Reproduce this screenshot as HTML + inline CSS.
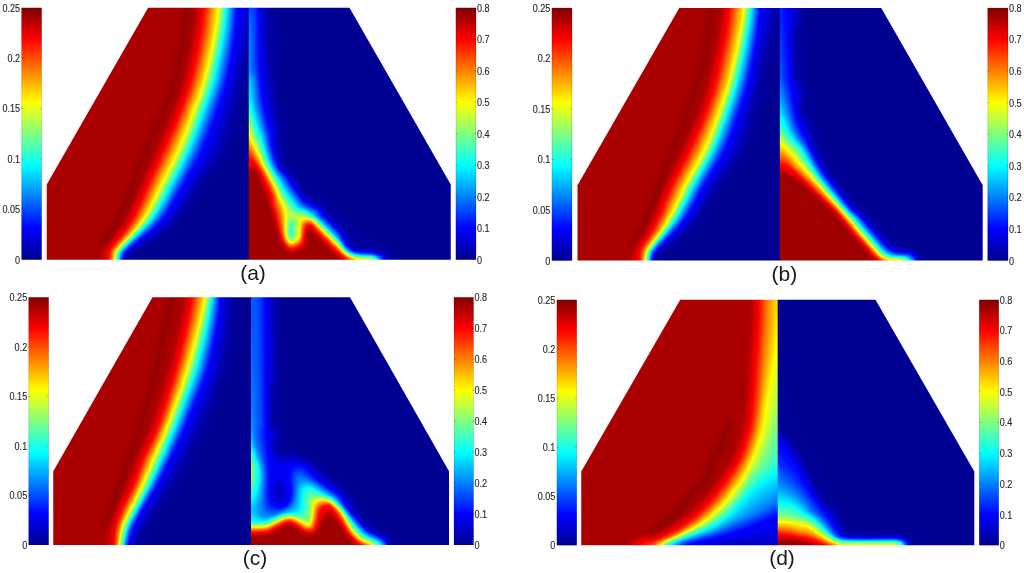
<!DOCTYPE html>
<html lang="en"><head><meta charset="utf-8"><title>Figure</title>
<style>html,body{margin:0;padding:0;background:#fff}svg{display:block}text{font-family:"Liberation Sans",sans-serif;font-size:10px;fill:#262626;stroke:#262626;stroke-width:0.12px}text.cap{font-size:21px;fill:#1a1a1a;stroke:none}</style></head><body>
<svg width="1024" height="573" viewBox="0 0 1024 573">
<defs>
<filter id="jet" filterUnits="userSpaceOnUse" x="0" y="0" width="1024" height="573" color-interpolation-filters="sRGB"><feGaussianBlur stdDeviation="1.2"/><feComponentTransfer><feFuncR type="table" tableValues="0 0 0 0 0.5 1 1 1 0.5"/><feFuncG type="table" tableValues="0 0 0.5 1 1 1 0.5 0 0"/><feFuncB type="table" tableValues="0.5 1 1 1 0.5 0 0 0 0"/><feFuncA type="linear" slope="0" intercept="1"/></feComponentTransfer></filter>
<linearGradient id="cbg" x1="0" y1="1" x2="0" y2="0"><stop offset="0" stop-color="#00008f"/><stop offset="0.125" stop-color="#0000ff"/><stop offset="0.25" stop-color="#0080ff"/><stop offset="0.375" stop-color="#00ffff"/><stop offset="0.5" stop-color="#80ff80"/><stop offset="0.625" stop-color="#ffff00"/><stop offset="0.75" stop-color="#ff8000"/><stop offset="0.875" stop-color="#ff0000"/><stop offset="1" stop-color="#800000"/></linearGradient>
</defs>
<rect width="1024" height="573" fill="#fff"/>
<clipPath id="cla"><polygon points="46.75,259.75 46.75,184.6 148.1,7.8 249.45,7.8 249.45,259.75"/></clipPath>
<clipPath id="cra"><polygon points="248.75,259.75 248.75,7.8 349.5,7.8 450.75,184.6 450.75,259.75"/></clipPath>
<g clip-path="url(#cla)"><g filter="url(#jet)">
<rect x="38.75" y="-0.2" width="218" height="268" fill="#040404"/>
<path fill="#050505" d="M254.8,265.8L128.8,265.8L108.8,266.3L40.8,266.3L40.3,265.8L40.3,1.8L40.8,1.3L195.8,1.3L254.8,1.8Z"/>
<path fill="#080808" d="M131.8,265.8L108.8,266.3L40.8,266.3L40.3,265.8L40.3,1.8L40.8,1.3L195.8,1.3L254.8,1.7L254.8,73.6L248.8,73.6L247.8,76.8L246.8,80.8L241.7,106.8L236.4,129.8L233.1,141.8L231.4,146.8L229.7,150.8L227.6,154.8L224.5,159.8L220.9,164.8L207.3,182.8L203.4,188.8L191.6,207.8L187.4,213.8L182.6,219.8L178.8,223.8L174.6,227.8L169.8,231.8L164.5,235.8L158.8,239.6L150.8,244.4L146.7,246.8L140.8,249.8L137.6,251.8L136.5,252.8L134.9,254.8L133.1,257.8L132.7,259.8L132.7,265.8Z"/>
<path fill="#0b0b0b" d="M126.8,265.8L108.8,266.2L40.8,266.3L40.3,265.8L40.3,1.8L40.8,1.3L195.8,1.3L254.8,1.8L254.8,48.8L248.8,48.8L247.8,51.7L241.8,76.4L236,103.8L230.2,128.8L228.3,135.8L226.4,141.8L224.3,147.8L223,150.8L220.4,155.8L217.2,160.8L201.8,181.8L197.8,187.9L186.1,206.8L182,212.8L177.4,218.8L173.8,222.8L170.7,225.8L166.8,229.4L160.8,234.3L151.8,240.4L140.8,247.2L133.9,250.8L131.8,252.5L129.7,254.8L128.6,256.8L127.8,258.8L127.7,265.8Z"/>
<path fill="#0e0e0e" d="M126.8,265.8L108.8,266.2L40.8,266.3L40.3,265.8L40.3,1.8L40.8,1.3L195.8,1.3L254.8,1.8L254.8,39.8L248.8,39.8L247.8,42.8L241.8,67.7L233.7,103.8L227.9,126.8L225.8,134.8L223.9,140.8L221.3,147.8L219.6,151.8L217.4,155.8L214.3,160.8L198.8,182.7L194.9,188.8L184,206.8L179.9,212.8L176.1,217.8L172.6,221.8L168.6,225.8L164.1,229.8L157.9,234.8L149.8,240.3L139.5,246.8L132.8,250.6L130.8,252.2L128.7,254.8L127.2,257.8L126.8,259.8Z"/>
<path fill="#121212" d="M125.8,265.8L108.8,266.2L40.8,266.3L40.3,265.8L40.3,1.8L40.8,1.3L195.8,1.3L254.8,1.8L254.8,29.5L248.8,29.5L247.8,32.8L246.8,37L234.5,90.8L230,108.8L225.2,126.8L222.6,135.8L219.5,144.8L216.6,151.8L213.9,156.8L210.8,161.8L195.1,184.8L181.8,206.8L177.8,212.8L174,217.8L170.6,221.8L167.7,224.8L163.3,228.8L157.2,233.8L150.2,238.8L138,246.8L132.8,249.9L130.2,251.8L127.9,254.8L126.5,257.8L126.1,259.8L126.1,265.8Z"/>
<path fill="#151515" d="M124.8,265.8L108.8,266.2L40.8,266.3L40.3,265.8L40.3,1.8L40.8,1.3L186.8,1.3L254.8,1.8L254.8,16.3L248.8,16.3L247.8,20.2L243.7,39.8L235.3,78.8L231.8,93.5L224.2,120.8L220.8,132.8L217,143.8L213.6,151.8L211.6,155.8L208.6,160.8L193.4,183.8L180.3,205.8L176.4,211.8L172.7,216.8L169.5,220.8L165.6,224.8L161.2,228.8L155.2,233.8L148.4,238.8L136.5,246.8L131.8,249.8L129.2,251.8L127.1,254.8L125.8,257.8L125.5,259.8L125.5,265.8Z"/>
<path fill="#181818" d="M124.8,265.8L108.8,266.2L40.8,266.2L40.3,265.8L40.3,1.8L40.8,1.4L186.8,1.4L246.7,1.8L246.6,8.8L243.6,27.8L239.4,49.8L232.4,82.8L228.4,97.8L219.2,128.8L215.2,140.8L211.1,150.8L208.1,156.8L204.6,162.8L191.1,183.8L177.6,206.8L171.4,215.8L167.4,220.8L164.6,223.8L160.3,227.8L155.7,231.8L149.3,236.8L130.8,249.7L128.2,251.8L126.3,254.8L125.1,257.8L124.8,259.8Z"/>
<path fill="#1d1d1d" d="M123.8,265.8L108.8,266.2L40.8,266.2L40.3,265.8L40.3,1.8L40.8,1.4L186.8,1.4L217.8,1.5L243.3,1.8L243.3,7.8L243.2,9.8L242,19.8L240.5,30.8L236.8,51.8L230.9,80.8L227.1,94.8L216.8,127.8L212.7,139.8L208.6,149.8L205.7,155.8L201.7,162.8L188.2,184.8L176.7,204.8L173.6,209.8L170.1,214.8L164.5,221.8L161.6,224.8L157.2,228.8L148.7,235.8L129.8,249.6L127.3,251.8L125.8,254.3L124.5,257.8L124.2,259.8L124.2,265.8Z"/>
<path fill="#232323" d="M122.8,265.8L108.8,266.2L40.8,266.2L40.3,265.8L40.3,1.8L40.8,1.4L186.8,1.4L217.8,1.5L237.4,1.8L237.3,9.8L237.1,16.8L236.6,23.8L235.5,33.8L232.5,53.8L229.4,70.8L227.4,80.8L225.4,87.8L223.5,93.8L213.3,123.8L209.3,134.8L204.1,147.8L200.3,155.8L194.4,166.8L182.8,187L173.5,203.8L170.5,208.8L167.2,213.8L161.9,220.8L156.8,226.1L147.8,234L132.7,245.8L127.9,249.8L125.9,251.8L124.8,253.8L123.6,256.8L123.2,259.8L123.2,265.8Z"/>
<path fill="#292929" d="M121.8,265.8L107.8,266.2L40.8,266.2L40.3,265.8L40.3,1.8L40.8,1.4L186.8,1.4L217.8,1.5L235.7,1.8L235.7,9.8L235.4,16.8L234.1,31.8L233,39.8L231.2,51.8L226,78.8L223.9,86.8L221,95.8L208,132.8L202,147.8L198.3,155.8L193,165.8L181.8,185.6L172.3,202.8L166.2,212.8L160.2,220.8L155.4,225.8L145.8,234.3L132.8,244.7L125.8,250.9L124.4,252.8L123.6,254.8L122.8,257.5L122.5,259.8L122.5,265.8Z"/>
<path fill="#303030" d="M121.8,265.8L107.8,266.2L40.8,266.2L40.4,265.8L40.4,1.8L40.8,1.4L186.8,1.4L217.8,1.5L234.7,1.8L234.7,8.8L234.3,17.8L233.6,25.8L232.5,34.8L229.5,53.8L224.6,78.8L222.4,86.8L219.5,95.8L207.1,130.8L204.1,138.8L200.8,146.8L197.1,154.8L192,164.8L180.2,185.8L171,202.8L165.5,211.8L159.8,219.8L155.2,224.8L144,234.8L131.8,244.8L126.1,249.8L124.8,251.3L123.8,252.8L123.3,253.8L122.1,257.8L121.9,259.8L121.9,265.8Z"/>
<path fill="#363636" d="M120.8,265.8L107.8,266.2L40.8,266.2L40.4,265.8L40.4,1.8L40.8,1.4L186.8,1.4L217.8,1.5L233.7,1.8L233.7,8.8L233.3,16.8L232.5,25.8L231.4,34.8L228.2,53.8L223.2,78.8L221.3,85.8L218.3,94.8L205.2,131.8L199.2,146.8L195.1,155.8L189.9,165.8L178.8,185.9L170.3,201.8L164.3,211.8L158.6,219.8L154,224.8L142.9,234.8L131.8,244.2L124.5,250.8L123.2,252.8L121.8,256.8L121.5,259.8L121.5,265.8Z"/>
<path fill="#3d3d3d" d="M120.8,265.8L107.8,266.2L40.8,266.2L40.4,265.8L40.4,1.8L40.8,1.4L186.8,1.4L217.8,1.5L232.7,1.8L232.7,8.8L232.3,15.8L231.5,24.8L230.3,33.8L227.2,52.8L222,77.8L220.1,84.8L217.2,93.8L203.6,131.8L198.1,145.8L193.5,155.8L188.4,165.8L177.8,185.2L168.4,202.8L163,211.8L157.4,219.8L152.8,224.8L141.9,234.8L130.8,244.4L123.9,250.8L122.7,252.8L121.4,256.8L121,259.8L121,265.8Z"/>
<path fill="#434343" d="M119.8,265.8L107.8,266.1L40.8,266.2L40.4,265.8L40.4,1.8L40.8,1.4L186.8,1.4L216.8,1.6L231.7,1.8L231.7,7.8L231.2,15.8L230.4,24.8L229.2,33.8L227.4,44.8L225.5,54.8L220.4,78.8L218.4,85.8L215.4,94.8L202.4,130.8L196.1,146.8L192,155.8L186.4,166.8L175.8,186.5L167.2,202.8L161.2,212.8L156.2,219.8L151.7,224.8L140.9,234.8L130.8,243.7L123.4,250.8L122.2,252.8L120.9,256.8L120.6,259.8L120.6,265.8Z"/>
<path fill="#494949" d="M119.8,265.8L107.8,266.1L40.8,266.1L40.4,265.8L40.4,1.8L40.8,1.5L186.8,1.4L230.7,1.8L230.7,7.8L230.2,15.8L229.3,24.8L228,33.8L226.4,43.8L224.5,53.8L219.3,77.8L217.1,85.8L214.1,94.8L201.1,130.8L195.2,145.8L191.2,154.8L185.2,166.8L167.1,200.8L161.4,210.8L155.9,218.8L151.7,223.8L140.1,234.8L129.8,244L122.9,250.8L121.7,252.8L120.5,256.8L120.1,259.8L120.1,265.8Z"/>
<path fill="#505050" d="M118.8,265.8L107.8,266.1L40.8,266.1L40.4,265.8L40.4,1.8L40.8,1.5L186.8,1.5L229.7,1.8L229.7,7.8L229.2,14.8L228.3,23.8L226.9,33.8L223.3,53.8L218.1,77.8L215.9,85.8L212.8,94.8L200.2,129.8L194.3,144.8L189.9,154.8L184,166.8L166,200.8L160.3,210.8L154.9,218.8L150.7,223.8L139.2,234.8L128.8,244.4L122.4,250.8L121.2,252.8L120,256.8L119.7,259.8L119.7,265.8Z"/>
<path fill="#565656" d="M118.8,265.8L107.8,266.1L40.8,266.1L40.4,265.8L40.4,1.8L40.8,1.5L186.8,1.5L228.7,1.8L228.7,7.8L228.2,14.8L227.2,23.8L225.8,33.8L222.4,52.8L216.9,77.8L214.6,85.8L211.3,95.8L199.4,128.8L193.5,143.8L188.7,154.8L182.8,166.8L165,200.8L159.3,210.8L153.9,218.8L149.7,223.8L138.5,234.8L128.8,243.8L121.9,250.8L120.7,252.8L119.6,256.8L119.3,259.8L119.3,265.8Z"/>
<path fill="#5c5c5c" d="M118.8,265.8L107.8,266.1L40.8,266.1L40.4,265.8L40.4,1.8L40.8,1.5L186.8,1.5L227.7,1.8L227.7,7.8L227.1,14.8L226.1,23.8L224.5,34.8L220.6,55.8L215.4,78.8L213.1,86.8L209.3,97.8L198.5,127.8L192.3,143.8L186.5,156.8L180.1,169.8L163.4,201.8L159.4,208.8L156.3,213.8L151.4,220.8L147.9,224.8L137.7,234.8L127.8,244.1L122.2,249.8L120.7,251.8L119.6,254.8L119,257.8Z"/>
<path fill="#636363" d="M117.8,265.8L106.8,266.1L40.8,266.1L40.5,265.8L40.5,1.8L40.8,1.5L186.8,1.5L226.7,1.8L226.7,7.8L226.2,13.8L225.2,22.8L223.5,34.8L220.3,51.8L214.5,77.8L212.2,85.8L208.2,97.8L197.4,127.8L191.1,143.8L186.3,154.8L180.5,166.8L163.4,199.8L157.2,210.8L152,218.8L147.9,223.8L137,234.8L127.5,243.8L120.9,250.8L119.8,252.8L118.8,256.8L118.5,259.8L118.5,265.8Z"/>
<path fill="#696969" d="M117.8,265.8L106.8,266.1L40.8,266.1L40.5,265.8L40.5,1.8L40.8,1.5L186.8,1.5L225.8,1.8L225.8,7.8L225.2,14.8L224.1,23.8L222.5,34.8L218.4,55.8L213.4,77.8L211.2,85.8L207.5,96.8L196.3,127.8L190.1,143.8L185.3,154.8L178.4,168.8L160.8,202.8L157.5,208.8L153.8,214.8L149.6,220.8L146.2,224.8L136.4,234.8L126.8,244L121.2,249.8L119.8,251.8L118.8,254.8L118.2,257.8L118.1,265.8Z"/>
<path fill="#707070" d="M116.8,265.8L100.8,266.1L40.8,266.1L40.5,265.8L40.5,1.8L40.8,1.5L186.8,1.5L224.9,1.8L224.9,7.8L224.5,12.8L223.4,22.8L221.9,32.8L218.1,52.8L212.4,77.8L210.2,85.8L206.8,95.8L195,128.8L189.2,143.8L185.3,152.8L180,163.8L160.4,201.8L155.4,210.8L150.3,218.8L146.3,223.8L135.7,234.8L125.8,244.4L120,250.8L119,252.8L117.9,256.8L117.7,259.8L117.7,265.8Z"/>
<path fill="#767676" d="M116.8,265.8L100.8,266.1L40.8,266.1L40.5,265.8L40.5,1.8L40.8,1.5L186.8,1.5L224,1.8L224,7.8L223.6,12.8L222.5,22.8L221,32.8L217.2,52.8L211.5,77.8L209.2,85.8L206.2,94.8L194,128.8L188.7,142.8L184.4,152.8L178.8,164.4L167.5,185.8L158.4,203.8L155.1,209.8L152.1,214.8L148,220.8L144.7,224.8L135.1,234.8L124.9,244.8L120.3,249.8L118.9,251.8L118.2,253.8L117.5,256.8L117.3,259.8L117.3,265.8Z"/>
<path fill="#7c7c7c" d="M116.8,265.8L100.8,266L40.8,266L40.5,265.8L40.5,1.8L40.8,1.6L186.8,1.5L223.2,1.8L223.2,7.8L222.6,13.8L221.4,23.8L220.1,32.8L216.3,52.8L210.5,77.8L208.2,85.8L205.2,94.8L192.7,129.8L187.8,142.8L183.8,152.2L178.8,162.5L166.8,185.3L157,204.8L153.7,210.8L150.6,215.8L147.2,220.8L143.1,225.8L134.5,234.8L124.8,244.4L119.8,249.8L118.8,251.3L117.8,253.8L117.1,256.8L116.9,259.8L116.9,265.8Z"/>
<path fill="#838383" d="M115.8,265.8L100.8,266L40.8,266L40.5,265.8L40.5,1.8L40.8,1.6L186.8,1.6L222.3,1.8L222.3,7.8L222,11.8L221,20.8L219.2,32.8L215.4,52.8L209.6,77.8L207.3,85.8L204.3,94.8L191.8,129.8L186.8,142.9L182.8,152.3L177.8,162.5L165.8,185.4L156.1,204.8L152.8,210.8L149.8,215.8L146.4,220.8L142.3,225.8L133.9,234.8L124.8,243.8L120.2,248.8L118.6,250.8L117.6,252.8L116.7,256.8L116.5,259.8L116.5,265.8Z"/>
<path fill="#898989" d="M115.8,265.8L100.8,266L40.8,266L40.5,265.8L40.5,1.8L40.8,1.6L186.8,1.6L221.5,1.8L221.5,7.8L221.1,12.8L219.9,22.8L218.4,32.8L214.5,52.8L209,76.8L207,83.8L204.1,92.8L191.2,128.8L186.6,140.8L182.8,150L177.6,160.8L164.8,185.5L155.2,204.8L151.9,210.8L149,215.8L145.6,220.8L141.6,225.8L133.3,234.8L123.8,244.3L118.1,250.8L117.2,252.8L116.4,256.8L116.1,259.8L116.1,265.8Z"/>
<path fill="#8f8f8f" d="M114.8,265.8L100.8,266L40.8,266L40.5,265.8L40.5,1.8L40.8,1.6L186.8,1.6L220.8,1.8L220.8,7.8L220.3,12.8L219.1,22.8L217.6,32.8L213.9,51.8L208.1,76.8L205.8,84.8L202.8,93.8L190.8,127.2L185.6,140.8L181.4,150.8L176.1,161.8L163.7,185.8L154.3,204.8L151.1,210.8L148.1,215.8L144.8,220.8L140.8,225.8L132.6,234.8L123.7,243.8L119.2,248.8L117.7,250.8L116.8,252.8L116,256.8L115.7,259.8L115.7,265.8Z"/>
<path fill="#969696" d="M114.8,265.8L100.8,266L40.8,266L40.6,265.8L40.6,1.8L40.8,1.6L186.8,1.6L220,1.8L220,7.8L219.6,11.8L218.3,22.8L216.8,32.8L212.8,52.8L207.2,76.8L204.9,84.8L201.9,93.8L190.8,124.6L185.3,138.8L180.3,150.8L175.1,161.8L162.3,186.8L153.8,204.3L147.9,214.8L144,220.8L140.1,225.8L132,234.8L122.8,244.3L117.2,250.8L116.3,252.8L115.7,255.8L115.4,258.8L115.3,265.8Z"/>
<path fill="#9c9c9c" d="M114.8,265.8L100.8,266L40.8,266L40.6,265.8L40.6,1.8L40.8,1.6L186.8,1.6L219.2,1.8L219.2,7.8L218.8,12.6L217.5,22.8L215.8,33.8L211.8,53.9L206.8,75.1L204.8,82.5L201.8,91.8L190.8,122L185.8,135.1L179.8,149.6L174.8,160.4L161.4,186.8L153.8,202.6L147.7,213.8L143.2,220.8L139.3,225.8L131.3,234.8L122.6,243.8L118.2,248.8L116.7,250.8L115.9,252.8L115.3,255.8L115,258.8L114.9,265.8Z"/>
<path fill="#a3a3a3" d="M113.8,265.8L40.8,266L40.6,265.8L40.6,1.8L40.8,1.6L186.8,1.6L218.2,1.8L218.2,7.8L217.8,13.3L216.7,21.8L214.8,34.1L210.8,54.1L205.8,75.2L203.8,82.6L200.8,91.8L189.8,121.8L184.8,134.8L178.8,149.2L173.8,160.1L160.4,186.8L152.8,202.7L146.8,213.8L142.3,220.8L138.5,225.8L130.7,234.8L121.8,244.1L116.2,250.8L115.4,252.8L114.7,256.8L114.5,259.8L114.5,265.8Z"/>
<path fill="#a9a9a9" d="M113.8,265.8L40.8,266L40.6,265.8L40.6,1.8L40.8,1.6L186.8,1.6L217,1.8L217,7.8L216.5,12.8L215.4,21.8L213.8,32.7L209.8,53.1L204.8,74.4L202.8,81.9L199.8,91.2L185.8,128.9L178.8,146.1L172.8,159.3L159.2,186.8L151.6,202.8L145.8,213.8L141.4,220.8L137.7,225.8L130,234.8L121.4,243.8L117.1,248.8L115.7,250.8L114.9,252.8L114.3,255.8L114.1,258.8L114,265.8Z"/>
<path fill="#afafaf" d="M112.8,265.8L40.8,265.9L40.6,265.8L40.6,1.8L40.8,1.7L186.8,1.6L215.5,1.8L215.5,7.8L215.1,11.8L214.1,20.8L212.7,30.8L209.1,49.8L204,71.8L201.7,80.8L198.8,90.2L185.2,126.8L178.7,142.8L172.5,156.8L158.3,185.8L149.4,204.8L144.7,213.8L140.5,220.8L136.8,225.8L129.2,234.8L119.9,244.8L115.1,250.8L114.3,252.8L113.7,256.8L113.5,265.8Z"/>
<path fill="#b6b6b6" d="M112.8,265.8L40.8,265.9L40.6,265.8L40.6,1.8L40.8,1.7L186.8,1.7L214,1.8L214,7.8L213.7,11.8L212.8,19.8L211.6,28.8L208.5,45.8L204.1,65.8L201,78.8L198.6,86.8L195.1,96.8L186.1,120.8L179.3,137.8L172.4,153.8L156.8,186.2L148.2,204.8L143.6,213.8L139.5,220.8L135.1,226.8L128.5,234.8L119.2,244.8L116,248.8L114.6,250.8L113.8,252.8L113.3,255.8L113.1,258.8L113,265.8Z"/>
<path fill="#bcbcbc" d="M111.8,265.8L40.6,265.8L40.6,1.8L186.8,1.7L212.5,1.8L212.5,7.8L212.3,10.8L211.5,18.8L210.3,27.8L207.3,44.8L203.2,63.8L199.9,77.8L197.6,85.8L194.1,95.8L185.4,118.8L178.2,136.8L171.3,152.8L155.8,185.4L146.5,205.8L142,214.8L137.8,221.8L133.5,227.8L127.8,234.8L118.8,244.5L115.3,248.8L114,250.8L113.2,252.8L112.6,256.8L112.5,265.8Z"/>
<path fill="#c2c2c2" d="M111.8,265.8L40.6,265.8L40.6,1.8L211,1.8L211,8.8L209.7,21.8L207.9,33.8L205.3,47.8L202.1,62.8L198.3,78.8L195.6,87.8L191.3,99.8L181.3,125.8L172.1,147.8L166.2,160.8L154.8,184.6L146.3,203.8L141.9,212.8L137.5,220.8L132.6,227.8L127,234.8L117.8,244.8L114.7,248.8L113.4,250.8L112.7,252.8L112.2,255.8L112,258.8L112,265.8Z"/>
<path fill="#c9c9c9" d="M110.8,265.8L40.7,265.8L40.7,1.8L209.6,1.8L209.5,8.8L208.3,21.8L206.5,33.8L204,47.8L200.7,62.8L196.9,78.8L194.2,87.8L190,99.8L181.2,122.8L171.8,145.2L165.7,158.8L152.8,186.2L145.1,203.8L140.8,212.8L136.4,220.8L131.6,227.8L126.1,234.8L117.1,244.8L114,248.8L112.8,250.8L112.1,252.8L111.5,256.8L111.4,265.8Z"/>
<path fill="#cfcfcf" d="M110.8,265.8L40.7,265.8L40.7,1.8L208.2,1.8L208.1,8.8L207,20.8L205.3,32.8L202.8,46.8L199.6,61.8L195.6,78.8L192.9,87.8L189.1,98.8L181.5,118.8L173.8,137.3L166.1,154.8L152.2,184.8L143.4,204.8L139.2,213.8L135.3,220.8L130.7,227.8L125.3,234.8L116.3,244.8L113.4,248.8L112.2,250.8L111.5,252.8L110.9,256.8Z"/>
<path fill="#d6d6d6" d="M109.8,265.8L40.7,265.8L40.7,1.8L206.8,1.8L206.7,8.8L205.6,20.8L203.7,33.8L201.2,47.8L197.8,63.8L194,79.8L190.9,89.8L187.1,100.8L180.8,117.5L175.2,130.8L163.7,156.8L150.5,185.8L141.8,205.8L138,213.8L133.6,221.8L128.9,228.8L124.4,234.8L115.5,244.8L112.7,248.8L111.5,250.8L110.9,252.8L110.4,255.8L110.2,258.8L110.2,265.8Z"/>
<path fill="#dcdcdc" d="M108.8,265.8L40.7,265.8L40.7,1.8L205.4,1.8L205.3,8.8L204,21.8L202.1,34.8L199.8,47.8L196.8,62.1L192.8,79.2L189.8,89.4L185.8,100.9L180.8,114.3L175.8,126.4L149.2,185.8L140.8,205.5L136.8,214L132.8,221.4L127.9,228.8L122.8,235.6L115.5,243.8L111.9,248.8L110.8,250.8L110.2,252.8L109.6,256.8L109.4,265.8Z"/>
<path fill="#e2e2e2" d="M107.8,265.8L40.7,265.8L40.7,1.8L203.8,1.8L203.7,8.8L202.6,19.8L200.8,33.3L197.8,49.8L194.8,63.9L190.8,80.8L187.8,90.8L183.8,102.2L179.8,113L175.8,122.8L148.1,184.8L140.8,202.2L135.8,213.1L131.8,220.7L126.8,228.5L121.8,235.3L114.3,243.8L110.3,249.8L109.2,252.8L108.6,256.8L108.4,265.8Z"/>
<path fill="#e7e7e7" d="M105.8,265.8L40.7,265.8L40.7,1.8L201.2,1.8L201.1,8.8L199.9,20.8L198.1,33.8L195.6,47.8L192.2,63.8L188.5,79.8L185.5,89.8L181.7,100.8L176.9,113.8L173.2,122.8L145.2,185.8L136.7,205.8L133,213.8L128.7,221.8L124.2,228.8L119.9,234.8L111.4,244.8L108.7,248.8L107.6,250.8L107,252.8L106.5,255.8L106.2,258.8L106.2,265.8Z"/>
<path fill="#eaeaea" d="M104.8,265.8L40.7,265.8L40.7,1.8L199.8,1.8L199.7,8.8L198.5,20.8L196.7,33.8L194.2,47.8L191,62.8L187.1,79.8L184.1,89.8L180.3,100.8L175.5,113.8L171.8,122.8L161,146.8L143.8,186L135.3,205.8L131.6,213.8L127.4,221.8L122.9,228.8L118.5,234.8L110.2,244.8L106.3,250.8L105.5,252.8L104.9,256.8Z"/>
<path fill="#ededed" d="M102.8,265.8L40.7,265.8L40.7,1.8L198.4,1.8L198.4,8.8L197.2,20.8L195.3,33.8L193,46.8L189.4,63.8L185.7,79.8L183.1,88.8L179,100.8L174.1,113.8L170.4,122.8L159.6,146.8L142,186.8L134.4,204.8L130.3,213.8L126.1,221.8L121.6,228.8L117.3,234.8L108.9,244.8L104.9,250.8L104.1,252.8L103.5,256.8L103.4,265.8Z"/>
<path fill="#f1f1f1" d="M101.8,265.8L40.7,265.8L40.7,1.8L197.1,1.8L197,8.8L195.8,20.8L194,33.8L191.7,46.8L188.5,61.8L184.6,78.8L182.1,87.8L178,99.8L172.8,113.8L169.1,122.8L158.3,146.8L140.7,186.8L133.2,204.8L129.1,213.8L125.4,220.8L121,227.8L116,234.8L107,245.8L104.1,249.8L103,251.8L102.5,253.8L102.1,256.8L102,265.8Z"/>
<path fill="#f4f4f4" d="M99.8,265.8L40.7,265.8L40.7,1.8L195.7,1.8L195.6,8.8L194.5,20.8L192.8,33.1L189.8,49.7L186.8,63.8L182.8,80.8L179.8,90.8L175.8,102.2L171.8,112.9L167.8,122.6L156.4,147.8L139.4,186.8L131.8,205.2L126.8,215.8L122.8,223.2L116.8,232.1L113.8,236.2L103.4,248.8L101.4,251.8L100.9,253.8L100.4,257.8L100.3,265.8Z"/>
<path fill="#f7f7f7" d="M102.8,247.1L101.8,247.6L100.8,247.8L99.8,247.5L98.8,246.5L98.5,245.8L98.2,243.8L98.5,241.8L99,239.8L101,235.8L103.3,231.8L108.8,224L110.8,220.8L113.8,214.8L115.8,210.4L139.4,149.8L143.4,140.8L152.8,120.9L155.8,113.9L161.8,98.3L165.8,86.7L167.8,79.8L171.8,62.7L174.8,48.4L176.8,37.4L178.8,23.8L179.7,14.8L180.2,7.8L180.2,1.8L192.8,1.8L192.7,8.8L191.7,20.8L190.1,32.8L188,44.8L185.2,58.8L180.6,78.8L178.3,86.8L174.5,97.8L169.2,111.8L166.3,118.8L155.8,141.3L151.8,150.5L131.8,201.1L128.8,208.3L125.8,214.9L123.8,218.8L120.8,223.9L112.8,235.6L108.8,240.7L104.8,245.1Z"/>
<path fill="#fafafa" d="M105.8,240.4L104.8,240.8L103.8,239.8L104.2,238.8L105.8,235.7L107.8,232.3L112.3,225.8L115.5,220.8L120.3,210.8L123.1,203.8L128.8,188.8L142.8,153L146.8,143.6L155.2,125.8L159.2,116.8L164.3,103.8L168.4,92.8L171.3,83.8L173.2,76.8L177.3,58.8L180.3,43.8L182.3,31.8L184.1,17.8L184.8,7.8L184.8,1.8L188.1,1.8L188,10.8L186.8,23.7L185.8,31L183.8,43L180.8,58L176.8,75.8L174.8,83.3L171.8,92.6L167.8,103.5L162.8,116.2L158.8,125.2L151.3,140.8L146.1,152.8L132.4,187.8L126.8,203L122.8,212.6L118.8,220.7L116.8,223.9L111.2,231.8L106.8,239.7Z"/>
</g></g>
<g clip-path="url(#cra)"><g filter="url(#jet)">
<rect x="240.75" y="-0.2" width="218" height="268" fill="#040404"/>
<path fill="#050505" d="M456.8,265.8L391.8,265.8L372.8,266.2L340.8,266.3L242.8,266.3L242.3,265.8L242.3,160.8L242.6,1.8L242.8,1.6L279.8,1.8L456.8,1.8Z"/>
<path fill="#080808" d="M393.8,265.8L372.8,266.1L341.8,266.3L242.8,266.3L242.3,265.8L242.3,174.8L242.6,1.8L242.8,1.7L273.8,1.8L274,13.8L274.4,17.8L274.8,20.1L275.8,22.5L278.8,25.5L279.6,26.8L280.1,28.8L280.4,30.8L281,39.8L280.9,45.8L280.3,52.8L278,71.8L277.8,76.8L278,81.8L278.8,89.8L279.8,96.7L281.2,104.8L281.8,107.1L282.8,110L285.5,115.8L286.3,117.8L287,120.8L287.6,123.8L287.9,128.8L287.1,141.8L287.2,152.8L287.9,159.8L288.7,162.8L289.6,164.8L291.7,167.8L297.4,174.8L303.8,183.8L306.8,187.2L308.8,189.1L313.8,192.6L327.8,201L331.6,203.8L333.5,205.8L337.6,210.8L349.8,222.8L354.8,227.1L363.3,233.8L368.9,237.8L376.8,242.8L380.5,244.8L388.8,248.4L390.6,249.8L391.8,251.3L392.4,252.8L393.6,256.8L394,259.8L394,265.8Z"/>
<path fill="#0b0b0b" d="M390.8,265.8L372.8,266.1L341.8,266.3L242.8,266.3L242.3,265.8L242.3,174.8L242.6,1.8L242.8,1.7L268.5,1.8L268.6,12.8L269.2,26.8L270.8,52.9L272.7,76.8L273.8,85L275.8,97.8L281.4,128.8L281.4,132.8L280.3,137.8L280.1,139.8L280,142.8L280.4,146.8L282.8,158.8L283.8,162.3L284.8,164.5L286.4,166.8L291.3,171.8L294.5,175.8L297.2,179.8L302.8,188.7L304.8,191.5L306.8,193.7L309.1,195.8L311.9,197.8L321.8,203.4L323.8,204.9L324.8,205.8L326.3,207.8L328.8,212.2L330,213.8L337.8,220.8L345.4,228.8L348.4,232.8L349.4,234.8L351.9,240.8L352.8,242.3L354,243.8L355.2,244.8L357,245.8L360,246.8L363.8,247.3L372.8,248L375.8,248.4L379.8,249.3L382.8,250.4L384.8,251.4L387.8,253.8L389.4,255.8L390.4,257.8L391,259.8L391,265.8Z"/>
<path fill="#0e0e0e" d="M388.8,265.8L372.8,266.1L341.8,266.3L242.8,266.3L242.3,265.8L242.3,174.8L242.6,1.8L242.8,1.7L266.4,1.8L266.8,21.7L267.8,43.3L268.8,58.4L270.3,75.8L271.6,86.8L273.8,100.2L279.2,129.8L279.1,132.8L278.2,136.8L278,138.8L278,142.8L278.4,147.8L280.8,158.8L281.8,162L283,164.8L285.1,167.8L290,172.8L292.5,175.8L295.2,179.8L301.8,190.3L305.4,194.8L307.4,196.8L310.1,198.8L319.8,204.3L322.8,206.4L324.8,208.8L327.1,212.8L328.6,214.8L336.8,222.3L343,228.8L346.1,232.8L347.3,234.8L350.2,241.8L351.5,243.8L352.5,244.8L353.7,245.8L355.4,246.8L358,247.8L363.8,248.8L371.8,249.2L375.8,249.7L378.8,250.4L380.8,251.1L383.8,252.6L385.8,254.1L387.4,255.8L388.1,256.8L389.1,258.8L389.4,259.8L389.4,265.8Z"/>
<path fill="#121212" d="M387.8,265.8L372.8,266.1L341.8,266.3L242.8,266.3L242.3,265.8L242.3,174.8L242.8,1.7L264.9,1.8L265.1,17.8L266.1,42.8L267.2,60.8L268.6,77.8L269.8,87.2L271.9,100.8L277.5,129.8L277.5,132.8L276.7,136.8L276.6,138.8L277,147.8L279.8,159.6L280.8,162.9L281.8,165.2L283.8,168.2L288.5,172.8L291,175.8L294.5,180.8L300.8,191L302.8,193.7L304.8,196L306.8,197.9L309.3,199.8L319.8,205.7L322.6,207.8L324.2,209.8L326.2,213.8L327.8,215.8L334.8,222L342.3,229.8L344,231.8L345.9,234.8L348.8,241.7L349.3,242.8L350.8,244.7L351.8,245.7L354.8,247.6L358.1,248.8L362.8,249.5L371.8,250.1L374.8,250.5L378.8,251.5L382.8,253.2L384.8,254.7L386,255.8L387.5,257.8L388,258.8L388.3,259.8L388.3,265.8Z"/>
<path fill="#151515" d="M386.8,265.8L372.8,266.1L341.8,266.2L242.8,266.3L242.3,265.8L242.3,174.8L242.8,1.7L263.5,1.8L263.8,17.8L264.7,44.8L265.8,63.8L267,79.8L268.2,88.8L270.4,102.8L276.1,130.8L276.1,132.8L275.5,137.8L275.9,142.8L275.7,145.8L275.9,147.8L278.8,159.8L279.8,162.9L281,165.8L283,168.8L287.8,173.3L289.9,175.8L293.4,180.8L299.5,190.8L303.8,196.2L306.4,198.8L308.8,200.5L319.8,206.7L321.8,208.1L323.2,209.8L325,213.8L326.5,215.8L333.2,221.8L341.2,229.8L343.6,232.8L344.8,234.8L348.2,242.8L349.5,244.8L350.8,246.1L351.8,246.9L353.8,248.2L355.8,249L357.8,249.6L361.8,250.2L370.8,250.8L373.8,251.2L378.8,252.4L381.8,253.6L384.9,255.8L385.8,256.8L387.2,258.8L387.5,259.8L387.5,265.8Z"/>
<path fill="#181818" d="M386.8,265.8L372.8,266.1L341.8,266.2L242.8,266.2L242.3,265.8L242.3,174.8L242.8,1.7L262.3,1.8L262.5,18.8L263.4,47.8L264.4,68.8L265.4,81.8L266.6,90.8L268.8,103.8L274.6,130.8L274.7,132.8L274.5,136.8L275.2,142.8L274.7,145.8L274.8,147.8L278.2,160.8L279.2,163.8L280.6,166.8L282.8,169.7L286.8,173.4L288.9,175.8L291.1,178.8L298.5,190.8L300.8,193.8L303.8,197.4L306.3,199.8L308.8,201.6L319.8,207.6L321.8,209L323,210.8L324.1,213.8L324.6,214.8L325.4,215.8L333.2,222.8L341,230.8L342.6,232.8L344.4,235.8L346.4,240.8L347.8,243.8L348.8,245.2L350.3,246.8L351.8,248L353.8,249.1L357.8,250.5L362.8,251.2L374.8,252.1L378.8,253L381.8,254.3L383.8,255.7L384.8,256.6L386.4,258.8L386.8,259.8Z"/>
<path fill="#1d1d1d" d="M385.8,265.8L372.8,266.1L341.8,266.2L242.8,266.2L242.3,265.8L242.3,174.8L242.8,1.7L261,1.8L261.3,20.8L262.2,53.8L263,72.8L263.8,82.8L264.8,90.8L267,103.8L273.2,131.8L273.5,136.8L274.4,142.8L273.7,145.8L273.7,147.8L276.8,159.1L278.7,164.8L279.8,166.9L281.8,169.8L286.2,173.8L288,175.8L290.2,178.8L296.9,189.8L299.9,193.8L303.8,198.4L305.8,200.4L307.8,201.9L320.8,209L321.6,209.8L322.3,210.8L323.7,214.8L324.5,215.8L331.1,221.8L340.1,230.8L342.4,233.8L343.5,235.8L345.8,241.7L346.8,243.8L349.2,246.8L351.6,248.8L355.8,250.8L357.8,251.1L360.4,251.8L370.8,252.1L373.8,252.4L377.8,253.2L380.8,254.3L382.8,255.6L384.2,256.8L385.8,258.8L386.2,259.8L386.2,265.8Z"/>
<path fill="#232323" d="M384.8,265.8L372.8,266.1L340.8,266.2L242.8,266.2L242.3,265.8L242.3,174.8L242.8,1.7L258.8,1.8L259,23.8L259.9,69.8L260.8,81.9L261.4,87.8L262.8,97.3L264.8,108L271.6,135.8L271.5,139.8L271.9,142.8L271.8,145.8L271.9,146.8L274.8,157.3L275.8,160.3L277.5,164.8L278.8,167.4L280.8,170.3L285.5,174.8L287.2,176.8L289.2,179.8L292.8,186L294.8,189.1L303.8,200.2L305.8,202.1L308.3,203.8L317.8,208.6L319.8,209.8L320.8,210.8L321.4,211.8L322.2,214.8L322.9,215.8L327.5,219.8L338.7,230.8L340.3,232.8L341.5,234.8L344.6,241.8L345.6,243.8L347.1,245.8L349,247.8L351.8,249.8L354,250.8L357.3,251.8L361.8,252.4L373.8,253.1L376.8,253.6L379.8,254.7L381.7,255.8L382.9,256.8L384.6,258.8L385.1,259.8L385.1,265.8Z"/>
<path fill="#292929" d="M383.8,265.8L371.8,266.1L340.8,266.2L242.8,266.2L242.3,265.8L242.3,174.8L242.8,1.8L257.1,1.8L258,69.8L260.6,93.8L261.8,101.7L262.8,106.9L266.8,123.3L270.1,135.8L270.2,136.8L269.5,139.8L270.7,146.8L274.8,160.4L276.5,164.8L277.8,167.4L280,170.8L285,175.8L286.6,177.8L293.8,189.7L302.8,200.9L304.8,202.8L306.8,204.1L316.8,209.2L319.2,210.8L320,211.8L320.9,214.8L321.5,215.8L326.8,220.2L336.8,230.1L339.1,232.8L341,235.8L344.8,243.7L346.2,245.8L348.1,247.8L350.8,249.8L352.8,250.9L355.8,251.9L361,252.8L373.8,253.5L376.8,254.1L379.8,255.4L381.8,256.8L382.8,257.7L383.6,258.8L384.1,259.8L384.1,265.8Z"/>
<path fill="#303030" d="M382.8,265.8L371.8,266.1L340.8,266.2L242.8,266.2L242.3,265.8L242.3,174.8L242.8,1.8L255.5,1.8L256.4,68.8L256.6,70.8L257.8,76.8L259.8,96.9L260.8,103.8L262.7,112.8L265.7,124.8L268.9,135.8L269,136.8L268.6,139.8L269.6,145.8L273.3,158.8L274.8,162.8L276.8,167.2L278.3,169.8L279.8,171.7L283.8,175.8L285.4,177.8L287.4,180.8L290.8,186.8L292.7,189.8L298.4,196.8L302.1,201.8L304.4,203.8L306.8,205.3L314.8,209.1L317.8,210.9L318.8,212.1L319.7,214.8L320.3,215.8L325.8,220.3L336.3,230.8L338.1,232.8L340.1,235.8L342.8,241.2L344.8,244.8L347.8,248.2L349.7,249.8L351.5,250.8L353.9,251.8L356.8,252.6L361.8,253.2L373.8,253.9L375.8,254.3L378.8,255.5L380.8,256.8L381.8,257.7L382.7,258.8L383.2,259.8L383.2,265.8Z"/>
<path fill="#363636" d="M381.8,265.8L371.8,266L340.8,266.2L242.8,266.2L242.4,265.8L242.4,174.8L242.8,7.8L248.8,7.8L250.3,10.8L252.8,17.3L253.4,19.8L253.7,21.8L253.9,24.8L254.4,68.8L254.8,70.8L255.9,73.8L256.8,77.1L258.2,93.8L259.2,101.8L260.7,109.8L263.1,119.8L265.2,127.8L267.7,135.8L267.9,136.8L267.8,139.8L268.4,142.8L268.8,145.8L272.5,158.8L274.4,163.8L276.3,167.8L278.8,171.6L283.5,176.8L284.8,178.4L291.5,189.8L293,191.8L297.8,197.4L300.8,201.8L301.6,202.8L303.8,204.6L305.7,205.8L308.8,207.4L314.4,209.8L316.1,210.8L317.3,211.8L317.9,212.8L318.6,214.8L319.2,215.8L320.2,216.8L322.9,218.8L325.2,220.8L337.1,232.8L339.3,235.8L343.8,244L345.8,246.8L347.7,248.8L350.8,250.9L352.8,251.8L355.9,252.8L361.8,253.6L372.8,254.1L374.8,254.5L377.8,255.6L379.8,256.7L380.8,257.5L381.9,258.8L382.5,259.8L382.5,265.8Z"/>
<path fill="#3d3d3d" d="M380.8,265.8L371.8,266L340.8,266.2L242.8,266.2L242.4,265.8L242.4,174.8L242.8,20L248.8,20L249.8,21.6L250.9,24.8L251.3,28.8L251.8,58.3L252.2,69.8L252.8,71.8L254.8,74.7L255.8,77.9L256.2,81.8L257.6,99.8L258.8,106.8L260.8,115.9L263.1,124.8L266.8,136.8L267,139.8L267.6,142.8L268,145.8L270.8,155.8L273.2,162.8L276.1,168.8L278,171.8L283.9,178.8L290.8,190.3L292.6,192.8L296.9,197.8L300.2,202.8L301.8,204.3L303.9,205.8L307.6,207.8L313.8,210.4L315.9,211.8L316.7,212.8L318.1,215.8L318.8,216.5L324.2,220.8L336.8,233.5L338.8,236.3L343.8,244.8L345.3,246.8L347.2,248.8L348.8,250.1L350.8,251.3L352.8,252.2L355.8,253.1L361.8,253.9L372.8,254.5L374.8,254.9L377.1,255.8L378.9,256.8L380.2,257.8L381.1,258.8L381.7,259.8L381.7,265.8Z"/>
<path fill="#434343" d="M380.8,265.8L371.8,266L340.8,266.2L242.8,266.2L242.4,265.8L242.4,174.8L242.8,33.6L248.8,33.6L249.6,43.8L250.6,70.8L250.8,71.9L251.5,73.8L253.8,77.1L254.8,80L256.2,98.8L257.7,107.8L259.8,116.9L261.8,124.6L265.7,136.8L266.1,139.8L267.2,145.8L270.4,156.8L272.9,163.8L275.9,169.8L277.8,172.6L282.8,178.8L290,190.8L291.8,193.2L295.8,197.9L298.8,202.6L299.7,203.8L301.8,205.5L303.9,206.8L307.8,208.7L312.8,210.8L314.8,212.1L315.8,213.3L317,215.8L317.9,216.8L323.2,220.8L335.8,233.4L338.8,237.4L343.8,245.4L344.8,246.8L346.8,248.9L348.8,250.6L350.8,251.7L353.3,252.8L355.8,253.5L361.8,254.3L372.8,254.8L374.8,255.3L376.8,256.1L379.4,257.8L380.4,258.8L381,259.8L381,265.8Z"/>
<path fill="#494949" d="M379.8,265.8L340.8,266.2L242.8,266.2L242.4,265.8L242.4,174.8L242.8,54.7L248.8,54.7L249.8,72.3L250.4,74.8L252.6,78.8L253.3,80.8L254.2,89.8L255,99.8L256.1,105.8L257.6,112.8L260.8,124.9L264.6,136.8L265.3,140.8L266.2,144.8L269.9,157.8L272.6,164.8L275.8,170.9L282.4,179.8L289.5,191.8L295.1,198.8L297.6,202.8L298.8,204.2L300.6,205.8L302.2,206.8L311.8,211.3L314,212.8L316,215.8L316.9,216.8L322.2,220.8L335.1,233.8L338.8,238.4L343.8,246L346.8,249.4L348.5,250.8L350.1,251.8L352.8,252.9L355.7,253.8L361.8,254.6L371.8,255L374.8,255.7L376.8,256.6L378.8,257.9L379.6,258.8L380.3,259.8L380.3,265.8Z"/>
<path fill="#505050" d="M378.8,265.8L340.8,266.1L242.8,266.1L242.4,265.8L242.4,174.8L242.8,72.1L248.8,72.1L249.2,74.8L251,78.8L251.5,80.8L252.6,89.8L253.4,98.8L255.3,107.8L259.4,123.8L261.5,130.8L263.6,136.8L264.4,140.8L265.4,144.8L269.1,157.8L270.5,161.8L272.2,165.8L274.9,170.8L276.8,173.6L281.3,179.8L286.8,189.2L288.8,192.4L293.8,198.8L297.1,203.8L298.8,205.6L300.8,207L308.9,210.8L312.4,212.8L313.8,214L316,216.8L320,219.8L322.3,221.8L335.8,235.5L339.8,240.5L344.7,247.8L347.8,250.7L349.4,251.8L351.5,252.8L355.8,254.1L361.8,254.9L371.8,255.3L373.8,255.7L375.8,256.5L377.8,257.8L378.9,258.8L379.6,259.8L379.6,265.8Z"/>
<path fill="#565656" d="M378.8,265.8L340.8,266.1L242.8,266.1L242.4,265.8L242.4,174.8L242.8,77.5L248.8,77.5L248.9,77.8L249.6,80.8L250.3,84.8L251.2,91.8L251.9,98.8L253.3,104.8L258.4,123.8L260.5,130.8L262.8,137.3L264.6,144.8L268.3,157.8L269.7,161.8L271.5,165.8L274.1,170.8L280.9,180.8L286,189.8L288.6,193.8L293.2,199.8L295.8,203.8L297.8,205.9L298.8,206.8L300.5,207.8L306.8,210.4L310.8,212.8L312.8,214.3L315.2,216.8L321.5,221.8L336.8,237.4L340.3,241.8L344.3,247.8L347.3,250.8L348.8,251.8L350.8,252.8L353.3,253.8L355.8,254.5L361.8,255.3L371.8,255.6L373.8,256.1L375.4,256.8L377.8,258.4L378.9,259.8L378.9,265.8Z"/>
<path fill="#5c5c5c" d="M377.8,265.8L340.8,266.1L242.8,266.1L242.4,265.8L242.4,174.8L242.8,87.8L248.8,87.8L249.8,93.1L250.5,98.8L253.1,108.8L258.5,127.8L261.9,137.8L267.8,158.3L269.8,163.8L273.8,171.4L279.9,180.8L286.1,191.8L288.1,194.8L291.9,199.8L294.8,204L296.8,206.3L298.7,207.8L300.8,208.8L305.8,210.6L307.9,211.8L312.8,215.3L319.8,220.9L337.8,239.2L340.8,242.9L343.9,247.8L345.8,249.9L347.8,251.5L349.8,252.7L351.8,253.6L355.8,254.8L361.8,255.6L371.8,256L374.5,256.8L376.8,258.2L377.5,258.8L378.2,259.8L378.2,265.8Z"/>
<path fill="#636363" d="M376.8,265.8L340.8,266.1L242.8,266.1L242.4,265.8L242.5,174.8L242.8,98.8L248.8,98.8L250.8,104.9L258.1,129.8L261.2,138.8L266.8,157.8L268.8,163.1L272.8,171L279.5,181.8L285.8,193L287.8,196L290.8,199.8L294,204.8L295.8,206.8L297,207.8L298.7,208.8L304.8,210.9L306.8,211.8L312.8,216L319.8,221.5L337.8,239.7L340.8,243.4L343.8,248.1L345.8,250.3L347.6,251.8L349.8,253.1L351.8,254L355.8,255.1L361.8,255.9L370.8,256.2L373.8,256.8L375.8,257.9L376.8,258.8L377.6,259.8L377.6,265.8Z"/>
<path fill="#696969" d="M376.8,265.8L340.8,266.1L242.8,266.1L242.5,265.8L242.5,174.8L242.8,103.6L248.8,103.6L250.1,106.8L257.2,130.8L260.6,139.8L266.1,157.8L267.9,162.8L271.8,170.4L279.2,182.8L284.8,193L287.2,196.8L289.8,199.8L293.8,206.1L295.5,207.8L297.8,209.3L299.8,210.1L303.8,211.2L305.8,212L308.8,214.1L312.8,216.5L318.3,220.8L320.8,223.1L337.8,240.2L340.7,243.8L343.8,248.6L345.8,250.7L347,251.8L348.8,252.9L350.8,253.9L352.8,254.7L355.8,255.5L361.8,256.2L370.8,256.5L372.6,256.8L373.8,257.2L375.8,258.5L376.9,259.8L376.9,265.8Z"/>
<path fill="#707070" d="M375.8,265.8L340.8,266.1L242.8,266.1L242.5,265.8L242.5,174.8L242.8,107.1L248.8,107.1L249.8,109.7L256.3,131.8L257.8,135.8L259.6,139.8L265.4,157.8L267.7,163.8L271.8,171.6L278.4,182.8L284.8,194.7L286.7,197.8L288.8,199.8L289.5,200.8L291.8,205.1L292.9,206.8L294.8,208.5L296.8,209.8L299.5,210.8L303.8,211.8L305.8,212.7L308.5,214.8L312.8,217L316.5,219.8L319.9,222.8L337.8,240.7L340.4,243.8L343.8,249.1L345.8,251.2L347.8,252.7L351.8,254.6L355.8,255.8L361.8,256.5L370.8,256.8L372.8,257.2L374.8,258.2L375.5,258.8L376.3,259.8L376.3,265.8ZM291.1,234.8L291.8,233.8L291.9,230.8L291.8,228.7L290.8,226.3L290.3,228.8L290.1,231.8L290.3,233.8L290.6,234.8L290.8,235Z"/>
<path fill="#767676" d="M374.8,265.8L340.8,266.1L242.8,266.1L242.5,265.8L242.5,174.8L242.8,110.6L248.8,110.6L249.8,113.5L252.8,124.5L255.4,132.8L256.9,136.8L258.8,140.5L264.7,157.8L267.1,163.8L271.8,172.8L278.2,183.8L284.8,196.5L285.8,198.1L287.8,199.9L288.8,201.1L291,205.8L292.3,207.8L294.8,209.7L296.8,210.8L298.8,211.4L302.8,212.2L304.5,212.8L307.2,214.8L310.8,216.3L312.8,217.4L316,219.8L319.8,223.2L326.8,230.4L337.8,241.2L340,243.8L343.8,249.6L345.8,251.6L347.8,253.1L351.8,255L355.8,256.1L361.8,256.9L370.8,257.1L372.8,257.6L374.8,258.7L375.7,259.8L375.7,265.8ZM292.4,235.8L292.7,234.8L292.9,232.8L292.7,226.8L292.2,223.8L291.8,222.8L290.8,222.6L290,223.8L289.7,224.8L289.3,230.8L289.4,233.8L289.8,235.5L290.8,236.7L291.8,236.6Z"/>
<path fill="#7c7c7c" d="M374.8,265.8L340.8,266L242.8,266.1L242.5,265.8L242.5,174.8L242.8,114.1L248.8,114.1L251.8,125.2L254.8,134.3L255.8,136.9L257.3,139.8L258.8,143.3L264,157.8L266.5,163.8L270.8,172.1L277.4,183.8L284.5,197.8L285.8,199.6L287.2,200.8L288,201.8L290.3,206.8L291.7,208.8L293.8,210.3L296.8,211.7L303.8,213.3L306.8,215.3L310.8,216.7L312.8,217.8L314.2,218.8L319.8,223.7L331.8,235.9L337.8,241.7L339.8,243.9L343.5,249.8L345.5,251.8L347.8,253.4L351.8,255.3L355.8,256.5L361.8,257.2L370.8,257.5L372.3,257.8L373.8,258.5L375.1,259.8L375.1,265.8ZM292.9,236.8L293.7,234.8L293.8,232.8L293.4,223.8L293.3,222.8L292.8,221.7L291.8,221L290.8,221L289.8,221.9L289.2,223.8L288.8,228.2L288.7,233.8L289.2,235.8L289.6,236.8L290.8,237.7L291.8,237.7Z"/>
<path fill="#838383" d="M373.8,265.8L339.8,266L242.8,266L242.5,265.8L242.5,174.8L242.8,117.6L248.8,117.6L250.8,125.3L253.8,134.5L255.1,137.8L258.4,144.8L263.3,157.8L265.4,162.8L269.4,170.8L277.2,184.8L283.5,197.8L284.8,199.8L287.1,202.8L288.8,205.7L289.8,208L290.8,209.4L292.8,211L295.8,212.4L298.8,213.2L302.8,213.8L303.8,214.3L306,215.8L310.8,217.1L313.7,218.8L319.2,223.8L332.1,236.8L337.8,242.2L339.8,244.5L343.1,249.8L345.1,251.8L347.8,253.8L351.8,255.7L355.8,256.8L361.8,257.5L370.8,257.8L371.8,258L373.6,258.8L374.6,259.8L374.6,265.8ZM293.2,237.8L294,236.8L294.4,235.8L294.7,233.8L294.5,222.8L293.9,220.8L292.9,219.8L291.8,219.3L290.8,219.4L289.8,220.1L288.9,221.8L288.7,222.8L288.1,230.8L288.3,234.8L288.9,236.8L289.8,238L290.8,238.6L291.8,238.6Z"/>
<path fill="#898989" d="M373.8,265.8L339.8,266L242.8,266L242.5,265.8L242.5,175.8L242.8,121.1L248.8,121.1L250.8,128.4L253.8,136.9L255.8,141.7L257.9,145.8L263,158.8L265.2,163.8L268.8,170.8L276,183.8L282.6,197.8L287.7,205.8L289,208.8L290.3,210.8L291.8,211.9L295.8,213.6L298.8,214.3L302.8,214.8L305.8,216.4L310.8,217.5L312.8,218.6L314.4,219.8L318.6,223.8L331.8,237L337.8,242.7L339.8,245.1L342.8,249.8L345.8,252.8L347.8,254.1L349.8,255.2L351.8,256L354.8,256.9L361.8,257.8L370.8,258.2L372.8,258.8L374,259.8L374,265.8ZM293.4,238.8L294.4,237.8L295,236.8L295.6,234.8L295.7,231.8L295.6,221.8L294.9,219.8L293.8,218.6L292.1,217.8L290.8,217.7L289.8,218.3L289.4,218.8L288.8,220.1L288.3,221.8L287.6,229.8L287.7,234.8L288.3,236.8L288.7,237.8L289.8,239L290.8,239.4L291.8,239.5Z"/>
<path fill="#8f8f8f" d="M372.8,265.8L339.8,266L242.8,266L242.5,265.8L242.5,175.8L242.8,124.4L248.8,124.4L251,131.8L253.8,139L254.9,141.8L257.5,146.8L264.1,162.8L268.2,170.8L275.3,183.8L279.1,191.8L281.7,197.8L283.7,200.8L286.7,205.8L288.7,210.8L289.8,212.3L290.8,213L291.8,213.5L295.8,214.9L302.8,216L305.8,217.1L310.8,217.9L312.5,218.8L313.8,219.8L318.8,224.5L331.8,237.7L337.8,243.4L339.8,245.8L342.4,249.8L343.8,251.3L345.8,253.1L347.8,254.5L349.8,255.5L351.8,256.4L354.8,257.3L360.8,258.1L369.8,258.5L371.8,258.8L373.4,259.8L373.4,265.8ZM293.4,239.8L294.6,238.8L295.5,237.8L296,236.8L296.7,234.8L296.8,221.8L296.2,219.8L294.8,217.7L292.8,216.6L290.8,216.3L289.8,216.7L288.8,217.8L287.8,220.8L287.5,223.8L287.1,229.8L287.2,234.8L288.1,237.8L288.8,239L289.7,239.8L290.8,240.3L291.8,240.3Z"/>
<path fill="#969696" d="M371.8,265.8L339.8,266L242.8,266L242.5,265.8L242.6,175.8L242.8,127.4L248.8,127.4L250.5,132.8L254,141.8L256.8,147L263.5,162.8L267.5,170.8L274.7,183.8L278.4,191.8L280.8,197.8L283.5,201.8L286.2,206.8L287.4,210.8L288.8,213.8L289,214.8L287.8,217.6L287.2,220.8L286.5,231.8L286.7,234.8L287.1,236.8L287.8,238.5L288.8,239.9L289.8,240.7L290.8,241.1L291.8,241.1L293.1,240.8L294.7,239.8L295.7,238.8L296.5,237.8L297.5,235.8L297.8,233.8L298,221.8L297.9,220.8L296.9,217.8L297.8,216.8L302.8,217.1L305.8,217.7L308.8,218L310.8,218.4L312.8,219.5L314.3,220.8L331.8,238.3L337.5,243.8L339.8,246.5L342.8,250.7L345.8,253.5L347.7,254.8L349.8,255.9L351.8,256.7L354.8,257.6L359.8,258.4L369.8,259L371.8,259.4L372.6,259.8L372.6,265.8Z"/>
<path fill="#9c9c9c" d="M370.8,265.8L339.8,266L242.8,266L242.6,265.8L242.6,175.8L242.8,130.3L248.8,130.3L253.2,141.8L256.8,148.9L262.9,162.8L266.9,170.8L274,183.8L277.2,190.8L280.4,198.8L282.8,201.9L285.2,206.8L286.5,211.8L287,214.8L286.1,228.8L286.1,233.8L286.4,235.8L286.9,237.8L287.8,239.6L288.8,240.8L289.8,241.4L290.8,241.8L291.8,241.9L292.8,241.8L294.6,240.8L295.8,239.8L297.5,237.8L298.1,236.8L298.7,234.8L298.9,224.8L299.2,219.8L299.6,218.8L300.8,218.4L302.8,218.1L308.8,218.4L310.8,218.8L312.5,219.8L313.8,220.9L330.8,238L336.8,243.8L338.8,245.9L342.5,250.8L345.8,253.8L347.8,255.2L350.8,256.6L354.8,257.9L358.8,258.6L371,259.8L371,265.8Z"/>
<path fill="#a3a3a3" d="M365.8,265.8L339.8,266L242.8,266L242.6,265.8L242.8,133.1L248.8,133.1L252.3,141.8L255.8,148.6L262.2,162.8L266.3,170.8L272.9,182.8L277,191.8L279.8,199.2L284.2,206.8L285.4,211.8L285.9,216.8L285.5,230.8L285.7,234.8L286.8,238.6L288,240.8L289.2,241.8L290.8,242.5L291.8,242.7L292.8,242.5L294.3,241.8L295.7,240.8L297.8,238.8L298.5,237.8L298.9,236.8L299.3,234.8L299.6,226.8L299.9,223.8L300.6,220.8L301.4,219.8L302.8,219.1L304.8,218.9L308.8,218.9L310.8,219.3L311.8,219.8L313.8,221.5L324.9,232.8L337.1,244.8L338.8,246.6L342.1,250.8L345.8,254.2L347.8,255.5L350.8,257L353.8,258L358.8,259L366,259.8L366,265.8Z"/>
<path fill="#a9a9a9" d="M360.8,265.8L339.8,266L242.8,266L242.6,265.8L242.8,135.9L248.8,135.9L249.8,137.8L251.8,142.8L255.8,150.5L262.1,163.8L272.8,183.8L276.3,191.8L279.8,201.1L281.1,203.8L283.1,206.8L283.8,208.7L284.2,210.8L284.5,214.8L285,217.8L285,230.8L285.3,234.8L285.7,236.8L286.4,238.8L287.8,241.2L288.8,242.2L289.8,242.8L290.8,243.2L291.8,243.3L293.8,242.8L295.4,241.8L297.8,239.8L298.8,238.7L299.8,236.2L300.4,224.8L300.9,222.8L301.8,221L302.8,220.1L304.8,219.5L308.8,219.4L310.8,219.8L311.8,220.3L313.8,222.1L323.8,232.3L337.8,246.2L342.7,251.8L345.8,254.5L348.8,256.3L352.8,258.1L356.8,259.1L361.5,259.8L361.5,265.8Z"/>
<path fill="#afafaf" d="M357.8,265.8L339.8,265.9L242.8,265.9L242.6,265.8L242.8,138.7L248.8,138.7L254.8,150.3L261.9,164.8L270.7,180.8L274.5,188.8L276.5,193.8L279.8,203.2L280.8,205.2L281.9,206.8L282.7,208.8L283.3,211.8L283.5,214.8L284.2,218.8L284.4,229.8L284.9,234.8L286,238.8L286.8,240.5L287.8,241.9L288.8,242.9L290.6,243.8L291.8,244L292.8,243.8L294.9,242.8L298.8,239.8L299.8,238.2L300.1,236.8L300.4,234.8L300.9,225.8L301.3,223.8L302.2,221.8L303.2,220.8L304.8,220.2L308.8,219.9L310.8,220.3L312.8,221.7L315.9,224.8L322.8,231.9L337.8,246.8L342.3,251.8L344.8,254L347.8,256.1L351.8,258.1L355.8,259.4L357.9,259.8L357.9,265.8Z"/>
<path fill="#b6b6b6" d="M354.8,265.8L242.8,265.9L242.6,265.8L242.8,141.7L248.8,141.7L249.8,143.2L252.8,148.4L261.8,165.8L269.5,179.8L273.4,187.8L275.9,193.8L279.2,203.8L281.3,207.8L281.8,209.2L282.3,211.8L283.3,218.8L283.9,229.8L284.5,234.8L285.8,239.3L286.8,241.3L287.8,242.6L289.8,244.1L290.8,244.5L291.8,244.6L292.8,244.4L294.8,243.5L298.8,240.8L299.8,239.6L300.6,236.8L301.4,226.8L301.7,224.8L302.5,222.8L303.8,221.4L304.8,220.8L305.8,220.6L308.8,220.4L310.8,220.8L312.8,222.2L315.4,224.8L322.8,232.5L337.8,247.4L341.9,251.8L344.1,253.8L345.8,255.2L347.8,256.5L351.8,258.5L355.7,259.8L355.7,265.8Z"/>
<path fill="#bcbcbc" d="M353.8,265.8L242.8,265.9L242.6,265.8L242.8,144.5L248.8,144.5L250.8,146.9L268.3,178.8L272.3,186.8L275.3,193.8L278.4,203.8L280.2,207.8L280.8,209.8L282.3,217.8L283.4,229.8L284.3,235.8L285.8,240.2L286.8,242L287.8,243.2L288.8,244.1L290,244.8L291.8,245.1L292.8,245L295.3,243.8L298.5,241.8L299.7,240.8L300.3,239.8L300.9,237.8L301.8,227.8L302.1,225.8L302.8,223.7L303.8,222.3L304.8,221.6L306.8,221L308.8,220.9L309.8,221L311.8,222L314.8,224.6L322.5,232.8L341.5,251.8L343.7,253.8L346.8,256.3L350.8,258.4L354.2,259.8L354.2,265.8Z"/>
<path fill="#c2c2c2" d="M352.8,265.8L242.6,265.8L242.8,147.2L248.8,147.2L249.8,147.8L250.8,149L261.2,166.8L268.3,179.8L271.3,185.8L274.7,193.8L275.7,196.8L277.2,202.8L279.8,209.8L280.5,212.8L281.4,217.8L282.9,229.8L284,235.8L284.5,237.8L285.7,240.8L286.8,242.6L287.8,243.8L289.8,245.3L290.8,245.7L291.8,245.7L292.8,245.5L294.8,244.7L299.8,241.7L300.8,240.2L301.1,238.8L301.6,235.8L302.3,227.8L302.8,225.6L303.5,223.8L304.3,222.8L305.8,221.9L307.8,221.5L309.8,221.6L311.8,222.5L314.8,225.1L321.9,232.8L342.1,252.8L346.8,256.6L352.9,259.8Z"/>
<path fill="#c9c9c9" d="M350.8,265.8L242.7,265.8L242.8,150L248.8,150L249.8,150.2L250.8,151.2L260.8,167.1L270.2,184.8L272.9,190.8L274.4,194.8L275.3,197.8L276.3,202.8L279,210.8L280.5,217.8L282.5,230.8L284.1,237.8L285.8,241.7L287.8,244.4L289.8,245.9L290.8,246.3L292.8,246.1L294.8,245.3L298.8,243.2L300.5,241.8L301,240.8L301.6,238.8L302.7,228.8L303.1,226.8L303.7,224.8L304.8,223.4L305.8,222.7L307.8,222.1L309.8,222.1L311.8,223.1L314.8,225.7L321.3,232.8L333.8,245.2L341.6,252.8L346.8,257.2L351.6,259.8L351.6,265.8Z"/>
<path fill="#cfcfcf" d="M349.8,265.8L242.7,265.8L242.8,152.8L249.8,152.7L250.8,153.4L255.8,160.3L259.8,166.4L269.1,183.8L272.8,192L274.4,196.8L275.3,202.8L277.7,209.8L278.8,213.7L281.3,227.8L283.4,236.8L284.4,239.8L285.3,241.8L286.6,243.8L287.8,245.1L289.8,246.6L290.8,246.8L292.8,246.7L294.8,245.9L298.8,243.9L300.8,242.4L301.6,240.8L301.8,239.8L302.9,230.8L303.5,227.8L304.1,225.8L304.6,224.8L305.4,223.8L306.8,222.9L307.8,222.7L309.8,222.7L311.8,223.6L314.4,225.8L320.7,232.8L333.8,245.9L339.9,251.8L346.8,257.7L350.5,259.8L350.5,265.8Z"/>
<path fill="#d6d6d6" d="M348.8,265.8L242.7,265.8L242.8,155.5L248.8,155.5L249.8,155L250.8,155.4L251.8,156.3L255.8,161.5L259.8,167.4L268.8,184.5L272,191.8L273.7,196.8L274.3,202.8L277.5,212.8L280.9,228.8L283.3,237.8L284.4,240.8L285.5,242.8L287.8,245.7L289.8,247.2L290.8,247.5L292.8,247.3L295.8,246.1L299.8,244L300.8,243.3L301.8,241.9L302.1,240.8L303.6,229.8L304.9,225.8L305.8,224.5L306.8,223.7L307.8,223.4L309.8,223.3L310.8,223.6L312.6,224.8L313.8,225.8L320,232.8L337.8,250.4L344.1,255.8L346.8,258.5L349.2,259.8L349.2,265.8Z"/>
<path fill="#dcdcdc" d="M346.8,265.8L242.7,265.8L242.8,158.1L248.8,158.1L249.8,157.1L250.8,157.2L252.8,159.1L256.8,164L259.8,168.5L261.8,172.2L268.8,186.1L272,193.8L272.8,195.9L273.1,197.8L273.1,201.8L273.5,203.8L276.6,212.8L280.5,229.8L282.4,236.8L284.4,241.8L285.6,243.8L287.8,246.5L288.8,247.3L289.8,247.9L290.8,248.1L292.8,248L294.8,247.3L298.8,245.4L301.2,243.8L302,242.8L302.6,240.8L303.8,232.1L304.5,228.8L305.2,226.8L305.8,225.8L306.6,224.8L307.8,224.1L308.8,223.9L310.8,224.3L311.8,224.8L313.8,226.4L319.3,232.8L332.3,245.8L338.8,252L343.8,256.1L345.8,258.6L347.5,259.8L347.5,265.8Z"/>
<path fill="#e2e2e2" d="M345.8,265.8L242.7,265.8L242.8,161.7L248.8,161.7L249.5,160.8L249.8,159.8L250.8,159.7L251.8,160L252.8,160.8L254.1,162.8L257.8,166.8L258.1,167.8L259.8,169.8L259.9,170.8L260.8,171.8L261,172.8L261.8,173.8L261.9,174.8L262.8,175.8L262.8,176.8L263.6,177.8L263.8,178.8L264.6,179.8L264.8,180.8L265.7,181.8L265.9,182.8L266.8,183.8L266.9,184.8L267.7,185.8L267.8,186.8L268.8,188.6L269.1,189.8L269.8,190.8L269.9,191.8L270.8,192.8L271.1,194.8L271.8,195.8L272,202.8L272.8,204.8L272.9,205.8L273.8,207.7L273.9,208.8L274.5,209.8L274.9,211.8L275.8,213.8L276,215.8L276.8,217.7L277,219.8L277.8,221.8L278,223.8L278.8,225.8L279,227.8L279.8,229.8L280.1,231.8L280.7,232.8L281,234.8L281.5,235.8L282,237.8L282.6,238.8L283.2,240.8L284.1,242.8L285.6,244.8L286.1,245.8L287.8,247.6L288.8,248.4L290.8,249L291.8,249L293.8,248.7L294.8,248.4L295.7,247.8L296.8,247.6L297.7,246.8L298.8,246.6L299.7,245.8L300.8,245.5L301.8,244.7L302.5,243.8L303.5,240.8L303.8,235.8L304.6,232.8L304.8,230.8L305.6,228.8L305.8,227.8L306.5,226.8L307,225.8L308.7,224.8L309.8,224.8L311.8,225.8L313,226.8L315.8,229.8L317.2,231.8L319,233.8L335.8,250.4L341.8,255.6L343.8,256.8L344.8,258.8L345.8,259.8Z"/>
<path fill="#e7e7e7" d="M343.8,265.8L242.8,265.8L242.8,167.4L248.8,167.4L249.8,165.8L250.8,165L251.8,165.1L253.8,166.3L255.8,167.8L257.8,169.9L259,171.8L262.8,180.8L267.4,190.8L269.3,195.8L270.6,202.8L273.3,210.8L277.8,227.7L280.8,237.1L282.6,241.8L283.8,244L285.6,246.8L287.4,248.8L288.8,249.9L289.8,250.4L291.7,250.8L292.8,250.7L295.4,249.8L299.6,247.8L301.5,246.8L302.8,245.8L303.9,243.8L305.3,234.8L306.6,229.8L307.6,227.8L308.7,226.8L309.8,226.5L310.8,226.7L312.2,227.8L316.8,233.4L330.1,246.8L337.4,253.8L342.8,257.9L344,259.8L344,265.8Z"/>
<path fill="#eaeaea" d="M342.8,265.8L242.8,265.8L242.8,168.8L248.8,168.8L249.8,167.1L250.8,166.2L251.8,166.3L253.8,167.3L255.8,168.7L257,169.8L258.5,171.8L259.4,173.8L261.8,180L266.3,189.8L268.3,194.8L269.1,197.8L269.9,201.8L272.3,208.8L277.7,228.8L280.6,237.8L283.2,243.8L284.8,246.3L286.8,248.8L287.9,249.8L289.8,250.9L290.8,251.2L292.8,251.2L294.3,250.8L296.6,249.8L300.8,247.8L302.8,246.5L303.8,245.3L304.3,243.8L305.7,234.8L306.4,231.8L307.1,229.8L307.8,228.5L308.8,227.4L309.8,227.1L310.8,227.3L311.8,228L312.5,228.8L314.7,231.8L316.8,234.1L329.3,246.8L336.8,253.8L342.8,258.6L343.5,259.8L343.5,265.8Z"/>
<path fill="#ededed" d="M342.8,265.8L242.8,265.8L242.8,170.2L248.8,170.2L249.4,168.8L250.1,167.8L250.8,167.2L251.8,167.2L253.8,168.1L255.8,169.4L256.8,170.3L257.9,171.8L258.9,173.8L261.5,180.8L266,190.8L267.9,195.8L269.4,201.8L272.2,209.8L277.5,229.8L280.2,237.8L281.4,240.8L283.4,244.8L285.4,247.8L286.8,249.4L288.8,251L289.8,251.4L291.8,251.9L292.8,251.8L294.8,251.2L296.8,250.3L301.7,247.8L303.1,246.8L304,245.8L304.8,243.8L306.2,234.8L306.8,232.2L307.6,229.8L308.8,228L309.8,227.6L310.8,227.9L311.9,228.8L314.1,231.8L316.8,234.8L328.6,246.8L336.8,254.4L342.3,258.8L343,259.8L343,265.8Z"/>
<path fill="#f1f1f1" d="M341.8,265.8L242.8,265.8L242.8,171.7L248.8,171.7L250.1,168.8L250.8,168.1L251.8,168L253.8,168.8L255.8,170.1L256.8,171.1L257.8,172.5L258.8,174.8L261.3,181.8L264.8,189.3L267,194.8L268.6,200.8L270.8,206.6L271.8,209.8L276.2,226.8L279.4,236.8L282.3,243.8L284.1,246.8L286.8,249.9L288.8,251.5L289.8,252L290.8,252.3L292.8,252.3L294.8,251.7L297.8,250.3L301.8,248.3L303.8,246.9L304.6,245.8L305.3,243.8L306.6,234.8L307.8,230.5L308.8,228.7L309.8,228.2L310.8,228.5L311.8,229.4L314.3,232.8L316.1,234.8L327.9,246.8L336.8,255.1L341.8,258.9L342.5,259.8L342.5,265.8Z"/>
<path fill="#f4f4f4" d="M341.8,265.8L242.8,265.8L242.8,173.1L248.8,173.1L250.8,169.2L251.8,168.9L253.8,169.6L255.6,170.8L256.8,172L257.2,172.8L257.8,173.8L258.8,176.4L260.2,180.8L264.8,190.9L266.8,196.1L268.3,201.8L269.8,205.1L270.8,208.2L276.2,228.8L279.2,237.8L280.4,240.8L282.3,244.8L284.2,247.8L286.8,250.7L288.8,252.2L289.8,252.6L291.8,253L292.8,252.9L294.8,252.4L296.8,251.5L301.8,249L303.8,247.7L305.2,245.8L305.6,244.8L306.8,236.7L307.8,232.2L308.8,229.7L309.8,228.9L310.8,229.3L314.4,233.8L316.2,235.8L328.8,248.4L335.8,254.9L341.8,259.7Z"/>
<path fill="#f7f7f7" d="M339.8,265.8L242.8,265.8L242.8,174.7L248.8,174.7L249.8,173.8L250.4,172.8L251,170.8L251.8,170.2L253.9,170.8L255.8,172.2L256.8,173.7L257.8,176.2L259.1,180.8L264.8,193.4L265.8,196.2L267.3,201.8L268.8,204.7L269.8,207.5L275.1,227.8L277.2,234.8L279.1,239.8L281.4,244.8L283.2,247.8L284.8,249.8L286.8,251.7L287.8,252.6L289.8,253.6L291.8,253.9L293.8,253.7L296.8,252.5L302.8,249.5L304.8,247.9L306.2,245.8L306.5,244.8L307.8,235.7L308.8,231.8L309.8,230.2L310.8,230.6L313.2,233.8L315,235.8L329.8,250.6L335.8,256.1L340.5,259.8L340.5,265.8Z"/>
</g></g>
<rect x="21.5" y="7.8" width="20.2" height="251.95" fill="url(#cbg)"/>
<rect x="455.8" y="7.8" width="20.3" height="251.95" fill="url(#cbg)"/>
<path d="M21.5,58.19h2M41.7,58.19h-2" stroke="#000" stroke-opacity="0.35" stroke-width="0.6" fill="none"/>
<path d="M21.5,108.58h2M41.7,108.58h-2" stroke="#000" stroke-opacity="0.35" stroke-width="0.6" fill="none"/>
<path d="M21.5,158.97h2M41.7,158.97h-2" stroke="#000" stroke-opacity="0.35" stroke-width="0.6" fill="none"/>
<path d="M21.5,209.36h2M41.7,209.36h-2" stroke="#000" stroke-opacity="0.35" stroke-width="0.6" fill="none"/>
<rect x="21.8" y="8.1" width="19.6" height="251.35" fill="none" stroke="#000" stroke-opacity="0.18" stroke-width="0.6"/>
<path d="M455.8,39.29h2M476.1,39.29h-2" stroke="#000" stroke-opacity="0.35" stroke-width="0.6" fill="none"/>
<path d="M455.8,70.79h2M476.1,70.79h-2" stroke="#000" stroke-opacity="0.35" stroke-width="0.6" fill="none"/>
<path d="M455.8,102.28h2M476.1,102.28h-2" stroke="#000" stroke-opacity="0.35" stroke-width="0.6" fill="none"/>
<path d="M455.8,133.78h2M476.1,133.78h-2" stroke="#000" stroke-opacity="0.35" stroke-width="0.6" fill="none"/>
<path d="M455.8,165.27h2M476.1,165.27h-2" stroke="#000" stroke-opacity="0.35" stroke-width="0.6" fill="none"/>
<path d="M455.8,196.76h2M476.1,196.76h-2" stroke="#000" stroke-opacity="0.35" stroke-width="0.6" fill="none"/>
<path d="M455.8,228.26h2M476.1,228.26h-2" stroke="#000" stroke-opacity="0.35" stroke-width="0.6" fill="none"/>
<rect x="456.1" y="8.1" width="19.7" height="251.35" fill="none" stroke="#000" stroke-opacity="0.18" stroke-width="0.6"/>
<text transform="translate(20.1 11.7) scale(0.91 1)" text-anchor="end">0.25</text>
<text transform="translate(20.1 62.09) scale(0.91 1)" text-anchor="end">0.2</text>
<text transform="translate(20.1 112.48) scale(0.91 1)" text-anchor="end">0.15</text>
<text transform="translate(20.1 162.87) scale(0.91 1)" text-anchor="end">0.1</text>
<text transform="translate(20.1 213.26) scale(0.91 1)" text-anchor="end">0.05</text>
<text transform="translate(20.1 263.65) scale(0.91 1)" text-anchor="end">0</text>
<text transform="translate(477 11.7) scale(0.91 1)">0.8</text>
<text transform="translate(477 43.19) scale(0.91 1)">0.7</text>
<text transform="translate(477 74.69) scale(0.91 1)">0.6</text>
<text transform="translate(477 106.18) scale(0.91 1)">0.5</text>
<text transform="translate(477 137.68) scale(0.91 1)">0.4</text>
<text transform="translate(477 169.17) scale(0.91 1)">0.3</text>
<text transform="translate(477 200.66) scale(0.91 1)">0.2</text>
<text transform="translate(477 232.16) scale(0.91 1)">0.1</text>
<text transform="translate(477 263.65) scale(0.91 1)">0</text>
<text class="cap" x="253" y="279.5" text-anchor="middle">(a)</text>
<clipPath id="clb"><polygon points="577.5,260.6 577.5,185.2 679.25,7.9 780.5,7.9 780.5,260.6"/></clipPath>
<clipPath id="crb"><polygon points="779.8,260.6 779.8,7.9 881.25,7.9 982.7,185.2 982.7,260.6"/></clipPath>
<g clip-path="url(#clb)"><g filter="url(#jet)">
<rect x="569.5" y="-0.1" width="218" height="269" fill="#040404"/>
<path fill="#050505" d="M785.5,266.9L657.5,266.9L639.5,267.4L571.5,267.4L571,266.9L571,1.9L571.5,1.4L721.5,1.4L785.5,1.9Z"/>
<path fill="#080808" d="M660.5,266.9L639.5,267.4L571.5,267.4L571,266.9L571,1.9L571.5,1.4L721.5,1.4L785.5,1.9L785.5,30.2L779.5,30.2L778.5,32.8L773.3,51.9L768.1,72.9L765.9,82.9L761.3,106.9L756.6,126.9L752.9,139.9L750.8,145.9L749.1,149.9L746.4,154.9L743.1,159.9L739.3,164.9L729.8,176.9L725.5,182.9L721,189.9L711.8,205.9L708.1,211.9L704,217.9L699.4,223.9L693.1,230.9L690,233.9L686.6,236.9L681.4,240.9L674.5,245.9L666.6,250.9L664.6,252.9L662.8,255.9L662,257.9L661.5,259.9L661.5,266.9Z"/>
<path fill="#0b0b0b" d="M655.5,266.9L639.5,267.3L571.5,267.4L571,266.9L571,1.9L571.5,1.4L711.5,1.4L785.5,1.9L785.5,8.8L779.5,8.8L778.5,11.3L776.5,18L770.5,39.5L764.5,63.1L760.5,80.6L755,107.9L750.9,124.9L748.7,132.9L746.9,138.9L744.8,144.9L742.3,150.9L740,154.9L736.1,160.9L724.5,175.9L719.4,182.9L714.5,190.8L702.8,210.9L698.9,216.9L695.2,221.9L689.2,228.9L682.5,235.5L677.5,239.6L668.5,246.4L661.5,250.9L659.5,252.9L657.5,256.6L656.6,259.9L656.5,266.9Z"/>
<path fill="#0e0e0e" d="M655.5,266.9L639.5,267.3L571.5,267.4L571,266.9L571,1.9L571.5,1.4L711.5,1.4L776.6,1.9L776.6,7.9L776.4,8.9L769.5,35.4L763.7,58.9L759.8,75.9L754.7,99.9L752.4,109.9L748.6,124.9L746,133.9L743,142.9L740.2,149.9L737.5,154.9L734.3,159.9L721.5,177L717.4,182.9L713.1,189.9L701,210.9L697,216.9L692.6,222.9L686.4,229.9L680.2,235.9L675.4,239.9L667.5,245.9L660.5,250.8L659.3,251.9L658.5,252.9L656.5,256.9L656,258.9L655.8,260.9L655.8,266.9Z"/>
<path fill="#121212" d="M654.5,266.9L639.5,267.3L571.5,267.4L571,266.9L571,1.9L571.5,1.4L711.5,1.4L743.5,1.5L773.8,1.9L773.8,7.9L773.6,8.9L762.2,57.9L751.8,103.9L747.5,120.6L744.3,131.9L741.3,140.9L738.1,148.9L735.6,153.9L731.8,159.9L718.8,177.9L714.8,183.9L710.6,190.9L699.8,209.9L696,215.9L691.6,221.9L685.6,228.9L678.6,235.9L666.2,245.9L660.5,250L658.4,251.9L656.7,254.9L655.5,257.9L655.2,259.9L655.2,266.9Z"/>
<path fill="#151515" d="M654.5,266.9L639.5,267.3L571.5,267.4L571,266.9L571,1.9L571.5,1.4L711.5,1.4L743.5,1.6L771,1.9L771,7.9L769.8,13.9L764.1,40.9L752.5,93.3L748.5,108.9L743.2,127.9L739.6,138.9L736,147.9L733.6,152.9L730.1,158.9L726,164.9L716.7,177.9L712.8,183.9L709.2,189.9L698,209.9L694.2,215.9L690.7,220.9L684.8,227.9L678,234.9L673.4,238.9L664.9,245.9L659.5,250L657.6,251.9L656,254.9L654.9,257.9L654.6,259.9Z"/>
<path fill="#181818" d="M653.5,266.9L639.5,267.3L571.5,267.3L571.1,266.9L571.1,1.9L571.5,1.5L711.5,1.5L743.5,1.6L768.2,1.9L768,8.9L765.2,24.9L760.1,50.9L752.5,85.9L748.1,102.9L741.8,124.9L737.8,136.9L733.5,147.9L731.1,152.9L728.2,157.9L724.3,163.9L715.5,176.7L711.4,182.9L707.3,189.9L696.8,208.9L693.1,214.9L689.7,219.9L684,226.9L677.4,233.9L671.9,238.9L658.5,250.1L656.8,251.9L655.5,254.4L654.4,257.9L654.1,259.9L654,266.9Z"/>
<path fill="#1d1d1d" d="M652.5,266.9L639.5,267.3L571.5,267.3L571.1,266.9L571.1,1.9L571.5,1.5L711.5,1.5L743.5,1.6L765.3,1.9L765.2,8.9L762.1,29.9L757.8,52.9L751.8,81.9L747.5,98.3L740.5,121.8L736.2,134.9L731.9,145.9L729.1,151.9L725.7,157.9L709.5,182.9L705.5,189.7L695,208.9L691.3,214.9L687.9,219.9L683.1,225.9L675.7,233.9L671.4,237.9L657.8,249.9L656,251.9L654.5,255.3L653.6,258.9L653.5,266.9Z"/>
<path fill="#232323" d="M652.5,266.9L639.5,267.3L571.5,267.3L571.1,266.9L571.1,1.9L571.5,1.5L711.5,1.5L743.5,1.6L760.4,1.9L760.4,7.9L759.8,15.9L758.8,25.9L757.3,36.9L754.2,54.9L749.3,79.9L746.1,91.9L739.1,113.9L734.1,128.9L729.1,141.9L725.1,150.9L721.9,156.9L717.2,164.9L705.5,183.7L701.5,190.9L693.1,206.9L687,216.9L682.7,222.9L676.7,229.9L671,235.9L656.5,249.8L654.9,251.9L653.5,255.4L652.8,258.9L652.7,266.9Z"/>
<path fill="#292929" d="M651.5,266.9L638.5,267.3L571.5,267.3L571.1,266.9L571.1,1.9L571.5,1.5L711.5,1.5L743.5,1.6L758.9,1.9L758.9,7.9L758.3,16.9L756.1,34.9L752.9,53.9L747.9,78.9L745,89.9L741,102.9L733,126.9L728.1,139.9L723.7,149.9L720.1,156.9L716,163.9L704.5,182.6L700.5,189.8L691,207.9L684.9,217.9L681.3,222.9L676.1,228.9L669.6,235.9L656.5,248.9L654.5,251.3L653.5,253.2L652.5,256.9L652.1,259.9L652.1,266.9Z"/>
<path fill="#303030" d="M651.5,266.9L638.5,267.3L571.5,267.3L571.1,266.9L571.1,1.9L571.5,1.5L711.5,1.5L743.5,1.6L758,1.9L758,7.9L757.6,13.9L756.5,23.9L755.2,33.9L751.8,53.9L746.9,77.9L744.3,87.9L740.6,99.9L731.9,125.9L726.7,139.9L722.8,148.9L718.7,156.9L703.1,182.9L689.8,207.9L683.8,217.9L680.2,222.9L676,227.9L669.5,234.9L661.5,243L655.5,249.3L653.5,251.9L652.5,254.8L651.8,257.9L651.6,259.9L651.6,266.9Z"/>
<path fill="#363636" d="M650.5,266.9L638.5,267.3L571.5,267.3L571.1,266.9L571.1,1.9L571.5,1.5L711.5,1.5L743.5,1.6L757.1,1.9L757.1,7.9L756.8,12.9L755.7,22.9L754.4,32.9L750.9,52.9L745.7,77.9L743.1,87.9L739.3,99.9L730.6,125.9L725.3,139.9L721.4,148.9L717.9,155.9L713.9,162.9L701.5,183.6L689.3,206.9L683.4,216.9L680,221.9L675.9,226.9L668.6,234.9L659.5,244.3L653.5,251.1L652.5,253.2L651.6,256.9L651.2,259.9L651.2,266.9Z"/>
<path fill="#3d3d3d" d="M650.5,266.9L638.5,267.3L571.5,267.3L571.1,266.9L571.1,1.9L571.5,1.5L711.5,1.5L743.5,1.6L756.3,1.9L756.3,7.9L755.9,12.9L754.8,22.9L753.4,32.9L750,51.9L744.8,76.9L742.1,86.9L739,96.9L729.9,123.9L724.4,138.9L720.1,148.9L717.1,154.9L713.2,161.9L700.5,183.3L688.2,206.9L683,215.9L679.7,220.9L675.7,225.9L667.8,234.9L654.5,249.2L652.5,251.9L651.6,254.9L651,257.9L650.8,259.9L650.8,266.9Z"/>
<path fill="#434343" d="M649.5,266.9L638.5,267.2L571.5,267.3L571.1,266.9L571.1,1.9L571.5,1.5L711.5,1.5L742.5,1.7L755.4,1.9L755.4,7.9L755,12.9L753.9,22.9L752.2,33.9L748.8,52.9L743.4,77.9L741,86.9L737.2,98.9L728,125.9L723.1,138.9L719.3,147.9L715.9,154.9L712,161.9L699.5,183.1L687.2,206.9L682,215.9L678.7,220.9L674.8,225.9L667,234.9L658.5,244.1L653.5,249.8L652.5,251.2L651.5,253.6L650.6,257.9L650.4,259.9L650.4,266.9Z"/>
<path fill="#494949" d="M649.5,266.9L638.5,267.2L571.5,267.2L571.2,266.9L571.2,1.9L571.5,1.6L711.5,1.5L742.5,1.7L754.6,1.9L754.6,7.9L754.2,11.9L753.1,21.9L751.4,32.9L747.8,52.9L742.3,77.9L739.8,86.9L736.1,98.9L727.2,124.9L721.9,138.9L718.1,147.9L714.2,155.9L709.7,163.9L698.5,183.1L686.8,205.9L681.1,215.9L677.8,220.9L674,225.9L666.2,234.9L658.5,243.4L652.2,250.9L651.3,252.9L650.4,256.9L650.1,259.9L650,266.9Z"/>
<path fill="#505050" d="M649.5,266.9L638.5,267.2L571.5,267.2L571.2,266.9L571.2,1.9L571.5,1.6L711.5,1.6L742.5,1.7L753.7,1.9L753.7,7.9L753.5,10.9L752.3,20.9L750.6,31.9L746.9,51.9L741.4,76.9L738.8,86.9L735,98.9L726.8,122.9L721.7,136.9L717,147.9L713.1,155.9L709.2,162.9L697.1,183.9L685.9,205.9L680.2,215.9L677,220.9L673.2,225.9L664.7,235.9L657.5,243.9L651.8,250.9L651.3,251.9L650.6,253.9L649.9,257.9L649.7,266.9Z"/>
<path fill="#565656" d="M648.5,266.9L638.5,267.2L571.5,267.2L571.2,266.9L571.2,1.9L571.5,1.6L711.5,1.6L752.9,1.9L752.9,7.9L752.7,9.9L751.4,20.9L749.7,31.9L745.9,51.9L740.4,76.9L737.7,86.9L734,98.9L726.2,121.9L721,135.9L716,147.9L712.1,155.9L696.2,183.9L685,205.9L679.3,215.9L676.1,220.9L672.4,225.9L664.9,234.9L657.5,243.3L651.4,250.9L650.5,252.9L649.5,257.9L649.3,266.9Z"/>
<path fill="#5c5c5c" d="M648.5,266.9L638.5,267.2L571.5,267.2L571.2,266.9L571.2,1.9L571.5,1.6L711.5,1.6L752,1.9L752,7.9L751.9,9.9L750.7,18.9L748.9,30.9L745,51.9L739.1,77.9L736.1,88.9L732,101.9L725.2,121.9L720,135.9L714.9,147.9L711,155.9L695.5,183.4L684.1,205.9L679.1,214.9L676,219.9L672.4,224.9L664.2,234.9L656.5,243.9L651,250.9L650.1,252.9L649.3,256.9L649,259.9L649,266.9Z"/>
<path fill="#636363" d="M648.5,266.9L638.5,267.2L571.5,267.2L571.2,266.9L571.2,1.9L571.5,1.6L711.5,1.6L751.2,1.9L751.2,7.9L751,9.9L749.9,18.9L748,30.9L744,51.9L739.1,73.9L736,85.9L733,95.9L725.9,116.9L720.2,132.9L714.8,145.9L711.1,153.9L706.8,161.9L694.5,183.6L683.2,205.9L678.3,214.9L675.2,219.9L670.9,225.9L662.8,235.9L655.5,244.5L650.6,250.9L649.5,253.8L648.8,257.9L648.6,266.9Z"/>
<path fill="#696969" d="M647.5,266.9L632.5,267.2L571.5,267.2L571.2,266.9L571.2,1.9L571.5,1.6L711.5,1.6L750.4,1.9L750.4,7.9L750.3,9.9L748.9,19.9L747.2,30.9L743.2,51.9L738,74.9L735.1,85.9L731.1,98.9L724,119.9L718.9,133.9L714,145.9L709.7,154.9L705.9,161.9L693.4,183.9L681.9,206.9L676.9,215.9L673.8,220.9L670.2,225.9L663.1,234.9L655.5,243.9L650.2,250.9L649.4,252.9L648.4,257.9L648.3,266.9Z"/>
<path fill="#707070" d="M647.5,266.9L632.5,267.2L571.5,267.2L571.2,266.9L571.2,1.9L571.5,1.6L711.5,1.6L749.7,1.9L749.6,8.9L748.2,19.9L746.4,30.9L742.6,50.9L736.9,75.9L733.9,86.9L730.2,98.9L722.8,120.9L717.7,134.9L712.7,146.9L708.9,154.9L705.1,161.9L692.6,183.9L681.1,206.9L676.2,215.9L672.4,221.9L668.8,226.9L662.5,234.9L654.5,244.5L649.8,250.9L649,252.9L648.2,256.9L648,259.9L648,266.9Z"/>
<path fill="#767676" d="M647.5,266.9L632.5,267.2L571.5,267.2L571.2,266.9L571.2,1.9L571.5,1.6L711.5,1.6L748.9,1.9L748.9,8.9L747.4,19.9L745.6,30.9L741.8,50.9L736.1,75.9L733.4,85.9L730,96.9L721.9,120.9L716.9,134.9L712.5,145.7L708.7,153.9L704.5,161.6L691.7,183.9L679.8,207.9L674.9,216.9L671.8,221.9L668.2,226.9L662,234.9L654.5,244L649.4,250.9L648.6,252.9L647.9,256.9L647.6,259.9L647.6,266.9Z"/>
<path fill="#7c7c7c" d="M646.5,266.9L631.5,267.1L571.5,267.1L571.3,266.9L571.3,1.9L571.5,1.7L711.5,1.6L748.2,1.9L748.1,8.9L746.8,18.9L744.9,30.9L741,50.9L735.3,75.9L732.9,84.9L728.9,97.9L720.8,121.9L715.7,135.9L711.5,146.2L707.5,154.6L703.5,161.9L690.8,183.9L679,207.9L674.2,216.9L671.1,221.9L667.6,226.9L661.5,234.9L654.1,243.9L649,250.9L648.2,252.9L647.4,257.9L647.3,266.9Z"/>
<path fill="#838383" d="M646.5,266.9L631.5,267.1L571.5,267.1L571.3,266.9L571.3,1.9L571.5,1.7L711.5,1.7L747.5,1.9L747.5,7.9L747.3,9.9L745.9,19.9L744.1,30.9L740,51.9L735,73.9L732.1,84.9L729,94.9L720,121.9L715.5,134.3L711.5,144.3L707.5,153L703.5,160.5L690.5,183L686.5,190.8L678.3,207.9L673.5,216.9L670.4,221.9L666.3,227.9L661,234.9L653.5,244.1L648.6,250.9L647.9,252.9L647.3,255.9L647,259.9L647,266.9Z"/>
<path fill="#898989" d="M646.5,266.9L631.5,267.1L571.5,267.1L571.3,266.9L571.3,1.9L571.5,1.7L711.5,1.7L746.8,1.9L746.7,8.9L745.2,19.9L743.6,29.9L739.7,49.9L734,74.9L731.3,84.9L727.9,95.9L719.1,121.9L714.5,134.7L710.4,144.9L706.5,153.3L702.4,160.9L689.5,183.4L685.5,191.3L677,208.9L672.8,216.9L669.8,221.9L665.7,227.9L660.4,234.9L653.2,243.9L648.2,250.9L647.5,252.9L646.9,256.9L646.7,259.9L646.6,266.9Z"/>
<path fill="#8f8f8f" d="M645.5,266.9L631.5,267.1L571.5,267.1L571.3,266.9L571.3,1.9L571.5,1.7L711.5,1.7L746.1,1.9L746.1,8.9L744.7,18.9L742.9,29.9L738.8,50.9L733.7,72.9L730.8,83.9L727.5,94.9L719.5,118.6L714.3,132.9L709.9,143.9L705.8,152.9L701.5,160.9L688.5,183.9L676.8,207.9L672.1,216.9L669.1,221.9L665,227.9L659.9,234.9L652.7,243.9L647.8,250.9L647.1,252.9L646.4,257.9L646.3,266.9Z"/>
<path fill="#969696" d="M645.5,266.9L631.5,267.1L571.5,267.1L571.3,266.9L571.3,1.9L571.5,1.7L711.5,1.7L745.5,1.9L745.4,8.9L744.5,15.7L742.5,28.4L738.5,48.9L733.5,70.7L730.7,81.9L727.5,92.5L720.5,113.4L714.5,130.2L709.5,142.8L704.9,152.9L700.7,160.9L688.2,182.9L684.2,190.9L675.6,208.9L671.5,216.7L668.4,221.9L664.4,227.9L659.3,234.9L652.3,243.9L647.4,250.9L646.7,252.9L646.3,255.9L646,259.9L646,266.9Z"/>
<path fill="#9c9c9c" d="M645.5,266.9L631.5,267.1L571.5,267.1L571.3,266.9L571.3,1.9L571.5,1.7L711.5,1.7L744.8,1.9L744.8,7.9L744.6,9.9L743.5,17.7L741.5,29.9L738.5,45.4L733.5,67.5L730.5,79.6L726.5,93.2L720.5,111.1L714.5,127.9L709.5,140.7L704.5,151.9L700.5,159.5L686.9,183.9L675.5,207.6L670.6,216.9L667.5,222.3L663.5,228.3L658.8,234.9L651,244.9L646.9,250.9L646.3,252.9L645.8,256.9Z"/>
<path fill="#a3a3a3" d="M644.5,266.9L571.5,267.1L571.3,266.9L571.3,1.9L571.5,1.7L711.5,1.7L743.9,1.9L743.8,8.9L741.5,25L737.5,46L732.5,68.1L729.5,80.1L725.5,93.5L719.5,111.3L713.5,128L708.5,140.6L703.5,151.8L699.5,159.5L685.9,183.9L674.5,207.9L670.5,215.7L666.5,222.7L662.4,228.9L657.5,235.8L651.2,243.9L647.7,248.9L646.5,250.9L645.8,252.9L645.3,257.9L645.2,266.9Z"/>
<path fill="#a9a9a9" d="M644.5,266.9L571.5,267.1L571.3,266.9L571.3,1.9L571.5,1.7L711.5,1.7L742.7,1.9L742.7,7.9L742.5,9.8L741.3,18.9L739.5,29.6L736.3,45.9L731.5,67.4L728.5,79.5L725.5,89.9L720.5,105L713.5,124.7L707.5,139.9L702.5,151.1L698.5,158.9L684.8,183.9L673.5,207.9L669.5,215.9L665.5,222.9L661.6,228.9L657.5,234.9L649.9,244.9L646,250.9L645.4,252.9L645,255.9L644.8,259.9L644.8,266.9Z"/>
<path fill="#afafaf" d="M643.5,266.9L571.5,267L571.4,266.9L571.4,1.9L571.5,1.8L711.5,1.7L741.2,1.9L741.1,8.9L738.7,25.9L735.5,43.4L731.2,62.9L727.5,78.3L724.5,88.8L720.2,101.9L713.5,120.9L707.5,136.4L701.6,149.9L697,158.9L687.5,176.1L683.4,183.9L680,190.9L671.9,208.9L667.9,216.9L664.6,222.9L659.5,230.9L656.1,235.9L650,243.9L646.6,248.9L645.5,250.9L644.9,252.9L644.4,256.9L644.3,266.9Z"/>
<path fill="#b6b6b6" d="M643.5,266.9L571.5,267L571.4,266.9L571.4,1.9L571.5,1.8L711.5,1.8L739.7,1.9L739.6,8.9L737.5,24.9L734.4,41.9L730.5,59.9L726.5,76.9L724,85.9L719.9,98.9L713.5,117.1L707.1,133.9L700.6,148.9L696.1,157.9L686.2,175.9L682,183.9L678.5,191.3L670.7,208.9L666.9,216.9L663.1,223.9L658.7,230.9L655.4,235.9L649.4,243.9L646,248.9L644.9,250.9L644.3,252.9L644,255.9L643.8,259.9L643.8,266.9Z"/>
<path fill="#bcbcbc" d="M642.5,266.9L571.4,266.9L571.4,1.9L711.5,1.8L738.2,1.9L738.1,8.9L736.2,23.9L733.4,39.9L729.6,57.9L725.4,75.9L723,84.9L719.2,96.9L712.9,114.9L706,132.9L699.1,148.9L694.6,157.9L684.7,175.9L680.6,183.9L676.9,191.9L669.1,209.9L665.3,217.9L661.5,224.9L657.3,231.9L654.6,235.9L648.7,243.9L645.4,248.9L644.3,250.9L643.8,252.9L643.4,256.9L643.2,266.9Z"/>
<path fill="#c2c2c2" d="M642.5,266.9L571.4,266.9L571.4,1.9L736.7,1.9L736.7,8.9L734.9,22.9L732.4,37.9L728.9,54.9L724.5,74.1L721.9,83.9L718.2,95.9L713,110.9L705.8,129.9L698.1,147.9L693.7,156.9L683.5,175.6L679.5,183.4L675.5,192.1L667.5,210.9L664.3,217.9L660.6,224.9L656.5,231.9L653.9,235.9L647.9,243.9L644.8,248.9L643.7,250.9L643.2,252.9L642.9,255.9L642.7,266.9Z"/>
<path fill="#c9c9c9" d="M641.5,266.9L571.4,266.9L571.4,1.9L735.3,1.9L735.2,8.9L733.8,20.9L731.3,35.9L728.2,51.9L724.4,68.9L721.2,81.9L717.9,92.9L712.8,107.9L705.7,126.9L697.5,145.9L692.7,155.9L682.5,174.9L678.4,182.9L674.5,191.6L666.4,210.9L662.7,218.9L658.5,226.9L655,232.9L652.5,236.7L647.2,243.9L643.5,250.1L642.8,251.9L642.3,255.9L642.1,266.9Z"/>
<path fill="#cfcfcf" d="M641.5,266.9L571.4,266.9L571.4,1.9L733.9,1.9L733.8,8.9L732.4,20.9L730.1,34.9L727,50.9L723.2,67.9L719.8,81.9L716.6,92.9L712.2,105.9L706,122.9L697.9,141.9L691.8,154.9L680.7,175.9L676.7,183.9L673.1,191.9L665.2,210.9L661.6,218.9L657.5,226.9L654.1,232.9L652.2,235.9L646.4,243.9L643,249.9L642.2,251.9L641.7,255.9Z"/>
<path fill="#d6d6d6" d="M640.5,266.9L571.4,266.9L571.4,1.9L732.5,1.9L732.4,8.9L731.1,19.9L728.9,33.9L725.8,49.9L722.1,66.9L718.5,81.8L715.3,92.9L711,105.9L705.5,120.8L698.3,137.9L690.8,153.9L679.5,175.7L675.5,183.9L671.9,191.9L663.6,211.9L660,219.9L656.5,226.9L653.2,232.9L651.3,235.9L645.6,243.9L642.3,249.9L641.6,251.9L641.2,254.9L640.9,258.9L640.9,266.9Z"/>
<path fill="#dcdcdc" d="M639.5,266.9L571.4,266.9L571.4,1.9L731.1,1.9L731,8.9L729.7,19.9L727.5,33.7L724.5,49.5L721.5,63.4L717.5,80.5L714.5,91.2L709.5,106.5L704.5,120.1L698.5,134.2L689.5,153.7L678.1,175.9L674.2,183.9L670.3,192.9L662.5,211.8L658.5,220.7L654.5,228.8L651.7,233.9L644.8,243.9L642,248.9L641.2,250.9L640.8,252.9L640.2,258.9L640.2,266.9Z"/>
<path fill="#e2e2e2" d="M638.5,266.9L571.5,266.9L571.5,1.9L729.5,1.9L729.4,8.9L727.5,23.7L725.5,35.8L722.5,51.3L718.5,69.6L715.5,82.1L712.5,92.7L708.5,105L703.5,118.8L698.5,130.6L688.5,152.2L677,174.9L673.2,182.9L668.8,192.9L660.5,213.2L656.5,222.1L653.5,228.2L650.5,233.8L644.2,242.9L641,248.9L640.2,250.9L639.6,253.9L639.2,258.9L639.2,266.9Z"/>
<path fill="#e7e7e7" d="M636.5,266.9L571.5,266.9L571.5,1.9L726.9,1.9L726.9,7.9L725.6,18.9L723.4,32.9L720.4,48.9L717,64.9L713.2,80.9L710.2,91.9L706,104.9L701.7,116.9L696.7,128.9L686.1,151.9L674.6,174.9L670.5,183.4L666.5,192.7L658.8,211.9L654.8,220.9L651.4,227.9L648.2,233.9L641.5,243.9L638.3,249.9L637.7,251.9L637.3,254.9L637,258.9L636.9,266.9Z"/>
<path fill="#eaeaea" d="M635.5,266.9L571.5,266.9L571.5,1.9L725.5,1.9L725.5,7.9L724.2,18.9L722,32.9L719,48.9L715.6,64.9L711.8,80.9L708.8,91.9L704.6,104.9L700.3,116.9L695.7,127.9L684.7,151.9L673.5,174.4L669.5,182.8L665.5,192.1L658,210.9L654.1,219.9L650.2,227.9L647,233.9L645.1,236.9L640.3,243.9L636.9,249.9L636.3,251.9L635.8,255.9L635.5,259.9Z"/>
<path fill="#ededed" d="M633.5,266.9L571.5,266.9L571.5,1.9L724.1,1.9L724.1,7.9L722.7,19.9L720.3,34.9L717.2,50.9L713.8,66.9L710.2,81.9L707.1,92.9L702.9,105.9L698.9,116.9L694.4,127.9L683.8,150.9L672.5,173.8L668.5,182.3L664.5,191.6L656.8,210.9L652.9,219.9L650,225.9L645.8,233.9L643.3,237.9L638.4,244.9L635.5,249.9L634.9,251.9L634.4,255.9L634.1,259.9L634.1,266.9Z"/>
<path fill="#f1f1f1" d="M632.5,266.9L571.5,266.9L571.5,1.9L722.7,1.9L722.7,8.9L721.3,19.9L719.1,33.9L716.1,49.9L712.6,65.9L708.8,81.9L705.7,92.9L701.5,105.9L697.6,116.9L693,127.9L682,151.9L671.5,173.4L667.5,181.9L663.5,191.2L655.3,211.9L651.4,220.9L647.9,227.9L644.1,234.9L642.2,237.9L637.2,244.9L634.1,249.9L633.5,251.9L632.9,255.9L632.7,259.9L632.7,266.9Z"/>
<path fill="#f4f4f4" d="M630.5,266.9L571.5,266.9L571.5,1.9L721.3,1.9L721.2,8.9L719.5,22.5L717.5,34.9L714.5,50.6L711.5,64.6L707.5,81.6L704.5,92.2L700.5,104.6L696.5,115.9L691.5,128.1L680.5,152.3L666.4,181.9L662.1,191.9L654.7,210.9L650.5,220.5L646.8,227.9L642.5,235.7L640.5,238.7L635.2,245.9L633.1,248.9L632.1,250.9L631.1,257.9L631.1,266.9Z"/>
<path fill="#f7f7f7" d="M633.5,245.3L632.5,245.7L631.5,245.5L630.6,244.9L630,243.9L629.7,242.9L629.6,240.9L630.1,237.9L633.1,231.9L639.5,220.9L643.5,211.5L653.9,181.9L668.1,145.9L679.5,117.4L686.5,97.4L690.5,84.6L692.5,77.1L696.5,59.5L699.5,45L701.5,34L703.5,20.8L704.5,12.5L704.9,7.9L704.9,1.9L717.5,1.9L717.4,8.9L715.9,21.9L713.9,34.9L710.9,50.9L707.9,64.9L704.1,80.9L700.9,91.9L696.9,103.9L690,122.9L677.5,153.9L662.9,186.9L654.5,208.5L650.5,218L646.5,226.3L640.6,236.9L636.5,242.2Z"/>
<path fill="#fafafa" d="M637.5,238L636.5,238.6L635.5,238.6L635.1,237.9L635.3,236.9L637.5,232.4L642,224.9L644.2,220.9L648,211.9L658.5,182.1L671.5,148.9L684,117.9L689,103.9L693,91.9L695.9,81.9L697.9,73.9L701.9,55.9L704.9,40.9L707,28.9L708.9,14.9L709.5,7.9L709.5,1.9L712.9,1.9L712.9,7.9L712.5,12.4L710.5,27.7L708.5,39.6L705.5,54.8L701.5,72.8L699.5,80.9L696.5,91.2L692.5,103.2L687.5,117.3L676,145.9L663,178.9L660,186.9L654.5,203L651.5,211L649.5,215.9L646.5,222.3L640.9,231.9L638.5,236.6Z"/>
</g></g>
<g clip-path="url(#crb)"><g filter="url(#jet)">
<rect x="771.8" y="-0.1" width="219" height="269" fill="#040404"/>
<path fill="#050505" d="M988.8,266.9L924.8,266.9L902.8,267.3L873.8,267.4L773.8,267.4L773.3,266.9L773.3,176.9L773.7,1.9L773.8,1.8L988.8,1.9Z"/>
<path fill="#080808" d="M924.8,266.9L902.8,267.3L873.8,267.4L773.8,267.4L773.3,266.9L773.3,176.9L773.8,1.8L804.7,1.9L804.9,20.9L804.4,28.9L804.4,29.9L805.4,33.9L805.8,36.4L806.9,73.9L807.1,76.9L808.4,82.9L808.7,85.9L809.5,95.9L809.3,102.9L809.5,104.9L810.8,108.1L812.8,114L814.8,121.9L817.5,128.9L818.5,132.9L819.1,137.9L819.9,139.9L821.6,142.9L822.3,144.9L824.8,154.9L826.8,159.5L830.7,166.9L832.8,170L838.1,176.9L842.8,184.1L846.8,189L855.2,198.9L860.6,205.9L862.8,208L867.8,211.4L871.5,214.9L877.4,221.9L881.9,227.9L890.8,237.9L893.8,240.9L896.8,243.2L898.1,243.9L899.8,244.5L901.8,244.9L908.8,245.7L911.8,246.4L913.8,247.1L917.8,249.5L920.6,251.9L923,254.9L924.5,257.9L925.1,260.9L925.1,266.9ZM801.8,73.9L802.4,72.9L802.6,71.9L802.6,68.9L801.8,53L800.8,42.5L800.2,69.9L800.4,71.9L800.8,73.5Z"/>
<path fill="#0b0b0b" d="M922.8,266.9L902.8,267.3L873.8,267.4L773.8,267.4L773.3,266.9L773.3,176.9L773.8,1.8L801.3,1.9L801.7,19.9L801.4,22.9L800.7,24.9L797.5,29.9L796.7,32.9L796.9,62.9L797.1,71.9L797.3,73.9L797.7,75.9L798.8,77.7L802.4,80.9L804,82.9L804.8,84.9L805.3,87.9L806.1,94.9L806.1,97.9L805.6,99.9L805.2,100.9L803.4,103.9L802.8,105.3L802.5,106.9L802.6,108.9L802.8,110L803.8,111.8L804.8,112.8L807.8,114.9L808.8,115.9L810,117.9L814.6,131.9L814.9,134.9L814.4,138.9L814.6,140.9L815.2,141.9L817.8,144.9L819.1,146.9L822.8,156.9L824.8,161.2L826.8,165L829.8,169.9L840.8,185.1L856.7,204.9L860.5,208.9L865.8,213L868.9,215.9L878.8,227.9L891.4,241.9L893.8,244L896.8,245.9L899.8,247L908.8,248.1L910.8,248.5L913.8,249.6L915.8,250.6L918.8,253L921.1,255.9L922.5,258.9L923,260.9L923,266.9Z"/>
<path fill="#0e0e0e" d="M920.8,266.9L902.8,267.2L873.8,267.4L773.8,267.4L773.3,266.9L773.3,176.9L773.8,1.8L799,1.9L799,8.9L799.3,18.9L799.3,21.9L798.8,23.9L798.3,24.9L795.7,28.9L795.2,30.9L795,32.9L795.4,68.9L795.6,73.9L796.2,76.9L797.2,78.9L800.8,82.3L802,83.9L802.6,85.9L803,87.9L803.8,94.9L803.9,97.9L803.4,99.9L801.7,102.9L801,104.9L800.7,106.9L800.8,108.9L801.3,110.9L802.2,112.9L803,113.9L806.8,116.8L808,118.9L812.7,132.9L813,134.9L812.4,138.9L812.5,139.9L813.1,141.9L813.8,143.2L816.3,145.9L817,146.9L821.8,158.7L824.8,164.7L828.8,171.1L838.8,184.9L842.8,190.1L854.8,205L858.4,208.9L864.8,214.2L867.6,216.9L876.7,227.9L890.3,242.9L893.8,245.8L896.8,247.4L899.8,248.3L907.8,249.2L911.8,250.2L914.8,251.6L917.8,253.9L920.2,256.9L921.4,259.9L921.6,260.9L921.6,266.9Z"/>
<path fill="#121212" d="M919.8,266.9L902.8,267.2L873.8,267.4L773.8,267.4L773.3,266.9L773.3,176.9L773.8,1.8L796.9,1.9L797.2,21.9L796.8,23.9L794.3,27.9L794,28.9L793.7,30.9L794.3,69.9L794.5,74.9L795,77.9L796.1,79.9L799.2,82.9L799.9,83.9L800.6,85.9L801.1,88.9L801.8,94.9L802,97.9L801.6,99.9L800,102.9L799.7,103.9L799.5,105.9L799.8,110L800.2,111.9L801.1,113.9L801.9,114.9L804.8,117.2L806,118.9L811.3,133.9L811.6,135.9L811,139.9L811.5,141.9L812.7,143.9L814.8,146.1L816,147.9L819.8,157.1L823.8,165.3L825.8,168.7L828.8,173.1L838.8,186.7L853.8,205.6L857.8,209.8L866.1,216.9L874.8,227.4L886.8,240.9L889.7,243.9L893.4,246.9L896.8,248.6L899.8,249.4L907.8,250.2L910.8,250.9L912.8,251.7L914.8,252.7L917.4,254.9L919.6,257.9L920.4,259.9L920.6,260.9L920.6,266.9Z"/>
<path fill="#151515" d="M919.8,266.9L902.8,267.2L873.8,267.4L773.8,267.4L773.3,266.9L773.3,176.9L773.8,1.8L794.9,1.9L795.3,21.9L794.9,23.9L793.1,26.9L792.8,27.7L792.5,29.9L793.3,69.9L793.5,75.9L794.1,78.9L794.8,80.5L797.1,82.9L797.9,83.9L798.4,84.9L798.9,86.9L799.8,93.6L800.2,96.9L800.2,98.9L800,99.9L798.6,102.9L798.4,103.9L798.4,105.9L798.9,110.9L799.4,112.9L800.2,114.9L801,115.9L803.4,117.9L804.6,119.9L810.1,134.9L810.3,136.9L809.9,139.9L810,140.9L810.8,142.9L811.8,144.5L814.1,146.9L814.7,147.9L818.6,156.9L822.5,164.9L826.8,171.8L837.8,186.9L852.9,205.9L856.6,209.9L863.8,215.9L865.8,217.9L873.8,227.7L887.4,242.9L891.8,246.9L893.8,248.2L895.8,249.2L897.8,249.9L899.8,250.3L906.8,250.9L909.8,251.4L912.8,252.5L915.1,253.9L916.8,255.3L918.1,256.9L919.3,258.9L919.7,259.9L919.9,260.9Z"/>
<path fill="#181818" d="M918.8,266.9L902.8,267.2L873.8,267.3L773.8,267.3L773.4,266.9L773.4,176.9L773.8,1.8L793,1.9L793,7.9L793.4,21.9L793.1,23.9L791.5,26.9L791.3,28.9L792.5,74.9L792.8,77.9L793.1,79.9L793.8,81.5L796,83.9L796.5,84.9L797.1,87.9L798.5,97.9L798.4,99.9L797.5,101.9L797.2,103.9L798,110.9L798.6,113.9L799.4,115.9L800.1,116.9L802.2,118.9L802.8,119.9L805.3,126.9L808.8,135.4L809.1,136.9L808.9,139.9L809.8,142.8L810.8,144.7L813.5,147.9L817.5,156.9L821.5,164.9L823.8,168.8L826.5,172.9L836.1,185.9L840.8,192.1L852.6,206.9L855.5,209.9L862.6,215.9L864.7,217.9L872.8,227.8L886.2,242.9L890.8,247.2L893.4,248.9L895.4,249.9L898.8,250.9L906.8,251.6L909.8,252.1L912.8,253.2L914.8,254.4L917.3,256.9L919,259.9L919.3,260.9L919.3,266.9Z"/>
<path fill="#1d1d1d" d="M917.8,266.9L902.8,267.2L873.8,267.3L773.8,267.3L773.4,266.9L773.4,176.9L773.8,1.8L791,1.9L791,7.9L791.5,21.9L791.2,23.9L790.4,25.9L790.1,27.9L791.6,74.9L791.9,78.9L792.3,80.9L792.8,82.3L794.6,84.9L794.9,85.9L796.6,96.9L796.8,98.9L796.7,99.9L796,102.9L797.1,110.9L797.8,114.4L798.6,116.9L800.9,119.9L803.9,127.9L807.5,135.9L807.8,136.9L808,139.9L808.8,142.2L810,144.9L812.2,147.9L815.9,155.9L819.9,163.9L822.9,168.9L829.8,178.8L838.8,190.8L850.8,206L854.4,209.9L859.8,214.4L863.6,217.9L871.8,228L885,242.9L888.1,245.9L891.8,248.9L895.8,250.9L900.8,251.9L908.8,252.3L911.8,253.3L913.8,254.4L916.6,256.9L917.4,257.9L918.5,259.9L918.8,260.9L918.8,266.9Z"/>
<path fill="#232323" d="M917.8,266.9L902.8,267.2L873.8,267.3L773.8,267.3L773.4,266.9L773.4,177.9L773.8,1.9L786.9,1.9L786.9,7.9L787.5,25.9L788.7,56.9L789.7,76.9L790.3,81.9L791.2,85.9L793.4,97.9L794,102.9L795.4,110.9L797,117.9L800.8,128L802.8,132.3L805.7,137.9L808.8,145.2L816.8,161L820.8,167.9L827.8,178.1L836.8,190L849.8,206.4L852.9,209.9L858.9,214.9L862,217.9L869.8,227.4L883.8,243.4L886.4,245.9L889.8,248.8L893.3,250.9L896.1,251.9L898.8,252.5L905.8,252.7L908.8,253.1L910.8,253.7L912.9,254.9L915.3,256.9L916.2,257.9L917.5,259.9L917.8,260.9Z"/>
<path fill="#292929" d="M916.8,266.9L902.8,267.2L873.8,267.3L773.8,267.3L773.4,266.9L773.4,177.9L773.7,85.9L773.8,1.9L781.9,1.9L782,10.9L784.6,33.9L785.5,53.9L786.5,63.9L787.4,77.9L793.8,110.9L795.3,117.9L797.3,123.9L799.8,130L801.7,133.9L805.8,141.2L810.8,151.6L814.8,159.3L819.8,168.1L825.8,176.9L834.8,188.8L848.8,206.4L852.8,210.8L857.8,214.9L860.9,217.9L868.8,227.5L883.1,243.9L886.2,246.9L888.8,249.1L891.5,250.9L893.8,251.9L896.8,252.8L898.8,253.1L907.8,253.5L910.8,254.4L912.8,255.7L915.2,257.9L916.6,259.9L916.9,260.9L916.9,266.9Z"/>
<path fill="#303030" d="M915.8,266.9L902.8,267.2L873.8,267.3L773.8,267.3L773.4,266.9L773.4,177.9L773.8,29.8L779.8,29.8L780.8,35L781.4,39.9L782.1,49.9L784,66.9L784.8,77.9L789.9,99.9L792.8,113.9L795,121.9L796.9,126.9L799.6,132.9L805.5,142.9L812.8,157.3L818.8,167.9L822.8,174L829.8,183.5L848.8,207.4L852,210.9L857.8,215.7L860,217.9L868.8,228.6L883,244.9L888.6,249.9L890.1,250.9L892.8,252.2L894.8,252.9L897.8,253.5L907.8,254L909.8,254.6L911.8,255.7L914.4,257.9L915.2,258.9L916.1,260.9L916.1,266.9Z"/>
<path fill="#363636" d="M914.8,266.9L902.8,267.2L873.8,267.3L773.8,267.3L773.4,266.9L773.4,176.9L773.8,59.3L779.8,59.3L780.8,65.3L781.9,75.9L782.3,77.9L788.1,99.9L792,116.9L793.5,121.9L795.3,126.9L798.7,133.9L804.8,143.7L812.8,158.9L817.8,167.6L820.8,172.3L824.8,177.9L830.8,185.9L847.8,207.1L851.3,210.9L856.8,215.6L859.2,217.9L867.8,228.3L882.8,245.6L886.3,248.9L888.8,250.8L890.6,251.9L892.8,252.8L895.8,253.7L897.8,254L904.8,254.2L907.8,254.6L909.8,255.3L911.8,256.4L913.5,257.9L914.4,258.9L915.4,260.9L915.4,266.9Z"/>
<path fill="#3d3d3d" d="M913.8,266.9L873.8,267.3L773.8,267.3L773.4,266.9L773.4,176.9L773.8,79.2L779.8,79.2L781.2,82.9L785.8,98.2L791,118.9L792.8,124.2L794.8,129.2L797.8,134.9L805.8,147.2L811.5,157.9L817.8,168.9L820.8,173.5L825.4,179.9L833.2,189.9L847.8,207.9L850.8,211.1L856.4,215.9L858.8,218.4L866.8,228.1L882.8,246.4L887.8,250.9L889.8,252.1L892.8,253.4L894.8,254L897.8,254.5L906.8,254.9L908.8,255.4L910.8,256.5L912.7,257.9L913.6,258.9L914.6,260.9L914.6,266.9Z"/>
<path fill="#434343" d="M913.8,266.9L902.8,267.1L873.8,267.3L773.8,267.3L773.4,266.9L773.4,176.9L773.8,87.4L779.8,87.4L780.8,89.4L781.8,92L783.8,98.2L789.9,119.9L792.4,126.9L794.7,131.9L797.6,136.9L805.3,147.9L810.7,157.9L818.3,170.9L821.7,175.9L826.9,182.9L847.2,207.9L849.9,210.9L855.6,215.9L858.5,218.9L866.8,228.9L880.5,244.9L882.8,247.3L885.8,250.1L887.8,251.6L890.1,252.9L892.6,253.9L896.8,254.8L903.8,255.1L906.8,255.4L908.5,255.9L910.4,256.9L912.8,258.9L913.9,260.9Z"/>
<path fill="#494949" d="M912.8,266.9L873.8,267.2L773.8,267.3L773.4,266.9L773.5,176.9L773.8,94.8L779.8,94.8L780.8,96.7L784.8,107.7L786.6,113.9L790.3,124.9L791.9,128.9L793.9,132.9L797,137.9L804.4,147.9L809.9,157.9L818.1,171.9L823.9,179.9L831,188.9L847.4,208.9L849.8,211.4L854.8,215.9L857.8,218.9L865.2,227.9L874.8,238.9L879.8,244.9L883.8,249L885.9,250.9L887.8,252.3L889.8,253.4L892.8,254.5L896.8,255.2L902.8,255.4L905.8,255.7L907.8,256.2L909.8,257.2L911.9,258.9L912.7,259.9L913.1,260.9L913.1,266.9Z"/>
<path fill="#505050" d="M911.8,266.9L873.8,267.2L773.8,267.2L773.5,266.9L773.5,176.9L773.8,101.8L779.8,101.8L780.8,103.3L783,107.9L784.6,112.9L790.3,127.9L791.8,131.4L793.7,134.9L797.2,139.9L801.8,145.5L803.8,148.3L808.5,156.9L815.8,169.5L819.4,174.9L827,184.9L845.1,206.9L848.8,211L854.1,215.9L857,218.9L865.3,228.9L874.1,238.9L879.8,245.8L884.8,250.7L887.8,253L889.8,254L892.4,254.9L896.8,255.6L904.8,256L906.8,256.4L908.8,257.3L910.9,258.9L911.8,259.9L912.3,260.9L912.3,266.9Z"/>
<path fill="#565656" d="M910.8,266.9L873.8,267.2L773.8,267.2L773.5,266.9L773.5,176.9L773.8,106.3L779.8,106.3L780.8,107.7L781.8,109.8L783.4,113.9L785.8,119.3L789.9,129.9L791.3,132.9L793.1,135.9L795.9,139.9L800.8,145.5L802.8,148.2L815.3,169.9L818.8,175.2L826.3,184.9L845.3,207.9L848.8,211.7L853.4,215.9L856.3,218.9L864.6,228.9L873.8,239.4L879.2,245.9L884.2,250.9L885.8,252.3L887.8,253.6L891.8,255.2L895.8,256L902.8,256.2L904.8,256.4L906.8,257L908.6,257.9L910.8,259.8L911.5,260.9L911.5,266.9Z"/>
<path fill="#5c5c5c" d="M909.8,266.9L873.8,267.2L773.8,267.2L773.5,266.9L773.5,176.9L773.8,110.7L779.8,110.7L780.8,112.2L783.8,118.1L785.8,122.6L788.6,129.9L791.2,134.9L794.7,139.9L800.8,146.8L802.4,148.9L807.4,157.9L815.8,172L818.8,176.2L823.9,182.9L844.8,208L847.8,211.3L855.6,218.9L863.9,228.9L873.5,239.9L878.5,245.9L883.8,251.3L885.7,252.9L887.2,253.9L889.4,254.9L891.8,255.7L895.8,256.3L903.8,256.6L905.8,257.1L907.5,257.9L909.8,259.7L910.6,260.9L910.6,266.9Z"/>
<path fill="#636363" d="M908.8,266.9L872.8,267.2L773.8,267.2L773.5,266.9L773.5,177.9L773.8,115.5L779.8,115.5L781.8,118.4L784.8,124L788.2,131.9L790.5,135.9L794.1,140.9L799.8,146.9L801.3,148.9L813.8,169.9L817.8,175.9L824.9,184.9L844.2,207.9L847.8,211.9L854.9,218.9L863.1,228.9L872.8,239.9L878.7,246.9L882.6,250.9L884.8,252.9L886.8,254.2L888.8,255.2L890.9,255.9L893.8,256.5L901.8,256.8L903.8,257L905.8,257.6L906.8,258.1L909.1,259.9L909.8,260.9L909.8,266.9Z"/>
<path fill="#696969" d="M908.8,266.9L872.8,267.2L773.8,267.2L773.5,266.9L773.5,177.9L773.8,121.5L779.8,121.5L780.8,122.3L782.8,124.4L784.4,126.9L787.2,132.9L789.6,136.9L792.8,140.9L798.5,146.9L800.8,149.8L813.6,170.9L819.4,178.9L824.3,184.9L843.6,207.9L846.8,211.4L854.2,218.9L862.8,229.4L878.8,247.9L882.8,251.9L884.8,253.6L886.8,254.8L888.8,255.7L890.8,256.3L893.8,256.9L902.8,257.2L904.8,257.7L906.8,258.8L908.2,259.9L908.9,260.9L908.9,266.9Z"/>
<path fill="#707070" d="M907.8,266.9L872.8,267.2L773.8,267.2L773.5,266.9L773.5,177.9L773.8,124.5L779.8,124.5L781.8,126.2L783,127.9L785.5,132.9L788,136.9L791.2,140.9L797.1,146.9L799.6,149.9L812.9,170.9L815.7,174.9L819.6,179.9L843.1,207.9L846.7,211.9L853.5,218.9L862.6,229.9L878.8,248.6L882.1,251.9L884.4,253.9L885.9,254.9L888.1,255.9L890.8,256.7L892.8,257.1L902.8,257.6L904.8,258.2L906.2,258.9L907.4,259.9L908.1,260.9L908.1,266.9Z"/>
<path fill="#767676" d="M906.8,266.9L872.8,267.2L773.8,267.2L773.5,266.9L773.5,177.9L773.8,127.3L779.8,127.3L780.8,128.1L781.8,129.3L785,134.9L787.9,138.9L790.6,141.9L795.8,147L798.8,150.6L812.8,171.9L819.7,180.9L842.6,207.9L845.8,211.5L852.9,218.9L861.8,229.9L878.3,248.9L883.5,253.9L885,254.9L887.8,256.2L889.9,256.9L892.8,257.4L902.8,257.9L905.3,258.9L906.6,259.9L907.4,260.9L907.4,266.9Z"/>
<path fill="#7c7c7c" d="M905.8,266.9L872.8,267.2L773.8,267.2L773.5,266.9L773.6,177.9L773.8,130.2L779.8,130.2L780.8,131.1L783.9,135.9L787,139.9L788.9,141.9L794.3,146.9L796.9,149.9L812.1,171.9L819.9,181.9L842.9,208.9L852.3,218.9L861.8,230.6L878.6,249.9L881.8,253.1L883.8,254.7L885.8,255.9L887.8,256.7L889.8,257.3L892.8,257.7L901.8,258.1L903.8,258.6L904.8,259.1L905.9,259.9L906.7,260.9L906.7,266.9Z"/>
<path fill="#838383" d="M905.8,266.9L872.8,267.1L773.8,267.1L773.6,266.9L773.6,177.9L773.8,132.9L779.8,132.9L780.8,133.8L783.8,137.9L786.3,140.9L792.8,146.9L794.7,148.9L797.8,152.9L811.4,171.9L818.5,180.9L842.4,208.9L851.6,218.9L861.3,230.9L870.2,240.9L876.1,247.9L878.8,250.8L881.8,253.7L883.2,254.9L884.8,255.9L887.8,257.1L891.8,258L900.8,258.3L902.8,258.6L903.8,259L905.2,259.9L906,260.9L906,266.9Z"/>
<path fill="#898989" d="M904.8,266.9L872.8,267.1L773.8,267.1L773.6,266.9L773.6,177.9L773.8,134.9L779.8,134.9L780.8,135.9L783.1,138.9L785.8,141.9L793.2,148.9L796.8,153.3L811.4,172.9L818.7,181.9L841.9,208.9L851,218.9L861.8,232.2L869.5,240.9L875.8,248.3L879.8,252.5L881.8,254.4L883.8,255.8L885.8,256.8L887.8,257.5L891.8,258.3L901.8,258.8L903.8,259.5L904.5,259.9L905.4,260.9L905.4,266.9Z"/>
<path fill="#8f8f8f" d="M903.8,266.9L872.8,267.1L773.8,267.1L773.6,266.9L773.6,177.9L773.8,136.8L779.8,136.8L785.4,142.9L792.6,149.9L795.8,153.8L809,170.9L817.2,180.9L841.4,208.9L850.4,218.9L861.8,232.9L868.9,240.9L875.7,248.9L879.8,253.2L881.7,254.9L883,255.9L884.9,256.9L887.8,257.9L891.8,258.6L900.8,259L902.8,259.5L903.7,259.9L904.7,260.9L904.7,266.9Z"/>
<path fill="#969696" d="M903.8,266.9L872.8,267.1L773.8,267.1L773.6,266.9L773.6,177.9L773.8,138.6L779.8,138.6L791,149.9L817.3,181.9L849,217.9L861.2,232.9L869.2,241.9L875.1,248.9L879.8,253.8L881.8,255.6L883.8,256.8L887.8,258.3L891.8,258.9L900.8,259.4L902.8,260L904,260.9L904,266.9Z"/>
<path fill="#9c9c9c" d="M902.8,266.9L872.8,267.1L773.8,267.1L773.6,266.9L773.6,177.9L773.8,140.3L779.8,140.3L789.4,149.9L817.5,182.9L848.4,217.9L859.8,232L868.6,241.9L874.8,249.2L879.8,254.4L881.5,255.9L882.8,256.8L886.8,258.4L890.8,259.2L900.8,259.9L902.8,260.7L903,260.9L903,266.9Z"/>
<path fill="#a3a3a3" d="M900.8,266.9L872.8,267.1L773.8,267.1L773.6,266.9L773.6,177.9L773.8,142.3L779.8,142.3L781.8,143.9L788.8,151L819.4,185.9L847,216.9L859.8,232.6L868.1,241.9L874.8,249.8L879.7,254.9L880.8,255.9L882.8,257.2L886.8,258.8L890.8,259.5L897.8,260L901.5,260.9L901.5,266.9Z"/>
<path fill="#a9a9a9" d="M898.8,266.9L872.8,267.1L773.8,267.1L773.6,266.9L773.8,144.6L779.8,144.6L781.8,146.1L789.8,153.8L798.5,163.9L810.8,177.2L840.8,210.4L848.2,218.9L858.8,232.1L874.4,249.9L879.1,254.9L881.8,257.1L883.8,258.1L886.8,259.2L889.8,259.8L895.8,260.3L899.1,260.9L899.1,266.9Z"/>
<path fill="#afafaf" d="M895.8,266.9L773.8,267L773.7,266.9L773.8,147.1L779.8,147.1L784.8,151.1L788.8,154.5L791,156.9L797.8,164.9L810.8,178.4L839.8,209.9L847.7,218.9L858.8,232.7L873.8,249.9L878.8,255.2L880.8,256.9L881.8,257.6L885.8,259.3L889.8,260.2L896.2,260.9L896.2,266.9Z"/>
<path fill="#b6b6b6" d="M890.8,266.9L773.8,267L773.7,266.9L773.8,149.7L779.8,149.7L785.8,153.7L788.8,156.2L796,164.9L809.8,178.5L839.8,210.5L847.1,218.9L857.8,232.2L873.3,249.9L878,254.9L880.1,256.9L882.8,258.5L887.8,260.3L891.3,260.9L891.3,266.9Z"/>
<path fill="#bcbcbc" d="M887.8,266.9L773.8,267L773.7,266.9L773.8,152.3L779.8,152.3L783.8,154.2L785.8,155.4L788.8,157.9L795.3,165.9L809.8,179.6L838.8,209.9L846.6,218.9L857.9,232.9L872.8,249.9L877.8,255.3L879.8,257.1L881.8,258.5L886.8,260.5L888.3,260.9L888.3,266.9Z"/>
<path fill="#c2c2c2" d="M885.8,266.9L773.7,266.9L773.8,154.6L779.8,154.6L780.8,154.8L784.8,156.4L786.8,157.7L787.8,158.6L794.9,166.9L808.8,179.7L818.6,189.9L837.8,209.4L846.1,218.9L857.4,232.9L872.3,249.9L877.8,255.8L880.8,258.3L882.8,259.4L886.3,260.9L886.3,266.9Z"/>
<path fill="#c9c9c9" d="M884.8,266.9L773.8,267L773.8,156.6L779.8,156.6L782.8,157.4L785.8,158.8L788.8,161.4L794.8,167.9L808.8,180.7L838.8,211.1L845.8,219.2L856,231.9L872.7,250.9L876.8,255.3L879.8,258.1L881.8,259.4L884.8,260.9Z"/>
<path fill="#cfcfcf" d="M882.8,266.9L773.8,267L773.8,158.6L779.8,158.6L781.8,159L784.8,160.1L787.8,162.1L794.8,168.9L807.8,180.8L819.9,192.9L834.8,207.5L841.8,215.1L846.8,221L855.5,231.9L873.1,251.9L878.8,257.8L880.8,259.3L883.5,260.9L883.5,266.9Z"/>
<path fill="#d6d6d6" d="M881.8,266.9L773.8,267L773.8,160.6L779.8,160.6L782.8,161.2L785.8,162.4L788.8,164.3L806.8,180.8L821.1,194.9L834.8,208.1L837.8,211.2L842.8,216.9L854.9,231.9L872.5,251.9L877.8,257.5L882.2,260.9L882.2,266.9Z"/>
<path fill="#dcdcdc" d="M880.8,266.9L773.8,267L773.8,162.6L779.8,162.6L782.8,163L785.8,163.9L788.8,165.5L797.2,172.9L804.8,179.9L833.8,207.8L837.8,211.9L840.8,215.3L854.3,231.9L871,250.9L876.8,257.2L881.1,260.9L881.1,266.9Z"/>
<path fill="#e2e2e2" d="M879.8,266.9L773.8,266.9L773.8,164.9L783.8,164.9L784.8,165.6L786.8,165.9L787.8,166.7L788.8,166.9L792.8,170.7L793.8,171.5L794.8,172L802.8,179.6L806.8,183L822.8,198.7L826.8,202.3L828.8,203.9L838.8,213.9L841.1,216.9L844.8,220.9L846,222.9L848.7,225.9L849.2,226.9L852.6,230.9L854,232.9L858.8,237.9L862.1,241.9L866.8,246.9L868.2,248.9L869.9,250.9L876.8,258.1L879.8,260.9Z"/>
<path fill="#e7e7e7" d="M876.8,266.9L773.8,266.9L773.8,170.3L779.8,170.3L781,168.9L781.8,168.3L782.8,168.1L784.8,168.4L785.8,168.9L787.1,169.9L789.1,171.9L794.8,175.3L798.8,178.3L802.8,181.7L830.8,207.7L834.8,211.6L837.9,214.9L843,220.9L852.8,233.1L876.5,259.9L877.3,260.9L877.3,266.9Z"/>
<path fill="#eaeaea" d="M875.8,266.9L773.8,266.9L773.8,171.8L779.8,171.8L781.8,169.3L782.8,168.9L783.8,169L784.8,169.3L785.8,170L788.8,173L793.8,175.5L798.8,179.1L803.8,183.3L814.8,193.3L831.5,208.9L836.4,213.9L842.8,221.3L852.8,233.8L875.9,259.9L876.6,260.9L876.6,266.9Z"/>
<path fill="#ededed" d="M875.8,266.9L773.8,266.9L773.8,173.2L779.8,173.2L781.8,170.3L782.8,169.7L784.2,169.9L785.6,170.9L787.4,172.9L788.6,173.9L791.8,175.2L793.8,176.3L798.8,179.8L803.8,183.9L813.7,192.9L829.8,207.9L835.8,213.9L841.9,220.9L852.4,233.9L875.3,259.9L876,260.9L876,266.9Z"/>
<path fill="#f1f1f1" d="M874.8,266.9L773.8,266.9L773.8,174.5L779.8,174.5L782.3,170.9L782.8,170.5L783.8,170.6L784.8,171.2L787.8,174.4L791.8,176L793.6,176.9L799.4,180.9L804.2,184.9L813.1,192.9L829.2,207.9L835.8,214.5L841.8,221.4L852.6,234.9L873.8,258.9L875.3,260.9L875.3,266.9Z"/>
<path fill="#f4f4f4" d="M873.8,266.9L773.8,266.9L773.8,175.7L779.8,175.7L780.8,174.6L782.5,171.9L782.8,171.6L783.8,171.6L784.8,172.4L786.8,174.6L787.8,175.4L791.8,176.8L793.8,177.8L799.8,181.9L804.5,185.9L813.4,193.9L828.4,207.9L834.8,214.3L840.8,221.1L851.1,233.9L861.8,245.9L873.9,259.9L874.6,260.9L874.6,266.9Z"/>
<path fill="#f7f7f7" d="M872.8,266.9L773.8,266.9L773.8,177.4L779.8,177.4L781.3,175.9L782.8,173.3L783.8,173.2L786.8,176.2L787.8,176.7L791.8,177.9L796.9,180.9L799.6,182.9L803.2,185.9L812.1,193.9L827.2,207.9L834.8,215.5L840.8,222.4L850,233.9L872.8,259.9L873.5,260.9L873.5,266.9Z"/>
</g></g>
<rect x="551.8" y="7.9" width="20.3" height="252.7" fill="url(#cbg)"/>
<rect x="987.6" y="7.9" width="20.5" height="252.7" fill="url(#cbg)"/>
<path d="M551.8,58.44h2M572.1,58.44h-2" stroke="#000" stroke-opacity="0.35" stroke-width="0.6" fill="none"/>
<path d="M551.8,108.98h2M572.1,108.98h-2" stroke="#000" stroke-opacity="0.35" stroke-width="0.6" fill="none"/>
<path d="M551.8,159.52h2M572.1,159.52h-2" stroke="#000" stroke-opacity="0.35" stroke-width="0.6" fill="none"/>
<path d="M551.8,210.06h2M572.1,210.06h-2" stroke="#000" stroke-opacity="0.35" stroke-width="0.6" fill="none"/>
<rect x="552.1" y="8.2" width="19.7" height="252.1" fill="none" stroke="#000" stroke-opacity="0.18" stroke-width="0.6"/>
<path d="M987.6,39.49h2M1008.1,39.49h-2" stroke="#000" stroke-opacity="0.35" stroke-width="0.6" fill="none"/>
<path d="M987.6,71.08h2M1008.1,71.08h-2" stroke="#000" stroke-opacity="0.35" stroke-width="0.6" fill="none"/>
<path d="M987.6,102.66h2M1008.1,102.66h-2" stroke="#000" stroke-opacity="0.35" stroke-width="0.6" fill="none"/>
<path d="M987.6,134.25h2M1008.1,134.25h-2" stroke="#000" stroke-opacity="0.35" stroke-width="0.6" fill="none"/>
<path d="M987.6,165.84h2M1008.1,165.84h-2" stroke="#000" stroke-opacity="0.35" stroke-width="0.6" fill="none"/>
<path d="M987.6,197.43h2M1008.1,197.43h-2" stroke="#000" stroke-opacity="0.35" stroke-width="0.6" fill="none"/>
<path d="M987.6,229.01h2M1008.1,229.01h-2" stroke="#000" stroke-opacity="0.35" stroke-width="0.6" fill="none"/>
<rect x="987.9" y="8.2" width="19.9" height="252.1" fill="none" stroke="#000" stroke-opacity="0.18" stroke-width="0.6"/>
<text transform="translate(550.4 11.8) scale(0.91 1)" text-anchor="end">0.25</text>
<text transform="translate(550.4 62.34) scale(0.91 1)" text-anchor="end">0.2</text>
<text transform="translate(550.4 112.88) scale(0.91 1)" text-anchor="end">0.15</text>
<text transform="translate(550.4 163.42) scale(0.91 1)" text-anchor="end">0.1</text>
<text transform="translate(550.4 213.96) scale(0.91 1)" text-anchor="end">0.05</text>
<text transform="translate(550.4 264.5) scale(0.91 1)" text-anchor="end">0</text>
<text transform="translate(1009 11.8) scale(0.91 1)">0.8</text>
<text transform="translate(1009 43.39) scale(0.91 1)">0.7</text>
<text transform="translate(1009 74.98) scale(0.91 1)">0.6</text>
<text transform="translate(1009 106.56) scale(0.91 1)">0.5</text>
<text transform="translate(1009 138.15) scale(0.91 1)">0.4</text>
<text transform="translate(1009 169.74) scale(0.91 1)">0.3</text>
<text transform="translate(1009 201.33) scale(0.91 1)">0.2</text>
<text transform="translate(1009 232.91) scale(0.91 1)">0.1</text>
<text transform="translate(1009 264.5) scale(0.91 1)">0</text>
<text class="cap" x="784.4" y="281.1" text-anchor="middle">(b)</text>
<clipPath id="clc"><polygon points="53.25,545 53.25,471.3 152.5,297.3 251.7,297.3 251.7,545"/></clipPath>
<clipPath id="crc"><polygon points="251,545 251,297.3 350,297.3 449,471.3 449,545"/></clipPath>
<g clip-path="url(#clc)"><g filter="url(#jet)">
<rect x="45.25" y="289.3" width="214" height="264" fill="#040404"/>
<path fill="#050505" d="M257.2,551.3L138.2,551.3L114.2,551.8L47.2,551.8L46.8,551.3L46.8,291.3L47.2,290.8L185.2,290.8L231.2,291.3L257.3,291.3Z"/>
<path fill="#080808" d="M141.2,551.3L128.2,551.4L114.2,551.8L47.2,551.8L46.8,551.3L46.8,291.3L47.2,290.8L172.2,290.8L204.2,290.9L237.4,291.3L237.2,306.3L236.2,321.3L234.3,338.3L230.9,361.3L229.3,369.3L227,378.3L223.9,388.3L220,399.3L215.4,411.3L212.8,417.3L204.2,434.3L194.3,455.3L188,467.3L181.8,478.3L175.3,489.3L161.1,511.3L152.3,524.3L147.7,532.3L144.8,538.3L142.2,544.3L141.9,545.3L141.9,551.3Z"/>
<path fill="#0b0b0b" d="M136.2,551.3L114.2,551.7L47.2,551.8L46.8,551.3L46.8,291.3L47.2,290.8L172.2,290.8L204.2,290.9L231.6,291.3L231.5,303.3L230.6,318.3L228.7,335.3L225.7,355.3L223.8,366.3L221.6,375.3L218.6,385.3L214.7,396.3L209.4,410.3L206.4,417.3L198.2,433.8L188.5,454.3L181.8,467.3L175.7,478.3L169.8,488.3L155.7,510.3L147.2,523L144.2,528L142.2,531.7L139.2,538L136.7,544.3L136.4,545.3L136.4,551.3Z"/>
<path fill="#0e0e0e" d="M134.2,551.3L114.2,551.7L47.2,551.8L46.8,551.3L46.8,291.3L47.2,290.8L172.2,290.8L204.2,290.9L229.9,291.3L229.7,304.3L228.8,317.3L227.1,332.3L224.6,349.3L222.2,363.3L220.4,371.3L217.5,381.3L213.2,393.6L206.9,410.3L203.9,417.3L186.6,453.3L180.6,465.3L174.6,476.3L168.3,487.3L145.9,522.3L143.2,526.7L141.2,530.5L138.1,537.3L135.4,544.3L135.1,545.3L135.1,551.3Z"/>
<path fill="#121212" d="M133.2,551.3L114.2,551.7L47.2,551.8L46.8,551.3L46.8,291.3L47.2,290.8L172.2,290.8L204.2,290.9L228.2,291.3L228.1,303.3L227.2,315.3L225.8,328.3L223.5,343.3L220.4,361.3L218.9,368.3L216.1,378.3L212,390.3L204.4,410.3L201.4,417.3L185.8,450.3L178.8,464.3L172.4,476.3L166.8,486.3L144.7,521.3L140.2,529.3L136.7,537.3L134.2,544L133.9,545.3L133.9,551.3Z"/>
<path fill="#151515" d="M132.2,551.3L114.2,551.7L47.2,551.8L46.8,551.3L46.8,291.3L47.2,290.8L172.2,290.8L204.2,291L226.6,291.3L226.5,301.3L225.7,313.3L224.3,325.3L222.2,339.3L219.2,356.1L217.2,366.3L214.5,376.3L210.7,387.3L201.9,410.3L199,417.3L185.9,445.3L177,463.3L170.2,476.3L164.7,486.3L143.6,520.3L139.1,528.3L135.7,536.3L133.2,543.3L132.7,545.3L132.7,551.3Z"/>
<path fill="#181818" d="M131.2,551.3L114.2,551.7L47.2,551.7L46.8,551.3L46.8,291.3L47.2,290.9L172.2,290.9L204.2,291L224.9,291.3L224.8,300.3L224.1,311.3L222.8,323.3L220.8,336.3L218.1,351.3L215.3,365.3L212.8,374.3L209.5,384.3L204.2,398L196.1,418.3L185.5,441.3L176.7,459.3L169.1,474.3L163.1,485.3L159,492.3L150.1,506.3L142.9,518.3L140,523.3L137.5,528.3L134.3,536.3L132,543.3L131.6,545.3L131.6,551.3Z"/>
<path fill="#1d1d1d" d="M130.2,551.3L114.2,551.7L47.2,551.7L46.8,551.3L46.8,291.3L47.2,290.9L172.2,290.9L204.2,291L223.3,291.3L223.2,299.3L222.5,310.3L221.2,321.3L219.2,334.3L216.6,348.3L213.3,364.3L210.9,373.3L207.8,382.3L203.3,394.3L193.6,418.3L185.1,437.3L177.4,453.3L167.4,473.3L161.6,484.3L157.5,491.3L146.9,508.3L139.4,521.3L136.3,527.3L133.2,535.1L130.8,543.3L130.4,545.3L130.4,551.3Z"/>
<path fill="#232323" d="M128.2,551.3L113.2,551.7L47.2,551.7L46.8,551.3L46.8,291.3L47.2,290.9L172.2,290.9L204.2,291L220.5,291.3L220.5,297.3L219.9,306.3L218.9,315.3L217,328.3L213.9,344.3L210,362.3L207.8,370.3L205.9,376.3L201,389.3L189.7,417.3L183.8,431.3L178.7,442.3L162.7,475.3L158.6,483.3L154.7,490.3L144.2,507.3L137.2,519.9L134.2,525.9L133.2,528.3L131.2,534.1L129.2,541.5L128.6,545.3L128.6,551.3Z"/>
<path fill="#292929" d="M127.2,551.3L113.2,551.7L47.2,551.7L46.8,551.3L46.8,291.3L47.2,290.9L172.2,290.9L204.2,291L219.3,291.3L219.3,297.3L218.7,305.3L217.7,314.3L215.7,327.3L212.8,342.3L208.6,361.3L206.8,368.3L203.8,377.3L199.7,388.3L186.8,420.3L181.8,432.3L176.8,443.3L161.8,474.3L156.8,484.3L152.8,491.3L143.2,507.1L136.2,519.8L133.2,525.8L132.2,528.3L130.2,534.2L128.2,541.9L127.7,545.3L127.7,551.3Z"/>
<path fill="#303030" d="M126.2,551.3L113.2,551.7L47.2,551.7L46.9,551.3L46.9,291.3L47.2,290.9L172.2,290.9L204.2,291L218.4,291.3L218.3,298.3L217.4,308.3L216,319.3L214.1,330.3L211.5,343.3L207.4,361.3L205.5,368.3L202.6,377.3L198.5,388.3L185.3,421.3L179.8,434.3L174.8,445.3L161.4,473.3L156.4,483.3L152.5,490.3L142.2,507.6L135.2,520.3L132.2,526.5L130.2,532.1L128.2,539.1L127.1,545.3L127.1,551.3Z"/>
<path fill="#363636" d="M126.2,551.3L113.2,551.7L47.2,551.7L46.9,551.3L46.9,291.3L47.2,290.9L172.2,290.9L204.2,291L217.6,291.3L217.5,298.3L216.6,307.3L215.2,318.3L213.2,329.4L210.2,344L206.3,361.3L204.1,369.3L201.4,377.3L197.3,388.3L183.8,422.3L178.4,435.3L173.4,446.3L160.6,473.3L155.6,483.3L151.8,490.3L141.2,508.3L134.2,521.1L131.8,526.3L129.2,533.4L127.2,541.2L126.6,545.3L126.6,551.3Z"/>
<path fill="#3d3d3d" d="M125.2,551.3L113.2,551.7L47.2,551.7L46.9,551.3L46.9,291.3L47.2,290.9L172.2,290.9L203.2,291L216.8,291.3L216.8,297.3L215.9,306.3L214.2,317.9L212.1,330.3L208.9,345.3L204.8,362.3L202.6,370.3L199.9,378.3L195.8,389.3L182,424.3L176.9,436.3L171.5,448.3L159.8,473.3L154.3,484.3L150.5,491.3L141.2,507.3L134.1,520.3L131.2,526.3L129.2,531.6L127.2,538.9L126.1,545.3L126.1,551.3Z"/>
<path fill="#434343" d="M125.2,551.3L113.2,551.6L47.2,551.7L46.9,551.3L46.9,291.3L47.2,290.9L172.2,290.9L202.2,291L216,291.3L216,297.3L215.1,305.3L213.6,316.3L211.4,328.3L208,344.3L203.9,361.3L201.7,369.3L199.1,377.3L194.6,389.3L181,424.3L175.5,437.3L169.7,450.3L159.5,472.3L153.6,484.3L134.1,519.3L130.6,526.3L128.2,533.2L126.4,540.3L125.6,545.3L125.6,551.3Z"/>
<path fill="#494949" d="M124.2,551.3L113.2,551.6L47.2,551.6L46.9,551.3L46.9,291.3L47.2,291L172.2,290.9L200.2,291L215.2,291.3L215.2,297.3L214.2,305.4L212.5,317.3L210,330.3L206.7,345.3L202.8,361.3L200.6,369.3L197.6,378.3L193.5,389.3L179.6,425.3L173.7,439.3L167.5,453.3L158.7,472.3L152.8,484.3L133.5,519.3L130.1,526.3L128.3,531.3L126.4,538.3L125.2,545.3L125.2,551.3Z"/>
<path fill="#505050" d="M124.2,551.3L113.2,551.6L47.2,551.6L46.9,551.3L46.9,291.3L47.2,291L172.2,291L198.2,291L214.4,291.3L214.4,297.3L213.5,304.3L211.7,316.3L209.4,328.3L206.2,343.3L202,360.3L199.8,368.3L196.8,377.3L192.5,389.3L179,424.3L172.8,439.3L166.2,454.3L157.9,472.3L151.6,485.3L132.4,520.3L129.5,526.3L127.4,532.3L125.6,539.3L124.7,545.3L124.7,551.3Z"/>
<path fill="#565656" d="M123.2,551.3L113.2,551.6L47.2,551.6L46.9,551.3L46.9,291.3L47.2,291L172.2,291L197.2,291L213.6,291.3L213.6,297.3L212.8,303.3L210.8,316.3L208.2,329.3L204.9,344.3L200.6,361.3L198.3,369.3L195.4,378.3L191,390.3L178,424.3L171.9,439.3L164.5,456.3L157.1,472.3L150.8,485.3L131.9,520.3L128.9,526.3L126.9,532.3L125,540.3L124.2,545.3L124.2,551.3Z"/>
<path fill="#5c5c5c" d="M123.2,551.3L113.2,551.6L47.2,551.6L46.9,551.3L46.9,291.3L47.2,291L172.2,291L195.2,291L212.8,291.3L212.8,297.3L212.4,300.3L210.6,312.3L207.7,327.3L203.8,344.3L199.8,360.3L197.5,368.3L194.6,377.3L190,390.3L177.1,424.3L170.6,440.3L163.2,457.2L155.9,473.3L149.6,486.3L130.8,521.3L128.4,526.3L126.7,531.3L124.7,539.3L123.8,545.3L123.8,551.3Z"/>
<path fill="#636363" d="M123.2,551.3L113.2,551.6L47.2,551.6L47,551.3L47,291.3L47.2,291L172.2,291L212,291.3L212,297.3L211.7,300.3L209.7,312.3L206.8,327.3L202.9,344.3L198.8,360.3L196.8,367.3L193.6,377.3L188.6,391.3L176.9,422.3L169.7,440.3L163.2,455.3L155.1,473.3L148.9,486.3L135.2,512.1L130.7,520.3L127.9,526.3L126.2,531.3L124.2,539.3L123.4,545.3Z"/>
<path fill="#696969" d="M122.2,551.3L109.2,551.6L47.2,551.6L47,551.3L47,291.3L47.2,291L172.2,291L211.3,291.3L211.3,297.3L210.9,300.3L208.7,313.3L205.7,328.3L201.9,344.3L197.8,360.3L194.9,370.3L192,379.3L186.9,393.3L175.6,423.3L168.8,440.3L161.2,457.9L153.9,474.3L148.2,486.3L129.6,521.3L127.3,526.3L125.9,530.3L124,538.3L123,544.3L123,551.3Z"/>
<path fill="#707070" d="M122.2,551.3L109.2,551.6L47.2,551.6L47,551.3L47,291.3L47.2,291L172.2,291L210.6,291.3L210.6,297.3L210.4,299.3L208,313.3L205.1,327.3L201.6,342.3L197.4,358.3L194.6,368.3L191.4,378.3L186.4,392.3L175.6,421.3L168.8,438.3L161.9,454.3L153.5,473.3L148,485.3L129.2,521L126.8,526.3L125.2,531.3L123.3,539.3L122.6,545.3L122.6,551.3Z"/>
<path fill="#767676" d="M121.2,551.3L106.2,551.6L47.2,551.6L47,551.3L47,291.3L47.2,291L172.2,291L210,291.3L210,297.3L209.7,299.3L207.2,313.3L204,328.3L200.2,344.3L195.7,361.3L193.1,370.3L189.8,380.3L184.8,394.3L175.2,420.3L168.8,436.3L161.9,452.3L151.9,475.3L147.3,485.3L129,520.3L126.2,526.3L125.2,529.3L124.2,532.9L122.7,540.3L122.2,545.3L122.2,551.3Z"/>
<path fill="#7c7c7c" d="M121.2,551.3L106.2,551.5L47.2,551.5L47,551.3L47,291.3L47.2,291.1L172.2,291L209.3,291.3L209.3,297.3L209,299.3L206.7,312.3L203.5,327.3L199.6,343.3L194.8,361.3L191.9,371.3L188.9,380.3L184,394.3L175.9,416.3L169.6,432.3L163.7,446.3L150.7,476.3L146.6,485.3L128.2,520.7L125.7,526.3L124.4,530.3L122.6,538.3L121.8,544.3L121.8,551.3Z"/>
<path fill="#838383" d="M121.2,551.3L106.2,551.5L47.2,551.5L47,551.3L47,291.3L47.2,291.1L172.2,291.1L208.7,291.3L208.5,298.3L205.9,312.3L202.7,327.3L198.8,343.3L194,361.3L191,371.3L187.7,381.3L177.7,409.3L171.6,425.3L165.9,439.3L149.9,476.3L144.4,488.3L127.9,520.3L125.2,526.1L123.7,531.3L122,539.3L121.5,544.3L121.4,551.3Z"/>
<path fill="#898989" d="M120.2,551.3L106.2,551.5L47.2,551.5L47,551.3L47,291.3L47.2,291.1L172.2,291.1L208,291.3L207.9,298.3L205,313.3L201.6,328.3L197.7,344.3L193.1,361.3L189.8,372.3L186.6,382.3L176.6,410.3L170.8,425.3L165.5,438.3L156.2,459.5L148.7,477.3L143.2,489.3L127.3,520.3L125,525.3L123.7,529.3L121.9,537.3L121.1,544.3L121,551.3Z"/>
<path fill="#8f8f8f" d="M120.2,551.3L106.2,551.5L47.2,551.5L47,551.3L47,291.3L47.2,291.1L172.2,291.1L207.4,291.3L207.2,298.3L204.5,312.3L201.1,327.3L197.4,342.3L192.6,360.3L189.3,371.3L185.8,382.3L180.5,397.3L174.4,414.3L169.7,426.3L164.3,439.3L155.2,459.9L144.5,485.3L126.8,520.3L124.5,525.3L122.9,530.3L121.3,538.3L120.7,544.3L120.6,551.3Z"/>
<path fill="#969696" d="M119.2,551.3L105.2,551.5L47.2,551.5L47.1,551.3L47.1,291.3L47.2,291.1L172.2,291.1L206.7,291.3L206.6,298.3L203.5,313.3L200.2,327.7L196.2,343.6L191.5,361.3L188.2,372.1L184.3,384.3L173.2,415.3L164.2,437.7L154.7,459.3L147.2,477.3L143.3,486.3L126.2,520.3L124,525.3L122.4,530.3L120.7,539.3L120.3,544.3L120.2,551.3Z"/>
<path fill="#9c9c9c" d="M119.2,551.3L105.2,551.5L47.2,551.5L47.1,551.3L47.1,291.3L47.2,291.1L172.2,291.1L206,291.3L206,297.3L205.9,298.3L203.2,311.2L199.2,328.6L195.2,344.3L190.2,362.6L187.2,372.6L183.2,385L173.2,413.3L168.2,426.1L163.2,438.2L153.9,459.3L143.2,484.8L140.2,491.2L125.6,520.3L123.4,525.3L122.1,529.3L120.6,537.3L119.9,543.3L119.8,551.3Z"/>
<path fill="#a3a3a3" d="M119.2,551.3L105.2,551.5L47.2,551.5L47.1,551.3L47.1,291.3L47.2,291.1L172.2,291.1L205.2,291.3L205.2,297.3L205.1,298.3L202.2,311.9L199.2,324.9L195.2,340.9L190.2,359.3L187.2,369.7L183.2,382.3L178.2,397.1L172.2,413.8L168.2,424.2L163.2,436.4L152.6,460.3L142.2,485.4L125,520.3L122.8,525.3L121.6,529.3L120,538.3L119.5,543.3L119.4,551.3Z"/>
<path fill="#a9a9a9" d="M118.2,551.3L47.2,551.5L47.1,551.3L47.1,291.3L47.2,291.1L172.2,291.1L204.1,291.3L204.1,297.3L204,298.3L201.2,311.4L197.2,328.6L193.2,344.3L188.2,362.6L185.2,372.8L181.2,385.3L171.2,414L167.2,424.5L162.2,436.7L151.7,460.3L144.2,478.8L141.2,485.8L124.8,519.3L122.6,524.3L121.1,529.3L119.8,536.3L119,543.3L119,551.3Z"/>
<path fill="#afafaf" d="M118.2,551.3L47.2,551.4L47.1,551.3L47.1,291.3L47.2,291.2L172.2,291.1L202.8,291.3L202.8,297.3L202.7,298.3L199.8,312.3L196.2,327.6L192,344.3L187.5,361.3L184.2,372.3L180.2,385.3L170.2,414.3L166.2,424.7L162,435.3L151.1,459.3L143.2,479.3L140.2,486.3L130.4,506.3L123.7,520.3L122,524.3L120.5,529.3L119.1,537.3L118.5,543.3L118.5,551.3Z"/>
<path fill="#b6b6b6" d="M117.2,551.3L47.2,551.4L47.1,551.3L47.1,291.3L47.2,291.2L172.2,291.2L201.5,291.3L201.5,297.3L201.4,298.3L198.3,313.3L194.8,328.3L190.8,344.3L186,362.3L182.5,374.3L178.7,386.3L169.2,414.3L165.1,425.3L161.1,435.3L150.1,459.3L142.3,479.3L139.3,486.3L129.5,506.3L123.2,519.8L121.4,524.3L120.1,528.3L118.9,535.3L118.1,542.3L118,551.3Z"/>
<path fill="#bcbcbc" d="M117.2,551.3L47.1,551.3L47.1,291.3L172.2,291.2L200.2,291.3L200.2,297.3L200.1,298.3L197.2,312.3L193.8,327.3L189.9,343.3L185.1,361.3L181.7,373.3L178,385.3L168.2,414.3L164.5,424.3L160.6,434.3L158,440.3L149.1,459.3L141,480.3L138.5,486.3L128.7,506.3L122.8,519.3L120.7,524.3L119.3,529.3L118.1,537.3L117.5,543.3L117.5,551.3Z"/>
<path fill="#c2c2c2" d="M116.2,551.3L47.1,551.3L47.1,291.3L198.9,291.3L198.9,297.3L198.8,298.3L195.9,312.3L192.6,327.3L188.7,343.3L183.7,362.3L180.5,373.3L176.6,386.3L166.9,415.3L163.2,425.3L159.7,434.3L157.1,440.3L148.1,459.3L145.3,466.3L140.1,480.3L137.6,486.3L127.9,506.3L122.2,518.9L120.5,523.3L119,528.3L118.1,533.3L117.1,542.3L117,551.3Z"/>
<path fill="#c9c9c9" d="M116.2,551.3L47.2,551.3L47.2,291.3L197.6,291.3L197.6,297.3L197.5,298.3L194.7,312.3L191.6,326.3L187.5,343.3L182.8,361.3L179.7,372.3L175.8,385.3L165.9,415.3L162.3,425.3L158.8,434.3L156.2,440.3L147.1,459.3L144.4,466.3L139.2,480.3L136.8,486.3L127,506.3L121.8,518.3L119.8,523.3L118.4,528.3L117.1,536.3L116.6,542.3L116.5,551.3Z"/>
<path fill="#cfcfcf" d="M115.2,551.3L47.2,551.3L47.2,291.3L196.3,291.3L196.2,298.3L193.4,312.3L190.2,327.3L186.3,343.3L181.7,361.3L178.4,373.3L174.8,385.3L164.9,415.3L161.4,425.3L158.3,433.3L155.3,440.3L146.6,458.3L144.1,464.3L138.8,479.3L136.4,485.3L133.6,491.3L126.2,506.3L119.5,522.3L118,527.3L117.1,532.3L116.1,541.3L116,551.3Z"/>
<path fill="#d6d6d6" d="M115.2,551.3L47.2,551.3L47.2,291.3L195,291.3L194.9,298.3L192.2,312L189.2,326.3L185.4,342.3L181.2,358.9L178.2,370L174.3,383.3L164.2,414.4L160.5,425.3L157.4,433.3L154.4,440.3L145.6,458.3L143.2,464.3L138.2,478.3L135.5,485.3L133.2,490.4L124.9,507.3L118.9,522.3L117.6,526.3L117,529.3L116,536.3L115.6,541.3L115.4,551.3Z"/>
<path fill="#dcdcdc" d="M114.2,551.3L47.2,551.3L47.2,291.3L193.7,291.3L193.6,298.3L191.2,310.7L188.2,325L184.2,342.3L180.2,358.4L177.2,369.6L173.2,383.3L162.2,417.4L159.2,426L156.2,433.9L153.2,440.7L146.9,453.3L144.6,458.3L141.8,465.3L137.2,478.5L134.2,486.2L124.9,505.3L118.8,520.3L116.9,526.3L116,531.3L114.9,541.3L114.8,551.3Z"/>
<path fill="#e2e2e2" d="M113.2,551.3L47.2,551.3L47.2,291.3L192.2,291.3L192.2,297.3L192.1,298.3L189.2,313.2L186.2,327.4L182.2,344.7L178.2,360.8L172.2,382.1L161.2,416.5L158.2,425.4L155.2,433.4L152.2,440.2L145.6,453.3L142.8,459.3L140.5,465.3L134.2,483.3L131.2,490.2L123.7,505.3L121.6,510.3L117.5,521.3L115.7,527.3L114.9,532.3L114,541.3L113.9,551.3Z"/>
<path fill="#e7e7e7" d="M111.2,551.3L47.2,551.3L47.2,291.3L189.6,291.3L189.5,298.3L186.9,312.3L184,326.3L180.2,342.6L176.1,359.3L173.2,370.3L169.7,382.3L158.9,416.3L153.2,432.3L150.2,439.4L143.2,453.3L140.4,459.3L138.1,465.3L131.5,484.3L128.9,490.3L121.2,506.2L115.5,521.3L113.7,527.3L112.6,533.3L111.8,541.3L111.7,551.3Z"/>
<path fill="#eaeaea" d="M110.2,551.3L47.2,551.3L47.2,291.3L188.2,291.3L188.1,298.3L185.5,312.3L182.6,326.3L179.1,341.3L175,358.3L172.1,369.3L168.6,381.3L157.5,416.3L151.9,432.3L148.9,439.3L141.8,453.3L139.1,459.3L136.8,465.3L130.2,484.3L128,489.3L120.2,505.7L116.2,516.1L113.3,524.3L111.9,529.3L110.9,535.3L110.3,542.3Z"/>
<path fill="#ededed" d="M108.2,551.3L47.2,551.3L47.2,291.3L186.8,291.3L186.7,298.3L184.1,312.3L180.9,327.3L177,344.3L172.8,361.3L169.8,372.3L166.6,383.3L155.8,417.3L150.5,432.3L147.5,439.3L140.2,453.9L137.8,459.3L135.2,466L128.9,484.3L126.7,489.3L119.2,505.3L112.2,524.3L110.9,528.3L109.8,533.3L109,541.3L108.9,551.3Z"/>
<path fill="#f1f1f1" d="M107.2,551.3L47.2,551.3L47.2,291.3L185.4,291.3L185.3,298.3L182.3,314.3L179.3,328.3L175.4,345.3L171.4,361.3L165.2,383.2L154.4,417.3L149.2,432L146.2,439.3L139.2,453.3L136.6,459.3L134.2,465.3L127.6,484.3L125.5,489.3L117.8,506.3L110.3,526.3L108.8,531.3L108.2,534.3L107.6,541.3L107.5,551.3Z"/>
<path fill="#f4f4f4" d="M105.2,551.3L47.2,551.3L47.2,291.3L183.9,291.3L183.9,297.3L183.6,299.3L181.2,311.8L178.2,326.2L174.2,343.6L170.2,359.8L167.2,371.1L163.2,384.8L153.2,416.4L150.2,425.3L147.2,433.5L144.2,440.5L138.9,451.3L135.8,458.3L132.7,466.3L126.2,484.7L116.7,506.3L108,529.3L107,532.3L106.6,534.3L105.9,541.3L105.8,551.3Z"/>
<path fill="#f7f7f7" d="M106.2,528.4L105.2,528.8L104.2,528.7L103.2,528.2L102.2,527.2L101.8,526.3L101.3,524.3L101.2,522.3L101.5,520.3L112.9,484.3L128.2,442L132.2,430.4L137.2,414.9L141.2,401.2L146.2,382.8L150.2,367L159.2,328.4L165.5,298.3L165.6,297.3L165.6,291.3L178.2,291.3L178.2,297.3L177.9,299.3L173.8,319.3L168.7,342.3L163.8,363.3L158.7,383.3L153.8,401.3L149.7,415.3L141.8,439.3L139.2,446.3L132.6,462.3L124.2,486L121.2,493.3L115.6,506.3L110.2,520.7L107.2,527.1Z"/>
<path fill="#fafafa" d="M107.2,521.7L106.3,521.3L106.2,520.3L106.2,519.8L114.2,494.3L119.2,479.4L134.6,437.3L140.9,418.3L144.7,405.3L149.7,387.3L153.8,371.3L162.8,333.3L166.7,315.3L170,299.3L170.2,297.3L170.2,291.3L173.6,291.3L173.6,297.3L173.2,299.5L166.2,332.8L157.2,370.9L152.2,390.2L148.2,404.6L143.2,421.2L137.2,439.1L121.9,481.3L115.2,501.6L109.2,518.6L108.2,520.9Z"/>
</g></g>
<g clip-path="url(#crc)"><g filter="url(#jet)">
<rect x="243" y="289.3" width="214" height="264" fill="#040404"/>
<path fill="#050505" d="M455,551.3L394,551.3L354,551.8L245,551.8L244.5,551.3L244.8,511.3L244.8,291.3L245,291.1L285,291.3L455,291.3Z"/>
<path fill="#080808" d="M395,551.3L362,551.8L245,551.8L244.5,551.3L244.8,510.3L244.8,291.3L245,291.1L280.1,291.3L281.3,379.3L280.8,388.3L282,395.3L282.6,415.3L283.3,425.3L284.9,432.3L286.1,439.3L286.7,441.3L288.7,445.3L290.2,447.3L291.7,448.3L297,450.6L302.3,453.3L308,455.8L310,457L313,459L321.7,465.3L326,468.8L348,488.6L351.4,492.3L353.6,495.3L354.7,497.3L357,502.6L361.9,512.3L364,515.3L368,520.1L371.4,523.3L375.4,526.3L379,528.2L383,529.8L386,531.5L389.5,534.3L392.2,537.3L394,540.3L394.4,541.3L395,543.3L395.3,545.3L395.3,551.3ZM278.4,422.3L278.6,421.3L278.6,419.3L278,412.6L277,411.5L276.8,421.3L277,422.4L278,423ZM285.1,450.3L285.5,449.3L285.4,448.3L284.4,446.3L284,445.7L283,445L282,445.1L280.9,446.3L280.7,448.3L281,449.4L282,450.6L283,451.1L284,451Z"/>
<path fill="#0b0b0b" d="M392,551.3L375,551.6L354,551.8L245,551.8L244.5,551.3L244.8,510.3L244.9,291.3L245,291.2L276.8,291.3L277,315L278.1,380.3L278,382.3L277.5,384.3L274.3,389.3L273.8,390.3L273.4,392.3L273.2,396.3L273.4,417.3L273.5,422.3L274,425.3L275.2,427.3L279.8,431.3L280.6,432.3L281.3,434.3L281.4,436.3L281.2,437.3L280.4,439.3L278.2,443.3L277.6,445.3L277.6,448.3L278,449.8L278.7,451.3L279.5,452.3L280.7,453.3L283,454.3L285,454.3L289,453.2L291,452.8L294,453.2L296,453.8L305,457.6L309,459.7L312,461.6L315,463.9L343,487.6L346.9,491.3L349.4,494.3L351.3,497.3L355.2,505.3L359,512.1L362,516.5L366,521.4L369,524.4L373,527.4L376.4,529.3L382,531.8L386,534.1L388.6,536.3L390.3,538.3L391.5,540.3L392.4,542.3L393,545.3L393,551.3Z"/>
<path fill="#0e0e0e" d="M391,551.3L375,551.6L354,551.8L245,551.8L244.5,551.3L244.8,509.3L244.7,469.3L244.9,291.3L245,291.2L274.7,291.3L275,321.3L276,380.3L275.6,383.3L275.2,384.3L272.6,388.3L272,390L271.8,391.3L271.7,396.3L271.8,418.3L272.1,424.3L272.9,427.3L274,428.9L277.8,432.3L278.4,433.3L279,435.3L278.8,437.3L276.3,442.3L275.8,444.3L275.7,447.3L276,449.3L277,451.9L278,453.3L279.1,454.3L280.6,455.3L282,455.9L284,456.2L290,455L293,455L296,455.9L301,457.9L305,459.6L308,461.1L311,463L313,464.6L328.8,478.3L343,489.9L345.5,492.3L347.9,495.3L349.7,498.3L353,504.9L356,510.3L360.1,516.3L365,522.3L368,525.3L371.9,528.3L375.5,530.3L381,532.8L384,534.4L386.7,536.3L388.6,538.3L390.5,541.3L391.5,544.3L391.6,545.3L391.6,551.3Z"/>
<path fill="#121212" d="M390,551.3L375,551.6L354,551.8L245,551.8L244.5,551.3L244.8,509.3L244.7,469.3L244.9,291.3L245,291.2L272.9,291.3L273.2,317.3L274.2,380.3L273.8,383.3L273.4,384.3L271.4,387.3L271,388.3L270.6,390.3L270.5,395.3L270.7,414.3L270.9,424.3L271.3,427.3L272.3,429.3L275.5,432.3L276.3,433.3L276.9,435.3L276.7,437.3L274.9,441.3L274.5,442.3L274.2,444.3L274.5,449.3L275,451.1L275.6,452.3L277,454.3L278,455.2L280,456.4L282,457.2L284,457.6L290,456.6L293,456.6L300,458.9L304,460.5L307,462L309.1,463.3L311.7,465.3L318,471L326.5,478.3L342,490.7L344.7,493.3L346.3,495.3L348.2,498.3L352,505.9L355,510.9L361,519.3L364.4,523.3L367.6,526.3L370,528.3L373.2,530.3L381,533.9L384,535.6L386.3,537.3L388.2,539.3L389.4,541.3L389.9,542.3L390.6,545.3L390.6,551.3Z"/>
<path fill="#151515" d="M389,551.3L375,551.6L354,551.8L245,551.8L244.5,551.3L244.8,509.3L244.7,469.3L245,291.2L271.3,291.3L272.4,380.3L272.1,383.3L271.7,384.3L270,387.1L269.6,389.3L269.5,399.3L269.7,418.3L270,425.3L270.4,428.3L270.7,429.3L271.3,430.3L274.2,433.3L274.7,434.3L274.9,435.3L274.8,437.3L273.1,441.3L272.8,443.3L273.1,449.3L273.7,451.3L274.6,453.3L276,455.3L277,456.1L280,458L282,458.8L284,459.1L290,458L293,458.1L299,459.8L304,461.6L306,462.6L308,463.8L309.9,465.3L317,472L325.6,479.3L341,491.2L343.2,493.3L344.9,495.3L346.8,498.3L350.3,505.3L353.4,510.3L360,519.4L364.2,524.3L367.4,527.3L370,529.3L373.2,531.3L383,535.9L385,537.2L387.2,539.3L388.6,541.3L389,542.3L389.9,545.3L389.9,551.3ZM281.6,497.3L282,496.3L282.2,494.3L282,491.8L281.6,490.3L281,488.9L280,488L279,487.6L278,487.6L277,488.2L276,489.8L275.8,491.3L276.2,493.3L277,495.3L278,497L279,497.9L280,498.2L281,497.9Z"/>
<path fill="#181818" d="M389,551.3L375,551.6L354,551.7L245,551.7L244.6,551.3L244.8,509.3L244.7,469.3L245,291.2L269.8,291.3L270.7,381.3L270.5,383.3L270.1,384.3L269,386.3L268.5,388.3L268.5,403.3L268.8,418.3L269.1,426.3L269.4,429.3L270,430.9L272.2,433.3L272.7,434.3L273,435.3L272.9,437.3L271.7,440.3L271.5,441.3L271.4,443.3L272,450.3L274,455.4L275,456.9L276,457.9L279,460.2L281,461.3L282,461.5L283,461.4L288,459.8L290,459.5L292,459.4L294,459.7L299,461L303,462.3L305.3,463.3L308.2,465.3L315.4,472.3L324,479.7L332.5,486.3L340,491.7L342.8,494.3L344.3,496.3L345.5,498.3L348.4,504.3L352.3,510.3L360,520.6L364,525.1L367,527.9L370.2,530.3L373.6,532.3L380,535.1L383,536.6L385,538L387,540L388.4,542.3L389.2,545.3L389.2,551.3ZM282.4,500.3L283.5,499.3L284,498.5L284.6,496.3L284.6,492.3L284.1,487.3L283.7,486.3L283,485.4L282,484.5L280,483.4L279,483.1L278,483.2L277,483.9L276,485L275,486.5L274.1,488.3L273.8,490.3L274,493.3L276,498.3L277,499.7L278,500.4L280,500.9L281,500.8Z"/>
<path fill="#1d1d1d" d="M388,551.3L375,551.6L354,551.7L245,551.7L244.6,551.3L244.8,509.3L244.7,469.3L245,291.2L268.2,291.3L269,381.3L268.8,383.3L267.7,386.3L267.5,388.3L267.6,403.3L267.9,418.3L268.5,430.3L269,431.8L270.7,434.3L271,435.3L271,437.3L270,440.3L269.9,441.3L270.5,449.3L271.7,453.3L272.2,456.3L273,458.3L279,464.2L280,464.9L281,464.8L286,462.7L289,461.2L292,460.8L297,461.6L302,463L305,464.2L306.7,465.3L308.8,467.3L314,472.8L321.4,479.3L331.8,487.3L339,492.2L341.4,494.3L343.6,497.3L347,504.5L349,507.6L359,520.4L362,523.9L364.4,526.3L367.8,529.3L370.6,531.3L374.3,533.3L378,534.8L382,536.7L384,538L386,539.7L387,540.9L387.8,542.3L388.7,545.3L388.7,551.3ZM283.5,502.3L284.8,501.3L285.6,500.3L286.4,498.3L286.9,496.3L287,494.3L286.8,490.3L286.1,485.3L285.7,484.3L285.1,483.3L284,482.3L279,478.7L278,478.6L277,479.6L276,481.1L273,485.9L272.4,487.3L272.1,490.3L272.4,494.3L274.2,499.3L275,500.7L276,501.7L277,502.3L278,502.6L280,503L282,502.9Z"/>
<path fill="#232323" d="M387,551.3L354,551.7L245,551.7L244.6,551.3L244.9,509.3L244.7,469.3L245,291.2L265.3,291.3L265.9,381.3L265.6,388.3L266,413.3L266.5,427.3L266.5,431.3L267.1,436.3L267.3,441.3L268.5,453.3L269,459.3L269.6,462.3L269.8,464.3L269.9,481.3L269.4,487.3L269.5,494.3L270,497.8L271,501.1L271.6,502.3L272.1,503.3L273,504.3L274.7,505.3L277,505.9L280,506.3L282,506.2L284,505.7L286,504.6L287.5,503.3L289,501L289.9,498.3L290.3,496.3L290.6,493.3L290.3,488.3L289.3,481.3L288.6,478.3L288.4,475.3L288.3,472.3L289,469.6L290,467.9L292,465.9L293,465.3L295,464.7L298,464.3L301,464.8L303,465.5L304.5,466.3L306,467.5L312,474.1L318,479.3L327.1,486.3L331.3,489.3L337,492.9L340,495.3L341.6,497.3L345,504.4L347,507.5L360.3,523.3L365,528.1L367.6,530.3L370.5,532.3L372.3,533.3L380,536.6L383,538.4L385.3,540.3L386.8,542.3L387.7,544.3L387.9,545.3L387.9,551.3Z"/>
<path fill="#292929" d="M387,551.3L354,551.7L245,551.7L244.6,551.3L244.9,509.3L244.8,469.3L245,291.2L263.3,291.3L264,396.3L264.2,408.3L264.9,426.3L264.8,428.3L264.2,431.3L264.1,433.3L264.8,441.3L267.5,464.3L267.9,475.3L267.7,493.3L267.9,496.3L268.5,500.3L269.4,503.3L270,504.7L271.3,506.3L273,507.2L275,507.7L279,508L282,507.8L284,507.3L286,506.3L288.5,504.3L289.9,502.3L291,499.6L292,495L292.1,490.3L291.4,483.3L291.1,474.3L291.5,472.3L292.2,471.3L293,470.5L297,467.5L298,467.1L299,467L302,467.7L303.2,468.3L304.6,469.3L310.7,475.3L317,480.3L325,486.3L330.7,490.3L336,493.7L339,496.1L340.7,498.3L345,506.1L347,508.8L360,524.1L365.3,529.3L368,531.5L370.7,533.3L378,536.5L381,538.1L383,539.4L385,541.2L386.5,543.3L387.2,545.3L387.2,551.3Z"/>
<path fill="#303030" d="M386,551.3L354,551.7L245,551.7L244.6,551.3L244.9,509.3L244.8,469.3L245,291.3L261.4,291.3L262.3,398.3L263.2,424.3L263,426.8L261.8,430.3L261.4,432.3L262.2,441.3L266.1,464.3L266.7,475.3L266.3,494.3L266.4,497.3L267.3,503.3L268.2,506.3L268.9,507.3L270,508.3L272,509.2L275,509.7L278,509.6L282,509L284,508.4L287,506.8L289,505.1L290.3,503.3L291.3,501.3L292.4,498.3L293,495.3L293.2,491.3L292.9,483.3L293.3,474.3L294,472.9L297,470.4L298,470L299,469.8L301,470.1L303,471.1L310.9,477.3L326.1,488.3L335.1,494.3L337.7,496.3L340,499.1L343.1,504.3L346,508.5L359,523.9L362.2,527.3L366,530.8L369,533L371.2,534.3L377,536.7L380,538.2L382.9,540.3L385,542.3L386,543.9L386.5,545.3L386.5,551.3Z"/>
<path fill="#363636" d="M385,551.3L354,551.7L245,551.7L244.6,551.3L244.9,509.3L244.8,469.3L245,291.3L257.3,291.3L257.5,312.3L258.3,332.3L258.6,365.3L259.4,379.3L259.8,404.3L260.7,424.3L260.5,426.3L259.1,430.3L258.8,432.3L259.3,438.3L259.9,442.3L262.7,455.3L264.4,462.3L265.1,467.3L265.5,472.3L265.6,477.3L265,498.3L265.6,505.3L266.1,507.3L266.7,508.3L267.7,509.3L269,510.4L270,511L272,511.5L275,511.6L279,511L283,509.8L286,508.4L289,506.2L290.7,504.3L291.8,502.3L292.6,500.3L293.5,497.3L294.1,492.3L294.2,483.3L294.6,479.3L295.4,475.3L296,474.3L298,472.9L299,472.6L301,472.9L303,473.9L317,482.9L326,489.3L334,494.6L337,497L339,499.3L343.8,506.3L348,511.8L359,524.8L362.4,528.3L366,531.6L369,533.8L372,535.3L376,536.9L378.9,538.3L381.9,540.3L384.1,542.3L385,543.5L385.9,545.3L385.9,551.3Z"/>
<path fill="#3d3d3d" d="M385,551.3L354,551.7L245,551.7L244.6,551.3L244.9,509.3L244.8,469.3L245,332L251,332L252,345.2L252.4,355.3L255.1,388.3L255.6,409.3L256.8,427.3L256.2,431.3L256.1,433.3L257,440.3L258.1,445.3L261,456.3L263.5,464.3L264.5,472.3L264.5,480.3L263.4,499.3L263.6,506.3L264,508.3L264.5,509.3L267,511.8L269,513.1L271,513.5L274,513.4L279,512.3L284,510.4L287,508.8L289.1,507.3L291,505.3L292.3,503.3L293.6,500.3L294.2,498.3L294.9,494.3L295.5,484.3L296.2,480.3L297,477.3L298,475.9L299,475.4L300,475.4L301,475.6L308,478.9L315,482.8L327.5,491.3L333,494.9L336,497.3L339,500.5L348,512.6L359,525.6L362.6,529.3L366,532.3L368,533.8L370.6,535.3L376,537.5L379,539.1L382,541.2L384,543.2L384.8,544.3L385.2,545.3L385.2,551.3Z"/>
<path fill="#434343" d="M384,551.3L354,551.7L245,551.7L244.6,551.3L244.9,512.3L244.8,469.3L245,402.5L251,402.5L252,408.3L254,433.3L255,440.5L257,448.5L259.8,457.3L261.7,462.3L262.8,466.3L263.5,473.3L263.6,479.3L263.1,487.3L262,497.3L261.4,506.3L261.5,508.3L262,510.3L263,512.2L263.9,513.3L265.2,514.3L268,515.1L271,515.1L274,514.8L276,514.3L279,513.3L284.1,511.3L287,509.8L289.4,508.3L291,506.9L292.3,505.3L293.4,503.3L294.7,500.3L295.7,496.3L296.7,485.3L297.2,483.3L298,481.4L299,480.1L300,479.3L301,479.1L304,479.2L306,479.7L311,481.8L316,484.5L328,492.7L332,495L336,498.2L339,501.5L348,513.3L358,525.3L362.8,530.3L366,533.1L368,534.5L370,535.6L376,538.1L378,539.1L381,541.2L383.3,543.3L384.1,544.3L384.6,545.3L384.6,551.3Z"/>
<path fill="#494949" d="M384,551.3L354,551.6L245,551.7L244.6,551.3L245,512.3L244.8,469.3L245,418.8L251,418.8L253,436.3L254,441.9L255,445.9L257,452.3L259,458.2L260.7,462.3L261.8,466.3L262.7,474.3L262.5,481.3L261.5,491.3L258.9,507.3L258.9,509.3L259.3,512.3L259.6,513.3L260.4,514.3L261.6,515.3L263,516.2L265,516.6L269,516.4L273,515.8L275.3,515.3L278.3,514.3L286,511.3L289.9,509.3L291.4,508.3L293.5,506.3L294.6,504.3L295.7,501.3L296.8,496.3L297.7,487.3L298.3,485.3L299,483.8L300,482.8L303,481.4L305,481.2L307,481.6L311,483.1L315,485.1L327.4,493.3L332,495.7L335,498L337,500L340,503.4L344.6,509.3L348,514L358,526.1L362,530.4L365.3,533.3L368,535.2L370.1,536.3L377.1,539.3L380,541.1L383,543.8L384,545.3Z"/>
<path fill="#505050" d="M383,551.3L353,551.6L245,551.6L244.7,551.3L244.7,532.3L245,512.3L244.9,469.3L245,430.5L251,430.5L252.2,438.3L253.8,445.3L257,455.3L260.2,463.3L260.7,465.3L261.2,468.3L261.8,473.3L261.8,477.3L261.5,482.3L260.8,488.3L259,497.8L255.8,509.3L255.7,512.3L256.1,513.3L257,514.3L259.6,516.3L262,517.6L264,518L267,517.9L275,516L288.2,511.3L292.8,509.3L294.3,508.3L295,507.6L296.1,505.3L297.2,501.3L297.8,498.3L299,488.3L300,485.7L301.2,484.3L303,483.3L304,483L306,482.9L309,483.6L312,484.7L315,486.2L327.4,494.3L331,495.7L335,498.7L337,500.6L340,504L344.2,509.3L347,513.4L352.7,520.3L358,527L362,531.2L364.4,533.3L367.1,535.3L370,536.9L375,538.9L377,539.9L380,541.8L382.8,544.3L383.4,545.3L383.4,551.3Z"/>
<path fill="#565656" d="M254,505.4L253,505.6L251,505.7L245,505.7L244.9,469.3L245,438.8L251,438.8L255.5,453.3L259.3,463.3L259.9,465.3L260.4,468.3L260.9,473.3L261,477.3L260.6,482.3L259.8,488.3L259,492.3L257.6,497.3L255,504.2ZM382,551.3L353,551.6L245,551.6L244.7,551.3L244.7,532.3L245,512L251,512L253.5,514.3L259,518.3L262,519.2L265,519.4L268,518.8L275,516.6L283,513.6L292.2,511.3L294,510.7L295,510.2L296.2,509.3L297,508.3L297.8,506.3L299.1,499.3L300,490.3L300.5,488.3L301,487.4L302,486.1L303,485.3L305,484.6L307,484.6L310,485.1L312,485.8L315,487.3L327,495L328,495.4L330,495.9L331,496.3L333,497.6L335,499.3L338,502.3L341,505.8L344.5,510.3L347,514.1L352.9,521.3L358,527.9L361.2,531.3L364.7,534.3L367,535.9L369,537L374.6,539.3L377,540.5L380,542.5L382.1,544.3L382.8,545.3L382.8,551.3Z"/>
<path fill="#5c5c5c" d="M252,502.8L251,503.1L245,503.1L245,443L251,443L255.6,456.3L258.4,463.3L259,465.3L259.6,469.3L260.1,474.3L260,479.3L259,486.4L258,491.3L256.7,495.3L255,499.1L254,500.9L253,502.3ZM382,551.3L353,551.6L245,551.6L244.7,551.3L244.7,532.3L245,517L252,517.1L254,517.7L257,519.4L259,520.2L263,520.5L266,520.4L267,520.2L271.6,518.3L283,514.1L289,512.9L294.1,512.3L296,511.7L297,511.2L298.1,510.3L299,508.9L299.6,507.3L300.4,501.3L301.1,492.3L301.5,490.3L302,488.9L303.4,487.3L305,486.4L307,486L310,486.3L312,486.9L314,487.9L327,495.7L328,496.1L330,496.4L331,496.9L333,498.2L335,499.9L338,502.9L341,506.4L344.1,510.3L347,514.7L352.3,521.3L357,527.5L361,531.9L363.7,534.3L366.5,536.3L369,537.6L376,540.5L379,542.4L381.4,544.3L382.1,545.3L382.1,551.3Z"/>
<path fill="#636363" d="M252,499.6L251,500.3L245,500.3L245,446.7L251,446.7L252,448.8L257.4,463.3L258,465.3L258.7,469.3L258.9,472.3L259,477.3L258.6,481.3L258,485L256.8,490.3L255.4,494.3L254,497.1ZM381,551.3L353,551.6L245,551.6L244.7,551.3L244.7,532.3L245,520.9L254,520.9L260,521.5L266,521.4L268,520.8L272,518.8L283,514.6L288,513.7L295.8,513.3L298,512.7L299,512.1L300,511.1L300.5,510.3L301.3,508.3L301.7,505.3L302.4,494.3L303,491.3L304,489.6L305.5,488.3L307,487.7L308,487.5L310,487.6L312,488.2L314,489.2L327,496.3L330,497L331,497.4L333,498.8L335,500.5L338,503.4L341,506.9L344,510.8L347,515.3L352.5,522.3L356.9,528.3L360.6,532.3L363,534.4L366,536.6L369,538.1L375,540.6L378,542.3L380.6,544.3L381.4,545.3L381.4,551.3Z"/>
<path fill="#696969" d="M252,495.5L251,496.3L245,496.3L245,450.2L251,450.2L252,452.2L256,462.8L256.8,465.3L257.2,467.3L257.7,471.3L257.6,476.3L257.5,479.3L257,482.3L254,492.3L253,494.2ZM380,551.3L353,551.6L245,551.6L244.7,551.3L244.7,532.3L245,522.3L262,522.4L266,522.2L268,521.5L272,519.4L278,516.9L281,515.7L284,514.8L290,514L297,514.2L298,514.1L300,513.3L301.4,512.3L302,511.6L302.9,509.3L303.3,506.3L303.7,497.3L304.4,493.3L305.5,491.3L307,489.9L309,489.3L311,489.5L313,490.2L327,496.8L328,497.2L330,497.5L331,498L332.9,499.3L335,501.1L339,505.1L342,508.7L344,511.3L346,514.5L356,528L359.8,532.3L363.2,535.3L366,537.2L368.2,538.3L375,541.2L378,542.9L380,544.5L380.7,545.3L380.7,551.3Z"/>
<path fill="#707070" d="M251,491.9L245,491.9L245,454L251,454L252,455.9L253.3,459.3L255.4,465.3L256,467.9L256.3,471.3L255.9,478.3L255.5,481.3L254.9,483.3L252.2,490.3ZM379,551.3L353,551.6L245,551.6L244.7,551.3L244.8,532.3L245,523.1L260,523.1L266,522.8L268,522.2L272,520L278.1,517.3L281,516.2L284,515.2L287,514.7L290,514.5L298,515L300,514.7L301.1,514.3L302.8,513.3L303.8,512.3L304.5,510.3L304.9,507.3L305.3,498.3L306.1,494.3L307,492.9L308,491.9L309,491.4L310,491.2L311,491.3L319,493.9L324,495.8L327.2,497.3L330,498.1L332,499.3L336,502.6L339,505.7L343,510.5L346,515L355,527.6L357,530.1L359,532.3L362.4,535.3L365,537.2L367.1,538.3L375,541.7L378,543.5L379.9,545.3L379.9,551.3Z"/>
<path fill="#767676" d="M251,486.9L245,486.9L245,457.9L251,457.9L252,459.9L254.5,467.3L254.8,469.3L254.8,471.3L254.1,479.3L253,483L252,485.3ZM379,551.3L353,551.6L245,551.6L244.7,551.3L244.8,532.3L245,523.7L260,523.7L266,523.4L268,522.8L272,520.6L279,517.4L282,516.2L285,515.4L288,515L290,514.9L293,515.1L299,515.9L301,515.8L302,515.4L304,514.4L305,513.6L305.9,512.3L306.4,509.3L306.8,499.3L307.2,497.3L307.9,495.3L309,494L310,493.4L311,493.3L312,493.4L319,494.9L323,495.9L330,498.7L332.4,500.3L336,503.3L339,506.3L343,511.1L354.9,528.3L357,531L359,533.1L362,535.7L365,537.7L367,538.8L372,540.8L375,542.2L378,544.2L379.2,545.3L379.2,551.3Z"/>
<path fill="#7c7c7c" d="M251,481.9L245,481.9L245,462.3L251,462.3L252,464.4L253,467.2L253.4,470.3L252.6,477.3L252,480.1ZM378,551.3L353,551.5L245,551.6L244.7,551.3L244.8,532.3L245,524.3L259,524.3L266,523.9L268,523.3L273,520.6L280.4,517.3L284,516L287,515.4L290,515.2L292,515.4L301,517L302,517L303,516.6L306,515L306.8,514.3L307.5,513.3L308,510.3L308.3,500.3L309,497.7L310,496.1L311,495.4L313,495.2L318,495.6L322,496.2L325,497L330,499.3L332,500.7L338,505.8L343.5,512.3L349,520.7L355,529.3L357.5,532.3L360,534.7L363,537.1L365,538.3L373,541.7L375.9,543.3L377.4,544.3L378.4,545.3L378.4,551.3Z"/>
<path fill="#838383" d="M251,474.6L245,474.6L245,466.8L251,466.8L251.6,468.3L251.8,470.3ZM377,551.3L353,551.5L245,551.5L244.8,551.3L244.8,532.3L245,524.9L259,524.8L266,524.4L268,523.8L273,521.1L281,517.5L285,516.2L288,515.7L290,515.6L293,515.9L302,518.3L305,518.6L306,518.5L307,517.8L308,516.2L309,513.5L309.6,501.3L310.1,499.3L311,497.8L312,497.1L314,496.6L319,496.5L323,496.9L325,497.4L330,499.8L335,503.6L338,506.4L343.1,512.3L350,523L354.3,529.3L356.8,532.3L359,534.5L362,537L364,538.3L366,539.4L374,542.7L376.5,544.3L377.6,545.3L377.6,551.3Z"/>
<path fill="#898989" d="M376,551.3L353,551.5L245,551.5L244.8,551.3L244.8,532.3L245,525.4L258,525.3L266,524.9L268,524.3L273,521.6L282,517.5L286,516.3L289,516L292,516.1L295,516.8L301,518.9L305.9,521.3L307,521.3L308.2,520.3L309.1,518.3L310,513.2L310.3,505.3L310.6,502.3L311.1,500.3L311.6,499.3L313,498.1L315,497.6L320,497.2L324,497.6L326,498.2L328.3,499.3L331,500.9L336,504.9L338.5,507.3L343.5,513.3L349,522.3L354,529.7L356.1,532.3L359,535.3L361.5,537.3L364,538.9L373,542.7L375.7,544.3L376.8,545.3L376.8,551.3Z"/>
<path fill="#8f8f8f" d="M375,551.3L353,551.5L245,551.5L244.8,551.3L245,525.8L258,525.7L266,525.4L268,524.8L273,522.1L282,517.9L286,516.7L289,516.3L292,516.5L295,517.2L300,519.1L306,522.3L307.4,522.3L308,522.1L309,521L310,518.2L310.7,513.3L311.2,504.3L311.6,502.3L312.3,500.3L313,499.5L314,498.9L316,498.3L321,497.9L324,498L326,498.6L330,500.6L334.7,504.3L339,508.3L343.1,513.3L349,523.2L353.1,529.3L356,533L359,536L361,537.6L363.6,539.3L373,543.2L374.8,544.3L376,545.3L376,551.3Z"/>
<path fill="#969696" d="M375,551.3L353,551.5L245,551.5L244.8,551.3L245,526.2L258,526.2L266,525.8L268,525.2L273,522.5L282.2,518.3L286,517.1L289,516.6L292,516.8L295,517.6L300,519.7L305,522.7L307,523.3L308,523.1L309,522.4L309.7,521.3L310.7,518.3L311.2,514.3L311.8,505.3L312.2,503.3L313,501.3L314,500.1L316,499.2L320,498.6L324,498.5L326,499L328,499.9L331,501.7L335.5,505.3L338.6,508.3L343,513.7L349,524.1L352.5,529.3L355,532.6L358,535.7L360,537.5L362.6,539.3L364.5,540.3L372,543.2L373.9,544.3L375.1,545.3Z"/>
<path fill="#9c9c9c" d="M374,551.3L353,551.5L245,551.5L244.8,551.3L245,526.7L258,526.6L266,526.2L268.8,525.3L273,523L282,518.8L286,517.4L289,517L292,517.2L295,518.1L300.2,520.3L305,523.4L307,524L308,524L309,523.5L310,522.4L311,519.7L311.7,515.3L312.5,505.3L313.1,503.3L314,501.7L315.7,500.3L318,499.6L322,499L325,499.2L328,500.3L331,502L336,506.1L339.1,509.3L343.1,514.3L348,523.2L351.9,529.3L355,533.3L358,536.4L360.2,538.3L363,540.1L371,543.3L372.9,544.3L374.2,545.3L374.2,551.3Z"/>
<path fill="#a3a3a3" d="M373,551.3L353,551.5L245,551.5L244.8,551.3L245,527.1L261,527L265,526.8L267,526.4L269,525.7L273,523.4L282,519.2L286,517.8L289,517.4L291,517.4L293,517.8L297,519.3L300,520.7L304,523.5L306,524.6L308,524.8L309,524.5L310,523.7L310.8,522.3L311.7,519.3L312.3,515.3L313,506.8L313.3,505.3L314.1,503.3L315,502L315.8,501.3L318,500.4L322,499.7L325,499.7L328,500.6L331,502.3L334.7,505.3L338.7,509.3L342.7,514.3L348,524.1L351,528.7L354,532.8L357.2,536.3L360,538.7L362.4,540.3L369.9,543.3L371.9,544.3L373.2,545.3L373.2,551.3Z"/>
<path fill="#a9a9a9" d="M372,551.3L353,551.5L245,551.5L244.8,551.3L245,527.6L260,527.4L265,527.2L267,526.9L269,526.1L273,523.9L282.8,519.3L286,518.2L289,517.7L292,518L296,519.4L300,521.3L304,524.2L306,525.2L308,525.5L309,525.3L310,524.7L311,523.4L312,520.5L312.8,516.3L313.7,507.3L314.1,505.3L315,503.5L316,502.3L317,501.6L319,500.9L323,500.2L326,500.4L329,501.5L331.9,503.3L336.4,507.3L339.2,510.3L342.9,515.3L347,523.1L350,528L353.9,533.3L357,536.7L360,539.3L362,540.6L364,541.5L368.8,543.3L370.8,544.3L372.2,545.3L372.2,551.3Z"/>
<path fill="#afafaf" d="M371,551.3L353,551.4L245,551.4L244.9,551.3L245,528L260,527.9L265,527.6L267,527.3L269,526.5L273.1,524.3L283,519.6L286,518.6L289,518.1L292,518.4L294.8,519.3L300,521.8L305,525.5L307,526.1L309,526L310,525.6L311,524.6L312.1,522.3L313,518.3L314.4,507.3L315,505.4L315.6,504.3L317,502.7L319,501.7L323,500.9L326,500.9L329,501.8L331.5,503.3L336,507.3L338.8,510.3L341.1,513.3L342.4,515.3L347,523.9L349.7,528.3L353,532.9L356,536.3L359,539L361,540.5L363,541.5L368,543.4L369.7,544.3L371.1,545.3Z"/>
<path fill="#b6b6b6" d="M369,551.3L245,551.4L244.9,551.3L245,528.5L259,528.4L265,528.1L267,527.7L269,527L273,524.8L282.4,520.3L286,519L289,518.5L292,518.8L295.9,520.3L299.8,522.3L304,525.5L306,526.5L308,526.9L310,526.5L311.3,525.3L312,524.1L312.7,522.3L313.6,518.3L315,508.3L315.6,506.3L316.7,504.3L318,503.1L320,502.2L324,501.5L327,501.6L329,502.2L331,503.3L332,504L335.5,507.3L339,511.1L342,515.3L346.8,524.3L349,528L352,532.3L355.5,536.3L358.7,539.3L361,540.9L363,542L368,544L370,545.3L370,551.3Z"/>
<path fill="#bcbcbc" d="M368,551.3L245,551.4L244.9,551.3L245,529L259,528.9L265,528.5L267,528.2L269,527.4L273,525.3L283,520.5L286,519.4L289,518.9L292,519.2L295,520.4L299,522.4L304,526.2L306,527.2L308,527.5L310,527.3L311,526.7L312,525.4L313,523.1L314,519.3L315.5,509.3L316.1,507.3L317.1,505.3L317.9,504.3L319,503.5L321,502.7L325,502.1L328,502.3L330,503L332,504.4L336.1,508.3L338.7,511.3L342,516.2L346.3,524.3L348.7,528.3L352,532.9L354.9,536.3L358.1,539.3L360.9,541.3L363,542.4L367.6,544.3L369,545.3L369,551.3Z"/>
<path fill="#c2c2c2" d="M367,551.3L245,551.4L245,529.5L259,529.3L265,529L267,528.7L269,527.9L274,525.3L283,520.9L286,519.9L289,519.4L292,519.7L295.9,521.3L299.4,523.3L303.3,526.3L305,527.4L307,528L309,528.1L310,528L311,527.6L312,526.6L313.2,524.3L314.5,519.3L316,510.1L317,507.3L318,505.5L319.3,504.3L321.7,503.3L325,502.7L328,502.7L330,503.4L332,504.8L335.5,508.3L338.1,511.3L341,515.3L346.4,525.3L348.2,528.3L351.8,533.3L354.4,536.3L357.6,539.3L360,541.2L362,542.4L366.5,544.3L367.9,545.3L367.9,551.3Z"/>
<path fill="#c9c9c9" d="M366,551.3L245,551.4L245,530L259,529.9L264,529.6L267,529.1L269,528.4L273,526.3L283.3,521.3L286,520.3L289,519.8L292,520.1L294.8,521.3L299,523.6L303.8,527.3L305.7,528.3L307,528.6L309,528.8L311,528.4L312.3,527.3L313,526.1L313.8,524.3L314.9,520.3L316,513.3L316.7,510.3L317.4,508.3L318.5,506.3L320,504.8L322,504L325,503.3L328,503.2L330,503.8L332,505.3L335,508.3L337.6,511.3L341,516.2L347.8,528.3L350.5,532.3L353.9,536.3L357,539.3L360,541.6L362,542.8L365.3,544.3L366.9,545.3L366.9,551.3Z"/>
<path fill="#cfcfcf" d="M365,551.3L245,551.4L245,530.6L258,530.4L264,530.1L267,529.7L269,528.9L283,521.9L286,520.8L289,520.2L290.5,520.3L292,520.6L295,522L299,524.3L303,527.4L305,528.6L306,529L308,529.3L310,529.4L311,529.2L312,528.6L313,527.4L314.4,524.3L315.5,520.3L317,511.8L317.8,509.3L318.8,507.3L320,505.9L322,504.8L325,504L328,503.7L330,504.3L331.4,505.3L333.4,507.3L337,511.3L341,517.2L345.5,525.3L347.9,529.3L350.8,533.3L353.3,536.3L356,539L359,541.4L361,542.8L364.1,544.3L365.7,545.3L365.7,551.3Z"/>
<path fill="#d6d6d6" d="M364,551.3L245,551.4L245,531.1L259,530.9L264,530.6L267,530.2L270,529L283.3,522.3L286,521.3L289,520.7L290,520.7L292,521.1L294.6,522.3L298,524.3L303,528.1L305,529.2L308,529.9L311,529.9L312,529.5L313,528.5L313.8,527.3L314.7,525.3L315.8,521.3L317,515L317.9,511.3L319,508.7L319.9,507.3L321,506.2L322.7,505.3L326,504.4L328,504.3L330,504.9L331,505.6L333,507.6L337,512.2L341,518.2L347.4,529.3L350.2,533.3L352.7,536.3L355,538.6L358,541.2L360,542.7L364.4,545.3L364.4,551.3Z"/>
<path fill="#dcdcdc" d="M363,551.3L245,551.4L245,531.7L259,531.5L265,531.1L267,530.8L270,529.7L284.6,522.3L288,521.3L289,521.2L291,521.4L293.4,522.3L298,525L303,528.8L305,529.9L307,530.4L309,530.7L311,530.6L312,530.3L313,529.6L313.9,528.3L315.3,525.3L316.5,521.3L318,513.9L319,510.8L320.3,508.3L321.1,507.3L322,506.7L324,505.8L327,505.1L329,505.2L330.9,506.3L332,507.3L337,513.3L341,519.3L346.8,529.3L348.8,532.3L351.2,535.3L354,538.3L357,541L359,542.6L363.1,545.3Z"/>
<path fill="#e2e2e2" d="M361,551.3L245,551.3L245,532.5L262,532.3L266,532L268,531.3L269,531.2L270,530.4L271,530.2L272,529.3L273,529.1L274,528.3L275,528.1L276,527.3L277,527.2L278,526.3L279,526.1L280,525.3L281,525L282,524.3L283,524L284,523.3L285,523.1L286.9,522.3L289,522.1L292,522.3L293,523.1L294,523.3L295,524.2L297,525.3L298,526.1L300,527.3L302,529.2L305,530.8L306,531.2L310,531.5L312,531.3L313,531L313.7,530.3L315.6,527.3L316.9,524.3L317,523.2L317.8,521.3L318,518.3L318.6,517.3L318.9,516.3L319,514.3L319.7,513.3L320,511.3L320.9,510.3L322,508.3L323,507.9L323.8,507.3L325,507L326,506.3L329,506.3L332,508.9L336,513.3L336.4,514.3L338,516.3L339.1,518.3L340,519.3L341.1,521.3L342,522.3L342.2,523.3L343,524.3L343.4,525.3L344.8,527.3L345.2,528.3L346,529.3L347.1,531.3L350.2,535.3L357,542.2L358,543L358.8,543.3L361.1,545.3Z"/>
<path fill="#e7e7e7" d="M357,551.3L245,551.3L245,534L258,533.8L265,533.4L267,533.1L269,532.5L271,531.5L284,524.7L286,523.8L289,523.2L290,523.2L292,523.7L294,524.8L299,528.1L302,530.4L304,531.6L306.1,532.3L308,532.6L310,532.9L312,532.8L313,532.5L314,531.8L316,529.3L318.1,525.3L321.3,517.3L323.6,513.3L325,511.7L326,510.9L328,510.3L329,510.3L330,510.6L331,511.3L333,513.1L334,514.2L341.5,524.3L346,531.7L347.9,534.3L357.7,545.3L357.7,551.3Z"/>
<path fill="#eaeaea" d="M356,551.3L245,551.3L245,534.5L258,534.4L264,534L267,533.6L270.5,532.3L284,525.1L287,524L289,523.6L291,523.8L293,524.7L298,527.9L302,530.9L304,532L306,532.7L308,533.1L310,533.3L312,533.3L313,533L314.1,532.3L315.1,531.3L316.5,529.3L318.7,525.3L321.7,518.3L324.1,514.3L326,512.3L327,511.7L328,511.4L329,511.4L330,511.7L332,513.1L334,515.2L341,524.4L347,533.9L356.8,545.3L356.8,551.3Z"/>
<path fill="#ededed" d="M356,551.3L245,551.3L245,535L258,534.8L264,534.4L267,534.1L269,533.4L271,532.5L285,525.1L287,524.4L289,524L291,524.3L293,525.1L298,528.3L302,531.3L304,532.4L306,533.1L309,533.6L311,533.8L313,533.5L314.8,532.3L316.4,530.3L319.3,525.3L322,519.2L324.5,515.3L326,513.6L327,512.9L328,512.4L329,512.3L330,512.6L331,513.1L333.3,515.3L341,525.1L346.7,534.3L355.4,544.3L356.1,545.3Z"/>
<path fill="#f1f1f1" d="M355,551.3L245,551.3L245,535.4L256,535.4L264,534.9L267,534.6L269,534L271,533L285.7,525.3L289,524.5L291,524.7L292.5,525.3L297.3,528.3L302,531.8L304,532.9L307,533.8L309,534.1L311,534.2L313,534L314,533.5L315,532.7L316.2,531.3L317.6,529.3L319.3,526.3L322.7,519.3L325,515.9L327,513.9L328,513.4L329,513.2L330,513.4L331,513.9L333,515.8L341,525.9L346.2,534.3L355,544.7L355.4,545.3L355.4,551.3Z"/>
<path fill="#f4f4f4" d="M354,551.3L245,551.3L245,536L259,535.9L265,535.4L268,534.9L271,533.7L278,530L284.7,526.3L287.2,525.3L289,525L291,525.2L293.3,526.3L297.9,529.3L301,531.7L303,533L305,533.8L310,534.7L312,534.8L313,534.5L314,534.1L315.1,533.3L317.6,530.3L320.5,525.3L323,520.2L325,517.2L326.8,515.3L328,514.4L329,514.1L330,514.2L331,514.8L332,515.7L339,524.1L342,528.3L345.5,534.3L354,544.4L354.6,545.3L354.6,551.3Z"/>
<path fill="#f7f7f7" d="M353,551.3L245,551.3L245,537L258,536.8L268,535.9L271,534.6L278,531L284.5,527.3L286.8,526.3L289,526L291.5,526.3L293.4,527.3L297.9,530.3L301,532.7L303,533.9L305,534.7L307,535.1L311,535.7L313,535.4L314,535.1L315,534.5L316.3,533.3L317.1,532.3L320.5,527.3L324,520.5L326,517.8L328,515.9L329,515.3L330,515.5L331,516.1L332,517.1L334.5,520.3L339,525.5L341,528.2L344.4,534.3L353,544.6L353.4,545.3L353.4,551.3Z"/>
</g></g>
<rect x="28.6" y="297.3" width="20.1" height="247.7" fill="url(#cbg)"/>
<rect x="453.9" y="297.3" width="19.7" height="247.7" fill="url(#cbg)"/>
<path d="M28.6,346.84h2M48.7,346.84h-2" stroke="#000" stroke-opacity="0.35" stroke-width="0.6" fill="none"/>
<path d="M28.6,396.38h2M48.7,396.38h-2" stroke="#000" stroke-opacity="0.35" stroke-width="0.6" fill="none"/>
<path d="M28.6,445.92h2M48.7,445.92h-2" stroke="#000" stroke-opacity="0.35" stroke-width="0.6" fill="none"/>
<path d="M28.6,495.46h2M48.7,495.46h-2" stroke="#000" stroke-opacity="0.35" stroke-width="0.6" fill="none"/>
<rect x="28.9" y="297.6" width="19.5" height="247.1" fill="none" stroke="#000" stroke-opacity="0.18" stroke-width="0.6"/>
<path d="M453.9,328.26h2M473.6,328.26h-2" stroke="#000" stroke-opacity="0.35" stroke-width="0.6" fill="none"/>
<path d="M453.9,359.23h2M473.6,359.23h-2" stroke="#000" stroke-opacity="0.35" stroke-width="0.6" fill="none"/>
<path d="M453.9,390.19h2M473.6,390.19h-2" stroke="#000" stroke-opacity="0.35" stroke-width="0.6" fill="none"/>
<path d="M453.9,421.15h2M473.6,421.15h-2" stroke="#000" stroke-opacity="0.35" stroke-width="0.6" fill="none"/>
<path d="M453.9,452.11h2M473.6,452.11h-2" stroke="#000" stroke-opacity="0.35" stroke-width="0.6" fill="none"/>
<path d="M453.9,483.07h2M473.6,483.07h-2" stroke="#000" stroke-opacity="0.35" stroke-width="0.6" fill="none"/>
<path d="M453.9,514.04h2M473.6,514.04h-2" stroke="#000" stroke-opacity="0.35" stroke-width="0.6" fill="none"/>
<rect x="454.2" y="297.6" width="19.1" height="247.1" fill="none" stroke="#000" stroke-opacity="0.18" stroke-width="0.6"/>
<text transform="translate(27.2 301.2) scale(0.91 1)" text-anchor="end">0.25</text>
<text transform="translate(27.2 350.74) scale(0.91 1)" text-anchor="end">0.2</text>
<text transform="translate(27.2 400.28) scale(0.91 1)" text-anchor="end">0.15</text>
<text transform="translate(27.2 449.82) scale(0.91 1)" text-anchor="end">0.1</text>
<text transform="translate(27.2 499.36) scale(0.91 1)" text-anchor="end">0.05</text>
<text transform="translate(27.2 548.9) scale(0.91 1)" text-anchor="end">0</text>
<text transform="translate(474.5 301.2) scale(0.91 1)">0.8</text>
<text transform="translate(474.5 332.16) scale(0.91 1)">0.7</text>
<text transform="translate(474.5 363.12) scale(0.91 1)">0.6</text>
<text transform="translate(474.5 394.09) scale(0.91 1)">0.5</text>
<text transform="translate(474.5 425.05) scale(0.91 1)">0.4</text>
<text transform="translate(474.5 456.01) scale(0.91 1)">0.3</text>
<text transform="translate(474.5 486.97) scale(0.91 1)">0.2</text>
<text transform="translate(474.5 517.94) scale(0.91 1)">0.1</text>
<text transform="translate(474.5 548.9) scale(0.91 1)">0</text>
<text class="cap" x="255" y="564.8" text-anchor="middle">(c)</text>
<clipPath id="cld"><polygon points="581.25,545.3 581.25,471.6 680.2,299.8 778.4,299.8 778.4,545.3"/></clipPath>
<clipPath id="crd"><polygon points="777.7,545.3 777.7,299.8 875.5,299.8 974.3,471.6 974.3,545.3"/></clipPath>
<g clip-path="url(#cld)"><g filter="url(#jet)">
<rect x="573.25" y="291.8" width="212" height="261" fill="#040404"/>
<path fill="#050505" d="M783.2,550.9L692.2,550.9L653.2,551.2L575.2,551.3L574.8,550.8L574.8,293.8L575.2,293.3L752.2,293.3L783.2,293.4L783.6,293.8L783.5,459.8Z"/>
<path fill="#080808" d="M783.2,550.8L692.2,550.9L653.2,551.2L575.2,551.3L574.8,550.8L574.8,293.8L575.2,293.3L752.2,293.3L783.2,293.4L783.6,293.8L783.5,458.8Z"/>
<path fill="#0b0b0b" d="M783.2,550.8L692.2,550.9L653.2,551.2L575.2,551.3L574.8,550.8L574.8,293.8L575.2,293.3L752.2,293.3L783.2,293.4L783.6,293.8L783.5,457.8Z"/>
<path fill="#0e0e0e" d="M783.2,550.8L692.2,550.9L653.2,551.2L575.2,551.3L574.8,550.8L574.8,293.8L575.2,293.3L752.2,293.3L783.2,293.4L783.6,293.8L783.5,457.8Z"/>
<path fill="#121212" d="M783.2,550.8L692.2,550.9L653.2,551.2L575.2,551.3L574.8,550.8L574.8,293.8L575.2,293.3L752.2,293.3L783.2,293.4L783.6,293.8L783.5,456.8Z"/>
<path fill="#151515" d="M726.2,550.8L688.2,550.9L653.2,551.2L575.2,551.3L574.8,550.8L574.8,293.8L575.2,293.3L752.2,293.4L783.2,293.4L783.6,293.8L783.5,456.8L783.2,543L775.2,542.9L762.2,541.7L758.2,541.5L752.2,541.8L736.2,543.1L731.7,543.8L727.2,544.8L727.2,550.8Z"/>
<path fill="#181818" d="M713.2,550.8L687.2,550.8L653.2,551.2L575.2,551.2L574.8,550.8L574.8,293.8L575.2,293.4L752.2,293.4L783.2,293.5L783.6,293.8L783.5,456.8L783.2,537.1L764.2,537.2L758.2,537.5L750.2,538.4L737.2,540.2L722,542.8L717.3,543.8L714,544.8L714,550.8Z"/>
<path fill="#1d1d1d" d="M704.2,550.8L653.2,551.2L575.2,551.2L574.8,550.8L574.8,293.8L575.2,293.4L752.2,293.4L783.2,293.5L783.6,293.8L783.5,456.8L783.2,530.5L777.2,530.5L769.2,531.4L759.2,532.9L707.1,543.8L704.5,544.8L704.5,550.8Z"/>
<path fill="#232323" d="M690.2,550.8L653.2,551.2L575.2,551.2L574.8,550.8L574.8,293.8L575.2,293.4L752.2,293.4L783.2,293.5L783.6,293.8L783.5,455.8L783.2,517.2L777.2,517.2L765,521.8L754.2,526.3L746.2,529.4L738.2,532.2L731.2,534.4L716.2,538.4L699.7,541.8L693.2,543.8L690.8,544.8L690.8,550.8Z"/>
<path fill="#292929" d="M686.2,550.8L653.2,551.2L575.2,551.2L574.8,550.8L574.8,293.8L575.2,293.4L751.2,293.4L783.2,293.5L783.6,293.8L783.2,513.3L777.2,513.3L747.2,526.2L739.2,529.3L727.2,533.4L721.2,535.2L714.2,537.1L697.7,540.8L694.2,541.8L688.3,543.8L686.4,544.8L686.4,550.8Z"/>
<path fill="#303030" d="M683.2,550.8L653.2,551.1L575.2,551.2L574.9,550.8L574.9,293.8L575.2,293.4L751.2,293.4L783.2,293.5L783.5,293.8L783.2,510.2L777.2,510.2L753.2,521.3L746.2,524.4L737.6,527.8L722.2,533.3L713.2,536.1L697.6,539.8L690.8,541.8L687.2,543L685.4,543.8L683.8,544.8L683.8,550.8Z"/>
<path fill="#363636" d="M681.2,550.8L653.2,551.1L575.2,551.2L574.9,550.8L574.9,293.8L575.2,293.4L751.2,293.4L783.2,293.5L783.5,293.8L783.2,507L777.2,507L753.5,518.8L747.1,521.8L739.9,524.8L719.5,532.8L712.2,535.1L691.2,540.7L685,542.8L682.9,543.8L681.6,544.8L681.6,550.8Z"/>
<path fill="#3d3d3d" d="M679.2,550.8L653.2,551.1L575.2,551.2L574.9,550.8L574.9,293.8L575.2,293.4L751.2,293.4L783.2,293.5L783.5,293.8L783.2,503.8L777.2,503.8L756.5,514.8L746.5,519.8L717.2,532.2L710.2,534.6L688,540.8L682.6,542.8L680.8,543.8L679.6,544.8L679.6,550.8Z"/>
<path fill="#434343" d="M677.2,550.8L653.2,551.1L575.2,551.2L574.9,550.8L574.9,293.8L575.2,293.4L783.2,293.6L783.5,293.8L783.2,500.2L777.2,500.2L756.8,511.8L747.6,516.8L741.4,519.8L730.2,524.8L716.2,531.3L708.2,534.1L685.6,540.8L680.7,542.8L679,543.8L677.8,544.8L677.8,550.8Z"/>
<path fill="#494949" d="M675.2,550.8L653.2,551.1L575.2,551.1L574.9,550.8L574.9,293.8L575.2,293.5L783.2,293.6L783.5,293.8L783.2,494.8L777.2,494.8L773.2,497.4L762.2,504.1L750.4,511.8L742.1,516.8L736.6,519.8L717.2,529.6L713.2,531.3L707.2,533.4L683.6,540.8L679,542.8L677.3,543.8L676.2,544.8L676.2,550.8Z"/>
<path fill="#505050" d="M674.2,550.8L652.2,551.1L575.2,551.1L574.9,550.8L574.9,293.8L575.2,293.5L783.2,293.6L783.5,293.8L783.2,489.1L777.2,489.1L760.2,500.3L748.9,508.8L735.9,517.8L730.9,520.8L718.2,527.8L713.2,530.1L707.2,532.5L699.2,535.2L684.6,539.8L681.9,540.8L677.5,542.8L675.8,543.8L674.7,544.8L674.7,550.8Z"/>
<path fill="#565656" d="M673.2,550.8L652.2,551.1L575.2,551.1L574.9,550.8L574.9,293.8L575.2,293.5L783.2,293.6L783.5,293.8L783.2,483.4L777.2,483.4L772.2,486.7L762.2,493.4L756.2,497.9L745.9,506.8L733.8,516.8L727.8,520.8L719.4,525.8L713.6,528.8L706.6,531.8L698.3,534.8L683,539.8L678.1,541.8L674.4,543.8L673.3,544.8Z"/>
<path fill="#5c5c5c" d="M671.2,550.8L652.2,551.1L575.2,551.1L574.9,550.8L574.9,293.8L575.2,293.5L783.2,293.6L783.4,293.8L783.2,477.9L777.2,477.9L769.2,483L761.2,488.6L756.2,492.5L751.2,496.8L735.2,512.8L731.9,515.8L726.5,519.8L719.2,524.4L713.1,527.8L706.7,530.8L699,533.8L681.2,539.9L676.6,541.8L673,543.8L671.9,544.8L671.9,550.8Z"/>
<path fill="#636363" d="M670.2,550.8L652.2,551L575.2,551.1L575,550.8L575,293.8L575.2,293.5L783.2,293.6L783.4,293.8L783.2,472.6L777.2,472.6L774.2,474.7L766.2,479.6L759.2,484.8L753.3,489.8L749.2,493.8L731.5,513.8L727.2,517.5L722.6,520.8L714.6,525.8L710.2,528.1L705.2,530.5L696.9,533.8L680,539.8L673.2,542.8L671.6,543.8L670.5,544.8L670.5,550.8Z"/>
<path fill="#696969" d="M668.2,550.8L652.2,551L575.2,551.1L575,550.8L575,293.8L575.2,293.5L783.2,293.6L783.4,293.8L783.2,467L777.2,467L773.2,470.8L765.2,476.5L759.2,481.3L754.2,485.7L749.2,490.9L730.3,512.8L727,515.8L722.2,519.5L714.1,524.8L709.2,527.5L704.6,529.8L697.5,532.8L678.7,539.8L671.9,542.8L670.3,543.8L669.2,544.8L669.2,550.8Z"/>
<path fill="#707070" d="M667.2,550.8L652.2,551L575.2,551.1L575,550.8L575,293.8L575.2,293.5L783.2,293.7L783.4,293.8L783.2,460L777.2,460L774.4,463.8L771.2,467.3L759.2,477.9L753.2,483.8L749.2,488.3L739.8,499.8L731.2,509.8L727.3,513.8L723.2,517.2L718.3,520.8L713.7,523.8L709.2,526.4L704.6,528.8L695.4,532.8L674.9,540.8L670.7,542.8L669.1,543.8L668,544.8L668,550.8Z"/>
<path fill="#767676" d="M666.2,550.8L652.2,551L575.2,551.1L575,550.8L575,293.8L575.2,293.5L783.2,293.7L783.4,293.8L783.2,450.4L777.2,450.4L773.3,457.8L769,463.8L765.5,467.8L756.2,477.2L753.2,480.5L750.2,484.1L743,493.8L737.2,500.9L729.4,509.8L724.1,514.8L719.2,518.7L714.8,521.8L710.1,524.8L705.2,527.5L697.2,531.2L673.7,540.8L669.4,542.8L667.8,543.8L666.8,544.8L666.8,550.8Z"/>
<path fill="#7c7c7c" d="M665.2,550.8L652.2,551L575.2,551L575,550.8L575,293.8L575.2,293.6L783.2,293.7L783.2,437.6L777.2,437.6L774.5,444.8L771.3,451.8L768.6,456.8L765.5,461.8L763.3,464.8L759.4,469.8L751.2,479.4L743.5,490.8L738.9,496.8L731.2,505.8L726.2,511.1L720.9,515.8L715.8,519.8L710.2,523.5L705.2,526.5L695.2,531.3L684.8,535.8L672.5,540.8L668.2,542.8L666.7,543.8L665.8,544.8L665.8,550.8Z"/>
<path fill="#838383" d="M664.2,550.8L642.2,551L575.2,551L575,550.8L575,293.8L575.2,293.6L783.2,293.7L783.2,420.7L777.2,420.7L773.6,433.8L770.9,441.8L766.6,451.8L762,460.8L757.6,467.8L749.2,479L743.9,487.8L741.1,491.8L735.7,498.8L729.6,505.8L724.7,510.8L719.1,515.8L713.2,520.3L707.2,524.3L702.2,527.1L697.2,529.6L683.5,535.8L669.1,541.8L667.2,542.8L665.7,543.8L664.8,544.8L664.8,550.8Z"/>
<path fill="#898989" d="M663.2,550.8L575.2,551L575,550.8L575,293.8L575.2,293.6L783.2,293.7L783.2,412.8L777.2,412.8L775.9,415.8L774.9,418.8L770.8,433.8L768.8,439.8L764.8,449.8L760.6,458.8L756,466.8L749.2,476.5L741.7,488.8L737.3,494.8L731.5,501.8L725.2,508.6L719.8,513.8L713.2,519.1L706.5,523.8L702.2,526.3L696.2,529.4L680,536.8L668.1,541.8L666.2,542.8L664.8,543.8L663.9,544.8L663.9,550.8Z"/>
<path fill="#8f8f8f" d="M662.2,550.8L575.2,551L575,550.8L575,293.8L575.2,293.6L783.2,293.7L783.2,401.2L777.2,401.2L775,409.8L772.6,416.8L769.2,430.8L767.8,435.8L763.8,446.8L759.9,455.8L756.9,461.8L754.1,466.8L740.2,488.7L735.8,494.8L731.7,499.8L727.3,504.8L722.5,509.8L717.1,514.8L712.1,518.8L706.6,522.8L701.7,525.8L695.2,529.2L682.2,535.3L669.4,540.8L665.3,542.8L663.9,543.8L663,544.8L663,550.8Z"/>
<path fill="#969696" d="M661.2,550.8L575.2,551L575.1,550.8L575.1,293.8L575.2,293.6L750.2,293.6L783.2,293.8L783.2,383.8L777.2,383.8L774.2,398.8L771.9,408.8L770.3,414.8L767.8,426.8L766.3,432.8L764.4,438.8L762,445.8L759.6,451.8L756.9,457.8L751.8,467.8L743.4,481.8L740.2,486.6L735,493.8L730.2,499.8L725.8,504.8L721,509.8L716.7,513.8L710.7,518.8L705.2,522.8L700.4,525.8L694.7,528.8L680.1,535.8L668.6,540.8L664.5,542.8L663.1,543.8L662.2,544.8L662.2,550.8Z"/>
<path fill="#9c9c9c" d="M661.2,550.8L575.2,551L575.1,550.8L575.1,293.8L575.2,293.6L750.2,293.6L783.2,293.8L783.2,360.4L777.2,360.4L773.6,382.8L767.8,412.8L765.9,423.8L764.7,429.8L762.7,436.8L759.1,447.8L755.8,455.8L752.6,462.8L749.6,468.8L745.2,476.5L742.2,481.5L739.2,486L733.5,493.8L728.7,499.8L723.4,505.8L718.4,510.8L714.1,514.8L708,519.8L703.8,522.8L699.1,525.8L695.4,527.8L678.2,536.2L667.7,540.8L663.6,542.8L662.2,543.8L661.3,544.8Z"/>
<path fill="#a3a3a3" d="M660.2,550.8L575.2,551L575.1,550.8L575.1,293.8L575.2,293.6L750.2,293.6L783.2,293.8L783.2,338.2L777.2,338.2L775.8,349.8L774,361.8L767.2,399.9L764,422.8L762.8,428.8L760.7,436.8L756.8,448.8L753.6,456.8L749.6,465.8L746.5,471.8L743.2,477.7L740.2,482.5L737.2,486.7L731.2,494.8L726.3,500.8L721.9,505.8L716.9,510.8L711.4,515.8L706.5,519.8L702.5,522.8L697.7,525.8L678.2,535.8L664.6,541.8L662.2,543.1L661.3,543.8L660.5,544.8L660.5,550.8Z"/>
<path fill="#a9a9a9" d="M659.2,550.8L575.2,551L575.1,550.8L575.1,293.8L575.2,293.6L750.2,293.6L783.2,293.8L783.2,316.1L777.2,316.1L774.6,339.8L772.7,354.8L765.2,401.5L762.7,420.8L761.7,426.8L759.5,435.8L755.7,447.8L751.7,457.8L747.7,466.8L744.6,472.8L741.8,477.8L739.2,481.8L735.7,486.8L729.7,494.8L724.8,500.8L720.4,505.8L715.4,510.8L709.9,515.8L705.1,519.8L701,522.8L696.3,525.8L677.3,535.8L673.1,537.8L663.8,541.8L661.2,543.2L660.4,543.8L659.6,544.8L659.6,550.8Z"/>
<path fill="#afafaf" d="M658.2,550.8L575.2,550.9L575.1,550.8L575.1,293.8L575.2,293.7L750.2,293.7L775.3,293.8L775.3,301.8L774.5,316.8L772.2,340.8L769.9,359.8L764.2,398.9L761.1,422.8L759.3,431.8L755.7,443.8L752.5,452.8L748.2,462.8L745.3,468.8L742.2,474.5L739.2,479.5L736.3,483.8L730.4,491.8L725,498.8L719.8,504.8L714.9,509.8L710.7,513.8L704.8,518.8L700.9,521.8L696.5,524.8L691.4,527.8L678.4,534.8L672.2,537.8L662.8,541.8L660.2,543.2L659.5,543.8L658.6,544.8L658.6,550.8Z"/>
<path fill="#b6b6b6" d="M657.2,550.8L575.2,550.9L575.1,550.8L575.1,293.8L575.2,293.7L772.6,293.8L772.5,301.8L771.9,316.8L770,339.8L767.1,365.8L760.2,420.8L758.5,429.8L755.7,439.8L752.4,449.8L747.9,460.8L745.2,466.3L742.2,472L738.8,477.8L735.5,482.8L729.7,490.8L724.3,497.8L719.2,503.8L714.4,508.8L709.2,513.8L703.3,518.8L698.1,522.8L693.5,525.8L684.8,530.8L675.5,535.8L671.3,537.8L661.8,541.8L659.2,543.2L658.5,543.8L657.7,544.8L657.7,550.8Z"/>
<path fill="#bcbcbc" d="M656.2,550.8L575.1,550.8L575.1,293.8L769.8,293.8L769.8,301.8L769.3,316.8L767.9,337.8L763.7,379.8L759.4,417.8L757.7,427.8L755.4,436.8L751.5,448.8L747.2,459.4L744.7,464.8L741.5,470.8L737.9,476.8L734,482.8L728.2,490.8L722.8,497.8L717.7,503.8L712.9,508.8L707.7,513.8L701.8,518.8L696.6,522.8L690.5,526.8L682,531.8L674.5,535.8L668,538.8L660.7,541.8L658.2,543.2L657.4,543.8L656.7,544.8L656.7,550.8Z"/>
<path fill="#c2c2c2" d="M655.2,550.8L575.1,550.8L575.1,293.8L767.3,293.8L766.9,316.8L765.8,336.8L761.7,384.8L758.5,414.8L756.8,425.8L755,433.8L751,446.8L746.7,457.8L744.2,463.1L741.2,468.8L737.2,475.5L733.2,481.8L727.4,489.8L721.3,497.8L717.1,502.8L712.4,507.8L706.2,513.8L700.3,518.8L695.1,522.8L689.3,526.8L680.9,531.8L673.4,535.8L666.9,538.8L660.2,541.4L657.2,543.1L656.4,543.8L655.7,544.8L655.7,550.8Z"/>
<path fill="#c9c9c9" d="M654.2,550.8L575.2,550.8L575.2,293.8L765.6,293.8L765.2,316.8L764.2,335.8L759.8,389.8L757.4,413.8L755.8,424.8L753.7,433.8L749.7,446.8L745.4,457.8L743.1,462.8L739.9,468.8L735.2,476.3L730.9,482.8L725.2,490.8L719.8,497.8L715.6,502.8L710.9,507.8L704.7,513.8L698.8,518.8L692.3,523.8L686.3,527.8L679.7,531.8L672.2,535.8L665.6,538.8L659.2,541.3L656.4,542.8L655.2,543.8L654.5,544.8L654.5,550.8Z"/>
<path fill="#cfcfcf" d="M652.2,550.8L575.2,550.8L575.2,293.8L764,293.8L763.7,316.8L762.7,334.8L758.4,390.8L756.3,412.8L754.5,424.8L752.7,432.8L748.4,446.8L746.3,452.8L744.2,457.8L741.8,462.8L738.5,468.8L734.2,475.6L729.4,482.8L723.7,490.8L718.3,497.8L714,502.8L709.2,507.9L703.1,513.8L697.3,518.8L690.8,523.8L684.9,527.8L678.2,531.8L672.7,534.8L666.5,537.8L657.2,541.6L653.7,543.8L652.4,544.8L652.4,550.8Z"/>
<path fill="#d6d6d6" d="M647.2,550.8L575.2,550.8L575.2,293.8L762.5,293.8L762.2,315.8L761.3,332.8L756.9,392.8L755,412.8L753.2,424.7L751.2,433.5L746.8,447.8L744.6,453.8L742.5,458.8L740,463.8L736.5,469.8L730.2,479.3L725.2,486.5L719.9,493.8L715.1,499.8L710.7,504.8L705.9,509.8L699.3,515.8L693.3,520.8L687.9,524.8L681.7,528.8L674.8,532.8L667,536.8L658.2,540.4L652.2,543.3L650.2,543.8L648,544.8L648,550.8Z"/>
<path fill="#dcdcdc" d="M643.2,550.8L575.2,550.8L575.2,293.8L761,293.8L760.7,313.8L760.2,325.7L757.9,356.8L755.4,394.8L753.6,413.8L751.5,426.8L749.3,435.8L745.2,448.6L741.2,458.6L738.2,464.5L735.2,469.5L727.2,481.4L721.3,489.8L716.2,496.4L711.8,501.8L707.2,506.8L702.2,511.8L695.4,517.8L690.3,521.8L683.2,526.8L676.5,530.8L669.1,534.8L662.7,537.8L653.2,541.7L647.2,543.2L645.6,543.8L643.8,544.8L643.8,550.8Z"/>
<path fill="#e2e2e2" d="M639.2,550.8L575.2,550.8L575.2,293.8L759.2,293.8L759,315.8L758.2,329.8L756.5,352.8L753.9,392.8L752.2,411.9L750.2,425.4L748.2,433.9L746.2,440.7L743.2,449.7L741.2,454.9L739.2,459.4L736.2,465L733.2,469.8L724.2,483.1L717.2,492.7L713.2,497.8L708.2,503.6L704.2,507.8L699,512.8L693.3,517.8L685.4,523.8L679.2,527.8L670.4,532.8L664.6,535.8L655.7,539.8L652.2,540.8L647.2,541.4L644.2,542.3L640.9,543.8L639.4,544.8L639.4,550.8Z"/>
<path fill="#e7e7e7" d="M634.2,550.8L575.2,550.8L575.2,293.8L756.8,293.8L756.7,312.8L756.2,323.8L753.8,356.8L751.6,393.8L749.9,411.8L748.2,423.8L746.2,432.8L744.1,439.8L741.5,447.8L739.2,453.8L737.2,458.3L734.9,462.8L731.2,468.6L721.2,483.4L715.2,491.6L710.2,497.9L706.2,502.5L701.2,507.7L696.2,512.4L688.7,518.8L681.8,523.8L672,529.8L661,535.8L657,537.8L655.2,538.5L653.2,538.9L648.2,539.2L645.2,539.6L640.2,541.3L636.2,543.1L635.2,543.8L634.5,544.8L634.5,550.8Z"/>
<path fill="#eaeaea" d="M632.2,550.8L575.2,550.8L575.2,293.8L755.5,293.8L755.3,312.8L754.9,323.8L752.5,355.8L750.2,393.8L748.6,411.8L746.9,423.8L744.8,432.8L740.2,447.4L738.2,452.8L736,457.8L733.4,462.8L730.2,467.8L720,482.8L714.2,490.7L709.5,496.8L705.2,501.6L700.3,506.8L695,511.8L687.2,518.3L680.2,523.3L668,530.8L657.2,536.6L655.2,537.5L653.2,537.9L647.2,538L644.2,538.6L639.2,540.3L635.2,542.1L634.2,542.9L632.8,544.8L632.8,550.8Z"/>
<path fill="#ededed" d="M630.2,550.8L575.2,550.8L575.2,293.8L754.2,293.8L754,313.8L753.5,324.8L751.2,355.8L748.9,393.8L747.3,411.8L745.5,423.8L743.4,432.8L739.1,446.8L736.8,452.8L734.6,457.8L732.4,461.8L729.2,466.9L718.5,482.8L712.6,490.8L707.8,496.8L703.3,501.8L698.4,506.8L693,511.8L685.9,517.8L678.2,523.2L666.2,530.6L656.7,535.8L655.2,536.4L653.2,536.9L647.2,536.8L644.2,537.2L639.2,538.9L634.9,540.8L633.2,542.1L630.9,544.8L630.9,550.8Z"/>
<path fill="#f1f1f1" d="M628.2,550.8L575.2,550.8L575.2,293.8L752.8,293.8L752.7,310.8L752.2,323.1L749.8,356.8L747.4,395.8L746,410.8L744.2,423.1L742.2,432L740.2,438.8L737.3,447.8L735.2,452.9L733.2,457.4L731.2,461.1L728.2,465.9L717.2,482.3L711.2,490.4L706.2,496.6L702.2,501L696.5,506.8L691.1,511.8L683.9,517.8L676.9,522.8L665.6,529.8L656.2,534.9L654.2,535.7L653.2,535.9L651.2,535.9L647.2,535.6L644.2,535.9L639.2,537.4L634.2,539.6L633.2,540.3L631.1,542.8L628.9,544.8L628.9,550.8Z"/>
<path fill="#f4f4f4" d="M626.2,550.8L575.2,550.8L575.2,293.8L751.1,293.8L750.9,310.8L750.3,326.8L747.8,358.8L746.2,387.7L745.2,401.3L744.2,411.3L742.2,424.6L740.2,432.9L736.2,445.6L734.2,450.9L732.2,455.5L728.2,462.8L717.2,479.7L712.2,486.8L708.2,491.9L702.2,498.8L696.4,504.8L690.2,510.8L683.1,516.8L676.4,521.8L665.3,528.8L656.1,533.8L654.2,534.6L652.2,534.9L646.2,534.2L643.2,534.4L640.2,535.2L637.2,536.3L633.2,538.1L632.2,539L629.8,541.8L627.2,543.8L626.3,544.8Z"/>
<path fill="#f7f7f7" d="M655.2,533L653.2,533.6L652.2,533.7L650.2,533.4L648.4,532.8L647.3,531.8L647.1,530.8L647.8,528.8L649.3,526.8L654.6,522.8L659.5,518.8L664,514.8L668.2,510.7L675.2,503.2L687.2,488.8L696.2,480.1L699.2,476.7L700.5,474.8L701.4,472.8L704.9,461.8L706.8,456.8L708.8,452.8L713.2,445.2L715.2,441.3L721.2,426.3L723.5,419.8L724.9,416.8L726.2,414.6L727.2,413.6L728.2,413L729.2,412.8L730.2,413L731.2,413.6L732.3,414.8L733.2,416.8L734.1,420.8L734.5,426.8L734.3,429.8L733.8,431.8L731.8,437.8L727.7,447.8L725.6,451.8L721.2,459.3L719.5,462.8L718.2,466.2L714.9,476.8L713.7,479.8L712,482.8L709.8,485.8L707.2,488.8L698,497.8L687.8,509.8L684.9,512.8L681.7,515.8L675.5,520.8L669.7,524.8L663.2,528.8Z"/>
<path fill="#fafafa" d="M653.2,531.8L652.2,531.6L651.8,530.8L652.4,529.8L658.2,525.4L663.2,521.2L671.1,513.8L678.6,505.8L690.2,491.8L699.5,482.8L703,478.8L704.3,476.8L705.6,473.8L710.2,459.6L712.2,455.4L716.7,447.8L718.8,443.8L721.7,436.8L724.3,429.8L726.2,427L727.2,426.1L728.2,425.9L729.2,426.9L729.9,429.8L728.2,435.2L723.2,447.2L717.7,456.8L715.7,460.8L713.9,465.8L712.2,471.4L710.8,475.8L709.2,479.2L707.6,481.8L704.2,485.9L694.2,495.6L682.2,510.1L676.9,515.8L672.8,519.8L669.3,522.8L663.4,526.8L658,529.8Z"/>
</g></g>
<g clip-path="url(#crd)"><g filter="url(#jet)">
<rect x="769.7" y="291.8" width="213" height="261" fill="#040404"/>
<path fill="#050505" d="M980.7,550.8L915.7,550.8L895.7,551.2L771.7,551.3L771.2,550.8L771.7,425.8L771.7,293.8L980.7,293.8Z"/>
<path fill="#080808" d="M799.7,434.7L796.7,431.5L792.6,425.8L790.3,420.8L787.7,416.3L786.7,414.2L785.3,407.8L784.6,406.8L783.1,405.8L779.7,405L777.7,404.7L771.7,404.7L771.7,393.9L777.7,393.9L778.4,392.8L778.5,391.8L777.7,390.5L771.7,390.5L771.7,378.8L777.7,378.8L778.7,379.5L779.7,380.8L780.2,382.8L781,389.8L782,391.8L784.2,394.8L785.2,396.8L785.9,399.8L786.6,405.8L787,406.8L788.7,409.3L789.7,411.3L791.5,415.8L793.9,419.8L796.6,425.8L799.4,430.8L799.8,431.8L800.1,433.8ZM777.7,423.3L771.7,423.3L771.7,417.7L777.7,417.7L778.7,418.2L779.3,418.8L779.7,419.8L779.7,420.8L779.2,421.8ZM915.7,550.8L895.7,551.2L771.7,551.3L771.2,550.8L771.7,426.4L777.7,426.4L783.7,430.2L786.7,432.6L790,435.8L799.2,445.8L800.4,447.8L801.7,451.1L802.6,452.8L805.3,456.8L807.7,462.9L810.4,466.8L812.7,472.7L815,475.8L816.2,477.8L817.7,482.1L820.7,487.8L822.7,491L824.7,493.3L825.5,492.8L825.5,489.8L825.7,489.4L825.9,490.8L826.7,491.5L828.7,494.1L829.7,496.1L830.3,497.8L831,498.8L835.7,503.7L839,507.8L840.2,509.8L841.1,511.8L843.7,519.2L846.7,525.8L847.7,527.9L849.2,529.8L850.6,530.8L851.7,531.1L855.7,531.7L864.7,531.8L893.7,531.7L900.7,532.1L902.7,532.4L905.7,533.2L907.7,534.1L910.7,536L912.7,537.8L915,540.8L916,542.8L916.6,544.8L916.6,550.8ZM805.7,445.3L805.5,444.8L804.7,444.3L802.7,442.1L801.7,440.5L800.7,437L800.7,435.3L800.8,435.8L801.7,436.5L803.7,438.8L804.7,440.5L805.7,443.8ZM824.7,489.3L822.7,486.1L821.2,482.8L820.5,479.8L820.1,475.8L816.7,470.7L814.8,465.8L812.3,460.8L810.3,455.8L807,449.8L806.6,448.8L806.2,446.8L806.7,445.9L809.7,448.9L813.7,454.3L814.7,456.1L816.5,460.8L818.7,464.8L819.8,467.8L820.5,473.8L821.1,475.8L821.7,476.3L823.7,479.1L824.8,481.8L825.2,484.8L825.5,488.8Z"/>
<path fill="#0b0b0b" d="M913.7,550.8L895.7,551.2L771.7,551.3L771.2,550.8L771.7,429.6L777.7,429.6L782.7,432.2L785.7,434.5L789.1,437.8L790.9,439.8L796.7,447.4L798.2,449.8L800,453.8L803.2,458.8L805.2,463.8L808.2,468.8L810.1,473.8L813.3,478.8L815.2,483.8L816.1,485.8L823.7,499.6L824.7,501.1L826.4,502.8L827.7,503.6L831.7,505.1L833.7,506.7L835.4,508.8L838.4,513.8L844.7,528.1L845.7,529.8L847.7,531.8L849.7,532.8L851.7,533.2L854.7,533.5L864.7,533.7L893.7,533.5L900.7,534.2L904.7,535.1L907.7,536.4L909.7,537.8L911.7,539.8L913.1,541.8L914.2,544.8L914.2,550.8Z"/>
<path fill="#0e0e0e" d="M911.7,550.8L895.7,551.1L771.7,551.3L771.2,550.8L771.7,431.9L777.7,431.9L781.7,433.5L783.7,434.7L785.7,436.4L788.1,438.8L789.9,440.8L792.7,445.2L796.2,449.8L797.9,453.8L801.4,458.8L802,459.8L803.3,463.8L804.3,465.8L806.4,468.8L806.8,469.8L807.7,472.8L808.7,474.8L811.7,479.2L813.8,484.8L822.7,500.9L824,502.8L825.7,504.5L826.7,505.2L830.7,506.8L831.9,507.8L833.7,509.9L835.6,512.8L837.2,515.8L842.7,528.1L843.7,529.9L845.3,531.8L846.7,532.8L849.2,533.8L853.7,534.4L864.7,534.6L892.7,534.4L898.7,534.9L902.7,535.7L905.7,536.7L907.7,537.8L910,539.8L911.5,541.8L912.4,543.8L912.7,544.8L912.7,550.8Z"/>
<path fill="#121212" d="M911.7,550.8L895.7,551.1L771.7,551.3L771.2,550.8L771.7,434L777.7,434L779.7,434.8L782.7,435.6L785.6,437.8L788.4,440.8L791.1,445.8L795,450.8L796.2,453.8L796.8,454.8L800.5,459.8L802.2,464.8L803.3,466.8L805.4,469.8L806.3,472.8L807.1,474.8L808.3,476.8L810.5,479.8L812.4,484.8L822.6,502.8L824.7,505.5L825.7,506.2L829.7,507.9L830.7,508.8L832.7,511.2L834.4,513.8L835.7,516.2L841.6,528.8L842.8,530.8L844.6,532.8L846.1,533.8L847.7,534.4L849.8,534.8L853.7,535.2L864.7,535.4L892.7,535.2L897.7,535.5L901.7,536.3L904.7,537.3L906.7,538.3L908.7,539.8L910.4,541.8L911.4,543.8L911.7,544.8Z"/>
<path fill="#151515" d="M910.7,550.8L895.7,551.1L771.7,551.3L771.2,550.8L771.7,436.2L777.7,436.2L779.7,436.8L782.7,437.1L784.7,438.4L786.9,440.8L788,442.8L789.9,446.8L793.7,451.5L795.2,454.8L799.5,460.8L800.8,464.8L801.8,466.8L803.8,469.8L805.7,474.8L807.4,477.8L809.6,480.8L810.6,483.8L811.1,484.8L821.7,503.1L823.7,506.1L824.4,506.8L825.7,507.6L828.5,508.8L829.7,509.9L832.1,512.8L834.7,517.2L840.3,528.8L842.2,531.8L843.7,533.4L844.7,534.1L846.7,535L848.7,535.5L852.7,535.8L864.7,536.1L891.7,535.9L896.7,536.2L901.7,537.1L904.7,538.2L906.7,539.2L908.7,540.8L909.5,541.8L910.1,542.8L911,544.8L911,550.8Z"/>
<path fill="#181818" d="M909.7,550.8L895.7,551.1L771.7,551.2L771.3,550.8L771.7,438.4L777.7,438.4L779.7,438.8L782.7,438.7L783.7,439.1L784.7,439.8L785.5,440.8L786.1,441.8L788.6,447.8L792.1,451.8L793.6,454.8L798.1,460.8L800,465.8L800.9,467.8L802.9,470.8L803.9,473.8L805.4,476.8L806.6,478.8L808.1,480.8L809.8,484.8L822.7,506.3L823.7,507.6L824.7,508.4L826.7,509.3L827.7,509.9L831.1,513.8L833.5,517.8L839,528.8L840.9,531.8L842.7,533.8L844.7,535.1L846.3,535.8L848.7,536.4L850.7,536.6L862.7,536.9L892.7,536.7L896.7,536.9L902.7,538.1L905.7,539.3L906.7,539.9L908.7,541.8L909.7,543.3L910.3,544.8L910.3,550.8Z"/>
<path fill="#1d1d1d" d="M909.7,550.8L895.7,551.1L771.7,551.2L771.3,550.8L771.7,440.6L777.7,440.6L779.7,440.8L782.7,440.5L783.7,440.9L784.7,442.4L787.4,448.8L790.9,452.8L792.1,454.8L797.2,461.8L799.6,467.8L801.7,471.4L803,474.8L805.2,478.8L807.2,481.8L808.5,484.8L817.3,498.8L822.7,507.8L823.7,509.1L826.5,510.8L830.1,514.8L832,517.8L836.6,526.8L838.7,530.4L840.7,533.2L842.4,534.8L844.1,535.8L846.6,536.8L850.7,537.1L863.7,537.6L892.7,537.2L895.7,537.4L901.7,538.3L904.7,539.3L905.7,539.9L907,540.8L908.7,542.8L909.7,544.8Z"/>
<path fill="#232323" d="M907.7,550.8L895.7,551.1L771.7,551.2L771.3,550.8L771.7,445.5L777.7,445.5L778.7,445.8L779.7,446.5L783.7,450L788.7,455.3L791.7,459L794.7,463.6L800.2,474.8L807.1,486.8L815.7,499.7L822,509.8L828.7,517.2L830.4,519.8L835.7,529.1L838.3,532.8L840.1,534.8L841.6,535.8L843.8,536.8L846.7,537.5L849.7,537.8L862.7,538.2L893.7,538L898.7,538.4L901.7,539L903.7,539.6L905.7,540.8L906.8,541.8L908.3,543.8L908.7,544.8L908.7,550.8Z"/>
<path fill="#292929" d="M907.7,550.8L895.7,551.1L771.7,551.2L771.3,550.8L771.7,454.4L777.7,454.4L778.7,454.9L780.7,456.5L784.9,460.8L786.4,462.8L788.7,466.8L790.6,468.8L793.7,471.4L794.7,472.5L803.4,485.8L820,509.8L822.3,512.8L827,517.8L828.7,520.2L835.7,531.4L837.6,533.8L839.8,535.8L841.8,536.8L845,537.8L849.7,538.2L863.7,538.6L893.7,538.3L896.7,538.5L900.7,539.2L902.7,539.8L904.7,540.8L905.9,541.8L907.4,543.8L907.8,544.8Z"/>
<path fill="#303030" d="M906.7,550.8L895.7,551.1L771.7,551.2L771.3,550.8L771.7,463.5L777.7,463.5L778.7,464.2L781.3,466.8L790.9,474.8L796.7,481.8L803.7,490.8L810.4,499.8L816.1,507.8L820.3,512.8L825.9,518.8L835.5,532.8L837.3,534.8L838.7,536L840.1,536.8L842.9,537.8L845.7,538.3L849.7,538.6L863.7,538.9L892.7,538.7L896.7,538.9L899.7,539.4L901.7,539.9L903.8,540.8L905.1,541.8L906.6,543.8L907.1,544.8L907.1,550.8Z"/>
<path fill="#363636" d="M905.7,550.8L895.7,551.1L771.7,551.2L771.3,550.8L771.7,470.1L777.7,470.1L778.7,470.6L780.7,472L786.7,476.9L792.7,482.5L796.7,486.7L801.7,492.4L807.7,499.9L814.7,509.4L824.7,519.6L835.1,533.8L837.2,535.8L838.7,536.8L841.1,537.8L842.7,538.2L845.7,538.8L847.7,538.9L862.7,539.3L892.7,539L896.7,539.3L899.7,539.7L901.7,540.3L903.7,541.3L904.7,542.1L906,543.8L906.4,544.8L906.4,550.8Z"/>
<path fill="#3d3d3d" d="M905.7,550.8L895.7,551L771.7,551.2L771.3,550.8L771.7,476.3L777.7,476.3L779.7,477.1L781.7,478.4L789.7,484.6L793.7,488L798.7,493L802.7,497.4L806.7,502.3L812.3,509.8L814.3,511.8L819.7,516.4L822.1,518.8L825.7,523.1L833.9,533.8L836,535.8L837.5,536.8L839.5,537.8L841.7,538.4L844.7,539L847.7,539.2L863.7,539.6L892.7,539.3L896.7,539.6L899.7,540.1L901.7,540.7L902.7,541.1L903.7,541.8L905.3,543.8L905.8,544.8Z"/>
<path fill="#434343" d="M904.7,550.8L895.7,551L771.7,551.2L771.3,550.8L771.7,482.2L777.7,482.2L779.7,483L787.7,487.5L793.7,492L797.7,495.6L801.7,499.7L804.4,502.8L810.8,510.8L813,512.8L817.7,516.3L820.7,519.2L833.9,534.8L836.4,536.8L838.2,537.8L840.7,538.6L842.7,539.1L848.7,539.6L863.7,539.9L892.7,539.6L895.7,539.8L898.7,540.2L901.1,540.8L902.7,541.6L904,542.8L904.7,543.8L905.2,544.8L905.2,550.8Z"/>
<path fill="#494949" d="M903.7,550.8L895.7,551L771.7,551.2L771.3,550.8L771.7,486.4L777.7,486.4L778.7,486.7L786.7,490.6L793.7,495.2L797.7,498.5L800.7,501.5L807.1,508.8L810,511.8L812.4,513.8L816.7,516.9L818.9,518.8L821.7,521.8L833.1,534.8L835.5,536.8L837.2,537.8L839.7,538.8L841.7,539.3L847.7,539.9L863.7,540.2L892.7,539.9L895.7,540.1L898.7,540.5L900.7,541L902.3,541.8L903.4,542.8L904.2,543.8L904.6,544.8L904.6,550.8Z"/>
<path fill="#505050" d="M903.7,550.8L895.7,551L771.7,551.1L771.4,550.8L771.7,490.3L777.7,490.3L778.7,490.6L786.7,494.1L791.7,496.9L795.7,499.6L799.7,503L804,507.8L808.3,511.8L810.7,513.8L815.7,517.3L818.5,519.8L832.3,534.8L834.7,536.8L837.7,538.5L839.7,539.2L841.7,539.6L847.7,540.2L863.7,540.5L892.7,540.2L895.7,540.4L898.6,540.8L901.6,541.8L902.8,542.8L903.6,543.8L904,544.8L904,550.8Z"/>
<path fill="#565656" d="M902.7,550.8L895.7,551L771.7,551.1L771.4,550.8L771.7,494.3L777.7,494.3L778.7,494.6L784.7,496.6L789.7,498.8L795.7,502.2L799,504.8L801.7,507.8L803.8,509.8L816.1,518.8L819.7,522.3L831.6,534.8L834.7,537.3L837.5,538.8L841.7,540L847.7,540.5L863.7,540.7L892.7,540.5L897.7,540.9L900.8,541.8L902.2,542.8L903,543.8L903.5,544.8L903.5,550.8Z"/>
<path fill="#5c5c5c" d="M902.7,550.8L895.7,551L771.7,551.1L771.4,550.8L771.7,498.2L777.7,498.2L783.7,499.6L789.7,501.6L793.7,503.4L795.7,504.6L797.7,506L800.7,509.2L802.6,510.8L811.7,516.7L814.7,518.8L818.7,522.5L830.9,534.8L834.7,537.7L837.7,539.3L841.7,540.3L846.7,540.8L863.7,541L892.7,540.8L897.7,541.3L899.7,541.7L900.7,542.2L901.6,542.8L902.5,543.8L903,544.8L903,550.8Z"/>
<path fill="#636363" d="M901.7,550.8L771.7,551.1L771.4,550.8L771.7,501.9L777.7,501.9L783.7,502.8L790.7,504.6L793.7,505.8L795.7,506.8L797,507.8L799.9,510.8L801.3,511.8L809.7,516.5L813.7,519.2L816.7,521.8L830.1,534.8L834.1,537.8L837.7,539.6L841.7,540.7L846.7,541.1L863.7,541.3L892.7,541.1L897.7,541.6L899.7,542.1L900.9,542.8L901.9,543.8L902.4,544.8L902.4,550.8Z"/>
<path fill="#696969" d="M901.7,550.8L771.7,551.1L771.4,550.8L771.7,504.8L777.7,504.8L782.7,505.3L789.7,506.8L794.7,508.7L795.7,509.3L798.5,511.8L800,512.8L808.7,517L812.7,519.6L815.7,522.1L829.4,534.8L833.7,538L835.7,539.1L837.7,540L841.7,541L845.7,541.4L863.7,541.6L891.7,541.4L896.7,541.7L898.7,542.2L900.2,542.8L901.3,543.8L901.7,544.4L901.9,544.8L901.9,550.8Z"/>
<path fill="#707070" d="M900.7,550.8L771.7,551.1L771.4,550.8L771.7,507.5L777.7,507.5L780.7,507.7L785.7,508.5L789.7,509.4L793.7,510.7L798.7,513.8L807.7,517.6L810.7,519.3L813.7,521.5L825.1,531.8L829.8,535.8L834.3,538.8L837.7,540.4L841.7,541.4L844.7,541.7L863.7,541.9L891.7,541.7L896.7,542L898.7,542.5L899.7,543L900.7,543.8L901.3,544.8L901.3,550.8Z"/>
<path fill="#767676" d="M900.7,550.8L771.7,551.1L771.4,550.8L771.7,510.2L779.7,510.4L788.7,511.7L792.7,512.7L796.8,514.8L807.7,518.7L810.7,520.4L813.7,522.6L824.2,531.8L830.4,536.8L834.7,539.5L838.7,541.1L842.7,541.9L845.7,542.1L865.7,542.2L891.7,542L896.7,542.4L898.4,542.8L899.7,543.5L900.8,544.8Z"/>
<path fill="#7c7c7c" d="M899.7,550.8L771.7,551.1L771.4,550.8L771.7,513L779.7,513.1L788.7,514.2L792.7,515L795.7,516.2L804.7,518.7L807.7,519.8L810.7,521.5L813.7,523.7L823.2,531.8L829.6,536.8L834.7,539.9L838.7,541.5L841.7,542.2L844.7,542.4L891.7,542.3L895.7,542.6L897.7,543L898.7,543.4L899.4,543.8L900.2,544.8L900.2,550.8Z"/>
<path fill="#838383" d="M898.7,550.8L771.7,551L771.5,550.8L771.7,515.4L779.7,515.5L788.7,516.3L792.7,517L804.7,519.8L806.7,520.4L809.7,521.9L812.7,524L823.5,532.8L829.7,537.5L834.7,540.4L838.7,541.8L841.7,542.5L844.7,542.8L891.7,542.7L895.7,542.9L897.7,543.4L898.7,543.8L899.6,544.8L899.6,550.8Z"/>
<path fill="#898989" d="M898.7,550.8L771.7,551L771.5,550.8L771.7,516.9L780.7,517.1L789.7,517.9L792.7,518.4L803.7,520.7L806.7,521.6L809.7,523.1L812.7,525.1L823.7,533.8L829.7,538.1L834.6,540.8L838.7,542.2L841.7,542.9L844.7,543.2L891.7,543L895.7,543.3L897.8,543.8L899,544.8L899,550.8Z"/>
<path fill="#8f8f8f" d="M897.7,550.8L771.7,551L771.5,550.8L771.7,518.2L780.7,518.3L789.7,519.2L803.7,521.9L806.7,522.7L809.7,524.1L812.7,526.1L824,534.8L829.7,538.7L834.7,541.3L839.7,542.9L842.7,543.5L844.7,543.6L891.7,543.4L895.7,543.7L896.7,543.9L898.3,544.8L898.3,550.8Z"/>
<path fill="#969696" d="M896.7,550.8L771.7,551L771.5,550.8L771.7,519.5L780.7,519.6L789.7,520.4L803.7,523L806.7,523.8L809.7,525.2L812.7,527.1L824.3,535.8L829.7,539.3L834.8,541.8L839.7,543.3L842.7,543.9L844.7,544.1L862.7,543.8L891.7,543.9L894.7,544L896.7,544.4L897.5,544.8L897.5,550.8Z"/>
<path fill="#9c9c9c" d="M895.7,550.8L771.7,551L771.5,550.8L771.7,520.7L780.7,520.8L789.7,521.6L793.7,522.2L803.7,524.1L806.7,524.9L809.7,526.3L812.7,528.2L823.2,535.8L829.4,539.8L834.7,542.2L841.7,544.3L844.7,544.6L863.7,544.3L877.7,544.6L892.7,544.6L895.7,544.7L895.9,544.8L895.9,550.8Z"/>
<path fill="#a3a3a3" d="M840.7,550.8L771.7,551L771.5,550.8L771.7,522L780.7,522.1L790.7,522.9L804.7,525.6L807.7,526.5L810.2,527.8L813.7,529.9L823.5,536.8L828.7,540L833.7,542.3L841.7,544.8L841.7,550.8ZM864.7,550.8L857.3,550.8L857.3,544.8L865.7,544.8L865.7,550.8Z"/>
<path fill="#a9a9a9" d="M839.7,550.8L771.7,551L771.5,550.8L771.7,523.3L781.7,523.4L790.7,524.2L804.7,527L807.7,527.9L809.7,528.8L813.7,531.1L823.8,537.8L829,540.8L832.7,542.4L840.1,544.8L840.1,550.8Z"/>
<path fill="#afafaf" d="M838.7,550.8L771.7,550.9L771.6,550.8L771.7,524.5L781.7,524.7L790.7,525.6L793.7,526.2L799.7,527.7L805.7,528.8L808.7,529.8L813.7,532.3L822.5,537.8L827.8,540.8L831.7,542.5L838.8,544.8Z"/>
<path fill="#b6b6b6" d="M836.7,550.8L771.7,550.9L771.6,550.8L771.7,525.8L780.7,525.9L789.7,526.8L792.7,527.3L799.7,529.4L805.7,530.3L808.7,531.2L813.7,533.5L822.7,538.8L826.5,540.8L830.7,542.6L837.5,544.8L837.5,550.8Z"/>
<path fill="#bcbcbc" d="M835.7,550.8L771.7,550.9L771.6,550.8L771.7,527L780.7,527.1L789.7,528.1L792.7,528.8L799,530.8L806.7,532L809.7,532.9L813.7,534.6L823.1,539.8L827.4,541.8L830.7,543.2L836.1,544.8L836.1,550.8Z"/>
<path fill="#c2c2c2" d="M833.7,550.8L771.7,550.9L771.7,528.3L780.7,528.4L788.7,529.2L792.7,530.1L798.7,532.1L806.7,533.3L810.7,534.4L814.7,536.1L823.8,540.8L829.7,543.3L834,544.8L834,550.8Z"/>
<path fill="#c9c9c9" d="M830.7,550.8L771.7,550.9L771.7,529.5L780.7,529.6L789.7,530.6L791.7,531L798.7,533.2L806.7,534.3L811.7,535.8L814.7,537L822.3,540.8L831.7,544.8L831.7,550.8Z"/>
<path fill="#cfcfcf" d="M829.7,550.8L771.7,550.9L771.7,530.8L780.7,530.9L789.7,531.8L791.7,532.2L798.7,534.2L806.7,535.2L810.7,536.3L813.7,537.5L820.7,540.8L827.7,543.6L829.7,544.8Z"/>
<path fill="#d6d6d6" d="M827.7,550.8L771.7,550.9L771.7,532L780.7,532.1L789.7,532.9L798.7,535.1L806.7,536.1L810.7,537.2L813.7,538.3L819.7,541.1L826.7,543.8L828.3,544.8L828.3,550.8Z"/>
<path fill="#dcdcdc" d="M826.7,550.8L771.7,550.9L771.7,533.3L780.7,533.3L789.7,534.1L798.7,536L805.7,536.9L809.7,537.8L812.7,538.8L818.7,541.5L825.2,543.8L827,544.8L827,550.8Z"/>
<path fill="#e2e2e2" d="M824.7,550.8L771.7,550.8L771.7,534.8L784.7,534.8L787.7,535.4L792.8,535.8L795.7,536.7L797.7,536.8L799.7,537.6L804.7,537.8L806.7,538.5L809.7,538.9L810.7,539.6L812.7,540L813.7,540.7L814.7,540.8L815.7,541.6L816.7,541.8L817.7,542.5L819.7,542.8L820.7,543.5L822.7,543.8L823.7,544.6L824.7,544.8Z"/>
<path fill="#e7e7e7" d="M816.7,550.8L771.7,550.8L771.7,537.1L782.7,537.1L790.7,537.5L794.7,538.1L799.7,539.2L805.7,540.2L809.7,541.2L813.7,542.7L817.1,544.8L817.1,550.8Z"/>
<path fill="#eaeaea" d="M814.7,550.8L771.7,550.8L771.7,537.7L782.7,537.7L791.7,538.1L799.7,539.8L806.7,541L810.7,542.1L813.7,543.4L815.6,544.8L815.6,550.8Z"/>
<path fill="#ededed" d="M813.7,550.8L771.7,550.8L771.7,538.3L783.7,538.3L791.7,538.6L799.7,540.3L805.7,541.4L809.7,542.4L812.7,543.4L814.6,544.8L814.6,550.8Z"/>
<path fill="#f1f1f1" d="M813.7,550.8L771.7,550.8L771.7,538.8L784.7,538.8L791.7,539.1L805.3,541.8L809.4,542.8L812.2,543.8L813.8,544.8Z"/>
<path fill="#f4f4f4" d="M812.7,550.8L771.7,550.8L771.7,539.4L784.7,539.4L791.7,539.6L793.3,539.8L799.7,541.4L807.2,542.8L810.8,543.8L812.8,544.8L812.8,550.8Z"/>
<path fill="#f7f7f7" d="M810.7,550.8L771.7,550.8L771.7,540.3L791.7,540.4L794.2,540.8L799.7,542.2L803.3,542.8L807.8,543.8L811,544.8L811,550.8Z"/>
</g></g>
<rect x="556.8" y="299.8" width="20" height="245.5" fill="url(#cbg)"/>
<rect x="979.2" y="299.8" width="19.6" height="245.5" fill="url(#cbg)"/>
<path d="M556.8,348.9h2M576.8,348.9h-2" stroke="#000" stroke-opacity="0.35" stroke-width="0.6" fill="none"/>
<path d="M556.8,398h2M576.8,398h-2" stroke="#000" stroke-opacity="0.35" stroke-width="0.6" fill="none"/>
<path d="M556.8,447.1h2M576.8,447.1h-2" stroke="#000" stroke-opacity="0.35" stroke-width="0.6" fill="none"/>
<path d="M556.8,496.2h2M576.8,496.2h-2" stroke="#000" stroke-opacity="0.35" stroke-width="0.6" fill="none"/>
<rect x="557.1" y="300.1" width="19.4" height="244.9" fill="none" stroke="#000" stroke-opacity="0.18" stroke-width="0.6"/>
<path d="M979.2,330.49h2M998.8,330.49h-2" stroke="#000" stroke-opacity="0.35" stroke-width="0.6" fill="none"/>
<path d="M979.2,361.18h2M998.8,361.18h-2" stroke="#000" stroke-opacity="0.35" stroke-width="0.6" fill="none"/>
<path d="M979.2,391.86h2M998.8,391.86h-2" stroke="#000" stroke-opacity="0.35" stroke-width="0.6" fill="none"/>
<path d="M979.2,422.55h2M998.8,422.55h-2" stroke="#000" stroke-opacity="0.35" stroke-width="0.6" fill="none"/>
<path d="M979.2,453.24h2M998.8,453.24h-2" stroke="#000" stroke-opacity="0.35" stroke-width="0.6" fill="none"/>
<path d="M979.2,483.92h2M998.8,483.92h-2" stroke="#000" stroke-opacity="0.35" stroke-width="0.6" fill="none"/>
<path d="M979.2,514.61h2M998.8,514.61h-2" stroke="#000" stroke-opacity="0.35" stroke-width="0.6" fill="none"/>
<rect x="979.5" y="300.1" width="19" height="244.9" fill="none" stroke="#000" stroke-opacity="0.18" stroke-width="0.6"/>
<text transform="translate(555.4 303.7) scale(0.91 1)" text-anchor="end">0.25</text>
<text transform="translate(555.4 352.8) scale(0.91 1)" text-anchor="end">0.2</text>
<text transform="translate(555.4 401.9) scale(0.91 1)" text-anchor="end">0.15</text>
<text transform="translate(555.4 451) scale(0.91 1)" text-anchor="end">0.1</text>
<text transform="translate(555.4 500.1) scale(0.91 1)" text-anchor="end">0.05</text>
<text transform="translate(555.4 549.2) scale(0.91 1)" text-anchor="end">0</text>
<text transform="translate(999.7 303.7) scale(0.91 1)">0.8</text>
<text transform="translate(999.7 334.39) scale(0.91 1)">0.7</text>
<text transform="translate(999.7 365.07) scale(0.91 1)">0.6</text>
<text transform="translate(999.7 395.76) scale(0.91 1)">0.5</text>
<text transform="translate(999.7 426.45) scale(0.91 1)">0.4</text>
<text transform="translate(999.7 457.14) scale(0.91 1)">0.3</text>
<text transform="translate(999.7 487.82) scale(0.91 1)">0.2</text>
<text transform="translate(999.7 518.51) scale(0.91 1)">0.1</text>
<text transform="translate(999.7 549.2) scale(0.91 1)">0</text>
<text class="cap" x="782" y="564.8" text-anchor="middle">(d)</text>
</svg></body></html>
